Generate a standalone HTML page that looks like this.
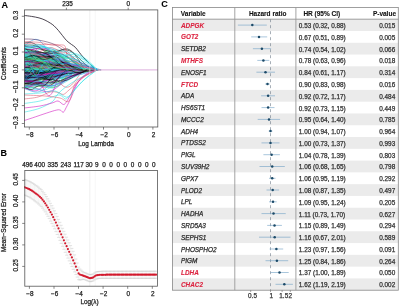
<!DOCTYPE html>
<html><head><meta charset="utf-8"><style>
html,body{margin:0;padding:0;background:#fff;overflow:hidden;width:400px;height:306px}
svg{display:block;will-change:transform}
</style></head><body>
<svg xmlns="http://www.w3.org/2000/svg" width="400" height="306" viewBox="0 0 400 306" font-family='"Liberation Sans", sans-serif'><rect width="400" height="306" fill="#fff"/><svg x="24.4" y="9.9" width="133.4" height="117.1" viewBox="24.4 9.9 133.4 117.1" overflow="hidden"><g fill="none" stroke-width="0.6" stroke-opacity="0.9"><path d="M23.7,71.3 26.2,71.6 28.6,71.7 31.1,71.5 33.5,71.2 36.0,70.7 38.4,70.1 40.9,69.5 43.3,69.0 45.8,68.7 48.2,68.6 50.7,68.8 53.1,69.2 55.6,69.8 58.0,70.5 60.5,71.3 63.0,71.9 65.4,72.3 67.9,72.4 70.3,72.3 72.8,72.0 75.2,71.5 77.7,70.9 80.1,70.4 82.6,69.9" stroke="#DF536B"/><path d="M23.7,51.7 25.9,51.0 28.1,50.9 30.3,51.8 32.5,53.6 34.7,55.8 36.9,57.6 39.1,58.2 41.3,57.4 43.5,55.2 45.7,52.2 47.9,49.4 50.1,47.7 52.3,47.9 54.5,49.9 56.7,53.4 58.9,57.6 61.1,61.6 63.2,64.6 65.4,66.2 67.6,66.8 69.8,66.8 72.0,67.1 74.2,68.0 76.4,69.9" stroke="#28E2E5"/><path d="M23.7,71.6 25.8,71.9 27.9,72.3 30.0,72.6 32.1,72.8 34.2,72.8 36.3,72.6 38.3,72.1 40.4,71.5 42.5,70.8 44.6,70.2 46.7,69.6 48.8,69.3 50.9,69.2 53.0,69.3 55.0,69.7 57.1,70.2 59.2,70.8 61.3,71.2 63.4,71.5 65.5,71.5 67.6,71.4 69.7,71.0 71.7,70.4 73.8,69.9" stroke="#2297E6"/><path d="M23.7,78.3 24.7,77.9 25.6,77.5 26.6,77.1 27.5,76.9 28.5,76.9 29.4,77.2 30.4,77.8 31.3,78.6 32.3,79.5 33.2,80.4 34.2,81.0 35.1,81.4 36.1,81.3 37.0,80.9 38.0,80.1 38.9,78.9 39.9,77.5 40.8,76.1 41.8,74.6 42.7,73.3 43.7,72.1 44.6,71.2 45.6,70.5 46.5,69.9" stroke="#28E2E5"/><path d="M23.7,65.4 24.2,65.6 24.7,65.9 25.2,66.2 25.7,66.6 26.2,66.9 26.7,67.3 27.1,67.6 27.6,67.8 28.1,67.9 28.6,67.9 29.1,67.9 29.6,67.8 30.1,67.8 30.6,67.8 31.0,67.8 31.5,68.0 32.0,68.2 32.5,68.5 33.0,68.8 33.5,69.1 34.0,69.4 34.5,69.6 34.9,69.8 35.4,69.9" stroke="#CD0BBC"/><path d="M23.7,68.1 23.8,68.1 23.9,68.2 23.9,68.3 24.0,68.6 24.1,68.9 24.1,69.2 24.2,69.3 24.3,69.3 24.3,69.2 24.4,68.9 24.4,68.5 24.5,68.1 24.6,67.9 24.6,67.8 24.7,67.9 24.8,68.2 24.8,68.6 24.9,69.0 25.0,69.4 25.0,69.6 25.1,69.8 25.2,69.8 25.2,69.9 25.3,69.9" stroke="#61D04F"/><path d="M23.7,63.6 26.2,63.7 28.7,64.0 31.2,64.3 33.7,64.4 36.2,64.3 38.7,63.9 41.2,63.3 43.8,62.6 46.3,62.0 48.8,61.7 51.3,61.7 53.8,62.1 56.3,62.9 58.8,63.8 61.3,64.7 63.8,65.4 66.3,66.0 68.8,66.3 71.3,66.6 73.8,66.9 76.3,67.3 78.8,68.0 81.3,68.9 83.8,69.9" stroke="#000000"/><path d="M23.7,76.3 24.0,75.8 24.2,75.2 24.4,74.7 24.6,74.6 24.8,74.9 25.0,75.5 25.2,76.3 25.5,76.8 25.7,76.8 25.9,76.1 26.1,74.9 26.3,73.4 26.5,71.9 26.8,70.8 27.0,70.3 27.2,70.4 27.4,70.9 27.6,71.6 27.8,72.0 28.1,72.1 28.3,71.8 28.5,71.1 28.7,70.4 28.9,69.9" stroke="#28E2E5"/><path d="M23.7,64.9 25.3,64.7 26.9,64.6 28.5,64.4 30.0,64.3 31.6,64.3 33.2,64.3 34.8,64.4 36.4,64.6 37.9,64.8 39.5,64.9 41.1,65.0 42.7,65.1 44.2,65.1 45.8,65.1 47.4,65.2 49.0,65.4 50.6,65.6 52.1,66.1 53.7,66.6 55.3,67.3 56.9,67.9 58.4,68.6 60.0,69.3 61.6,69.9" stroke="#61D04F"/><path d="M23.7,70.0 24.9,70.0 26.0,70.0 27.2,70.0 28.3,70.0 29.5,70.1 30.6,70.1 31.8,70.1 32.9,70.1 34.1,70.1 35.2,70.1 36.4,70.1 37.5,70.0 38.7,70.0 39.8,69.9 41.0,69.9 42.1,69.8 43.2,69.8 44.4,69.8 45.5,69.9 46.7,69.9 47.8,69.9 49.0,69.9 50.1,69.9 51.3,69.9" stroke="#000000"/><path d="M23.7,73.1 24.8,73.0 25.9,73.0 27.0,73.0 28.0,73.0 29.1,73.0 30.2,72.9 31.3,72.9 32.3,72.8 33.4,72.7 34.5,72.6 35.6,72.5 36.6,72.4 37.7,72.3 38.8,72.2 39.9,72.1 40.9,71.9 42.0,71.7 43.1,71.5 44.1,71.2 45.2,70.9 46.3,70.7 47.4,70.4 48.4,70.2 49.5,69.9" stroke="#28E2E5"/><path d="M23.7,78.0 25.3,78.3 27.0,78.5 28.6,78.5 30.2,78.2 31.8,77.6 33.4,76.8 35.0,75.9 36.6,75.2 38.2,74.9 39.8,74.9 41.4,75.2 43.1,75.8 44.7,76.4 46.3,76.8 47.9,76.9 49.5,76.6 51.1,75.8 52.7,74.7 54.3,73.5 55.9,72.4 57.5,71.5 59.2,70.8 60.8,70.3 62.4,69.9" stroke="#000000"/><path d="M23.7,63.2 26.3,63.4 28.9,63.6 31.5,63.8 34.1,63.9 36.7,63.6 39.2,63.2 41.8,62.8 44.4,62.6 47.0,62.8 49.6,63.4 52.1,64.4 54.7,65.5 57.3,66.4 59.9,67.1 62.5,67.2 65.1,67.0 67.6,66.6 70.2,66.3 72.8,66.2 75.4,66.6 78.0,67.3 80.6,68.2 83.1,69.1 85.7,69.9" stroke="#000000"/><path d="M23.7,73.0 25.7,72.8 27.7,72.6 29.7,72.5 31.7,72.6 33.7,72.9 35.7,73.3 37.7,73.8 39.7,74.2 41.7,74.4 43.6,74.4 45.6,74.0 47.6,73.4 49.6,72.7 51.6,72.0 53.6,71.4 55.6,71.1 57.6,70.9 59.6,71.0 61.6,71.1 63.5,71.1 65.5,71.0 67.5,70.7 69.5,70.3 71.5,69.9" stroke="#CD0BBC"/><path d="M23.7,74.5 25.5,74.5 27.2,74.4 28.9,74.3 30.7,74.3 32.4,74.2 34.2,74.1 35.9,74.0 37.6,73.9 39.4,73.8 41.1,73.6 42.8,73.5 44.6,73.3 46.3,73.2 48.1,73.0 49.8,72.7 51.5,72.5 53.3,72.2 55.0,71.9 56.7,71.6 58.5,71.2 60.2,70.9 62.0,70.6 63.7,70.2 65.4,69.9" stroke="#2297E6"/><path d="M23.7,66.6 25.5,66.9 27.2,67.1 28.9,67.1 30.6,67.0 32.4,66.7 34.1,66.3 35.8,65.8 37.5,65.2 39.3,64.8 41.0,64.5 42.7,64.3 44.4,64.4 46.2,64.7 47.9,65.3 49.6,66.0 51.3,66.8 53.1,67.6 54.8,68.3 56.5,69.0 58.2,69.4 60.0,69.7 61.7,69.9 63.4,69.9 65.1,69.9" stroke="#000000"/><path d="M23.7,55.8 26.3,55.8 28.9,56.0 31.5,56.2 34.1,56.4 36.7,56.8 39.3,57.2 41.9,57.6 44.5,58.1 47.1,58.6 49.7,59.1 52.3,59.6 54.9,60.0 57.5,60.4 60.1,60.8 62.7,61.2 65.3,61.7 67.9,62.3 70.5,63.0 73.1,63.9 75.7,64.9 78.3,66.0 80.9,67.3 83.5,68.6 86.1,69.9" stroke="#61D04F"/><path d="M23.7,60.7 25.6,60.8 27.5,61.0 29.4,61.1 31.2,61.2 33.1,61.3 35.0,61.4 36.9,61.5 38.7,61.7 40.6,62.0 42.5,62.4 44.4,62.9 46.2,63.5 48.1,64.0 50.0,64.6 51.9,65.1 53.7,65.6 55.6,66.0 57.5,66.4 59.4,66.8 61.3,67.3 63.1,67.8 65.0,68.5 66.9,69.2 68.8,69.9" stroke="#000000"/><path d="M23.7,69.8 25.3,69.9 26.9,70.1 28.5,70.2 30.1,70.3 31.7,70.2 33.3,70.0 34.9,69.8 36.5,69.5 38.1,69.2 39.7,68.9 41.3,68.8 42.9,68.8 44.5,69.0 46.1,69.2 47.7,69.6 49.3,69.9 50.9,70.2 52.5,70.4 54.1,70.4 55.7,70.4 57.3,70.3 58.9,70.1 60.5,70.0 62.1,69.9" stroke="#DF536B"/><path d="M23.7,65.3 24.8,65.4 26.0,65.6 27.1,65.8 28.2,66.0 29.3,66.1 30.4,66.1 31.5,66.0 32.6,65.8 33.7,65.6 34.8,65.5 36.0,65.5 37.1,65.8 38.2,66.2 39.3,66.8 40.4,67.3 41.5,67.9 42.6,68.3 43.7,68.6 44.8,68.8 45.9,68.9 47.1,69.0 48.2,69.2 49.3,69.5 50.4,69.9" stroke="#28E2E5"/><path d="M23.7,79.3 26.4,79.1 29.1,79.7 31.7,80.9 34.4,82.5 37.1,84.3 39.7,86.0 42.4,87.1 45.1,87.5 47.7,87.0 50.4,85.5 53.1,83.2 55.8,80.3 58.4,77.2 61.1,74.2 63.8,71.7 66.4,69.9 69.1,69.0 71.8,68.8 74.4,69.1 77.1,69.8 79.8,70.5 82.4,70.9 85.1,70.7 87.8,69.9" stroke="#DF536B"/><path d="M23.7,70.5 25.9,70.5 28.1,70.5 30.2,70.4 32.4,70.4 34.6,70.3 36.7,70.3 38.9,70.3 41.1,70.4 43.2,70.5 45.4,70.6 47.6,70.7 49.7,70.8 51.9,70.8 54.1,70.8 56.2,70.8 58.4,70.7 60.6,70.5 62.7,70.4 64.9,70.3 67.1,70.1 69.2,70.0 71.4,69.9 73.6,69.9 75.7,69.9" stroke="#2297E6"/><path d="M23.7,68.3 26.2,68.7 28.7,69.0 31.1,69.1 33.6,68.8 36.0,68.3 38.5,67.5 40.9,66.6 43.4,65.9 45.8,65.6 48.3,65.8 50.8,66.5 53.2,67.5 55.7,68.7 58.1,69.8 60.6,70.6 63.0,71.0 65.5,71.0 68.0,70.6 70.4,70.0 72.9,69.5 75.3,69.1 77.8,69.1 80.2,69.4 82.7,69.9" stroke="#000000"/><path d="M23.7,66.3 25.0,66.2 26.4,66.3 27.7,66.5 29.0,66.7 30.3,67.0 31.6,67.3 32.9,67.4 34.2,67.5 35.5,67.4 36.9,67.2 38.2,67.1 39.5,67.1 40.8,67.3 42.1,67.6 43.4,68.1 44.7,68.5 46.0,69.0 47.3,69.2 48.7,69.4 50.0,69.5 51.3,69.5 52.6,69.5 53.9,69.6 55.2,69.9" stroke="#61D04F"/><path d="M23.7,67.0 25.8,67.1 27.9,67.2 29.9,67.3 32.0,67.4 34.1,67.5 36.1,67.5 38.2,67.4 40.3,67.3 42.3,67.2 44.4,67.1 46.5,67.0 48.5,67.1 50.6,67.1 52.6,67.3 54.7,67.5 56.8,67.7 58.8,68.0 60.9,68.3 63.0,68.6 65.0,68.9 67.1,69.2 69.2,69.5 71.2,69.7 73.3,69.9" stroke="#2297E6"/><path d="M23.7,72.1 25.9,72.0 28.0,72.0 30.1,72.1 32.2,72.2 34.3,72.3 36.4,72.4 38.6,72.3 40.7,72.2 42.8,72.0 44.9,71.7 47.0,71.4 49.1,71.2 51.3,71.1 53.4,71.1 55.5,71.2 57.6,71.3 59.7,71.3 61.8,71.3 64.0,71.1 66.1,70.9 68.2,70.6 70.3,70.3 72.4,70.1 74.6,69.9" stroke="#2297E6"/><path d="M23.7,70.3 25.7,69.9 27.7,69.5 29.7,69.1 31.8,68.9 33.8,69.0 35.8,69.4 37.8,70.0 39.8,70.8 41.8,71.7 43.8,72.5 45.8,73.1 47.8,73.3 49.8,73.2 51.8,72.7 53.8,71.9 55.8,71.0 57.8,70.1 59.8,69.4 61.8,68.9 63.8,68.7 65.8,68.9 67.8,69.2 69.8,69.5 71.8,69.9" stroke="#61D04F"/><path d="M23.7,86.1 25.6,85.8 27.4,85.4 29.2,84.6 31.0,83.6 32.8,82.5 34.6,81.3 36.4,80.2 38.2,79.5 40.1,79.0 41.9,79.0 43.7,79.2 45.5,79.5 47.3,79.7 49.1,79.7 50.9,79.3 52.8,78.7 54.6,77.7 56.4,76.6 58.2,75.4 60.0,74.3 61.8,73.1 63.6,72.1 65.5,71.0 67.3,69.9" stroke="#000000"/><path d="M23.7,68.3 25.4,68.4 27.0,68.4 28.6,68.3 30.2,68.2 31.8,67.9 33.4,67.7 35.0,67.4 36.6,67.2 38.3,67.1 39.9,67.1 41.5,67.3 43.1,67.6 44.7,68.0 46.3,68.5 47.9,68.9 49.5,69.3 51.2,69.7 52.8,69.9 54.4,70.1 56.0,70.1 57.6,70.1 59.2,70.0 60.8,69.9 62.4,69.9" stroke="#28E2E5"/><path d="M23.7,67.4 23.9,67.6 24.1,67.8 24.3,68.0 24.5,68.1 24.7,68.2 24.9,68.1 25.1,68.0 25.3,67.9 25.5,67.7 25.7,67.5 25.9,67.4 26.1,67.4 26.3,67.5 26.5,67.7 26.7,68.0 26.9,68.4 27.1,68.7 27.2,69.1 27.4,69.4 27.6,69.6 27.8,69.8 28.0,69.9 28.2,69.9 28.4,69.9" stroke="#000000"/><path d="M23.7,53.9 24.2,54.2 24.7,54.4 25.1,54.6 25.6,54.5 26.1,54.3 26.6,53.7 27.0,52.9 27.5,52.0 28.0,51.2 28.4,50.6 28.9,50.5 29.4,51.1 29.9,52.2 30.3,53.9 30.8,56.0 31.3,58.3 31.7,60.5 32.2,62.5 32.7,64.3 33.1,65.7 33.6,66.9 34.1,68.0 34.6,68.9 35.0,69.9" stroke="#28E2E5"/><path d="M23.7,78.9 24.7,78.8 25.7,78.4 26.7,77.9 27.6,77.1 28.6,76.4 29.6,75.6 30.6,74.9 31.6,74.4 32.5,74.2 33.5,74.1 34.5,74.4 35.5,74.9 36.4,75.5 37.4,76.2 38.4,76.8 39.4,77.2 40.4,77.3 41.3,77.0 42.3,76.4 43.3,75.5 44.3,74.2 45.2,72.8 46.2,71.3 47.2,69.9" stroke="#000000"/><path d="M23.7,77.9 25.2,78.3 26.7,78.2 28.2,77.4 29.7,76.0 31.2,74.2 32.7,72.6 34.2,71.3 35.7,70.9 37.2,71.4 38.7,72.7 40.2,74.4 41.7,76.1 43.2,77.4 44.7,77.9 46.2,77.5 47.7,76.3 49.2,74.7 50.7,72.9 52.2,71.4 53.7,70.5 55.2,70.1 56.7,70.1 58.2,70.1 59.7,69.9" stroke="#2297E6"/><path d="M23.7,74.1 24.9,74.2 26.1,74.2 27.3,74.2 28.4,74.1 29.6,74.0 30.8,73.8 32.0,73.7 33.1,73.5 34.3,73.4 35.5,73.4 36.7,73.4 37.8,73.4 39.0,73.4 40.2,73.3 41.4,73.2 42.5,73.0 43.7,72.6 44.9,72.3 46.1,71.9 47.2,71.4 48.4,71.0 49.6,70.6 50.8,70.3 51.9,69.9" stroke="#2297E6"/><path d="M23.7,70.1 26.0,70.1 28.3,70.1 30.6,70.2 32.9,70.2 35.2,70.3 37.5,70.3 39.8,70.3 42.0,70.3 44.3,70.3 46.6,70.2 48.9,70.1 51.2,70.0 53.5,69.9 55.8,69.8 58.1,69.7 60.4,69.7 62.6,69.7 64.9,69.7 67.2,69.8 69.5,69.8 71.8,69.9 74.1,69.9 76.4,69.9 78.7,69.9" stroke="#000000"/><path d="M23.7,74.4 25.1,74.4 26.5,74.3 27.9,74.2 29.3,74.1 30.6,74.0 32.0,73.8 33.4,73.7 34.8,73.5 36.2,73.4 37.6,73.3 38.9,73.2 40.3,73.1 41.7,73.0 43.1,72.9 44.5,72.7 45.9,72.5 47.2,72.3 48.6,72.1 50.0,71.8 51.4,71.4 52.8,71.1 54.1,70.7 55.5,70.3 56.9,69.9" stroke="#CD0BBC"/><path d="M23.7,58.0 24.1,57.9 24.5,57.5 24.8,57.2 25.2,57.1 25.5,57.3 25.9,57.9 26.2,58.9 26.6,60.2 27.0,61.8 27.3,63.3 27.7,64.5 28.0,65.4 28.4,65.9 28.8,65.9 29.1,65.7 29.5,65.3 29.8,65.0 30.2,64.9 30.5,65.2 30.9,65.8 31.3,66.8 31.6,67.9 32.0,69.0 32.3,69.9" stroke="#2297E6"/><path d="M23.7,69.6 24.2,69.7 24.6,69.9 25.1,70.1 25.5,70.0 25.9,69.8 26.4,69.4 26.8,68.9 27.3,68.6 27.7,68.5 28.2,68.7 28.6,69.1 29.0,69.7 29.5,70.3 29.9,70.7 30.4,70.8 30.8,70.6 31.3,70.2 31.7,69.8 32.1,69.5 32.6,69.3 33.0,69.4 33.5,69.6 33.9,69.8 34.3,69.9" stroke="#28E2E5"/><path d="M23.7,60.1 24.6,59.7 25.5,59.5 26.4,59.4 27.3,59.5 28.2,59.6 29.1,59.6 30.0,59.2 30.8,58.6 31.7,57.8 32.6,57.1 33.5,56.6 34.4,56.7 35.3,57.3 36.2,58.5 37.1,60.1 37.9,61.9 38.8,63.5 39.7,64.9 40.6,65.9 41.5,66.6 42.4,67.1 43.3,67.8 44.2,68.7 45.1,69.9" stroke="#000000"/><path d="M23.7,65.4 24.3,65.2 24.9,65.1 25.5,65.0 26.1,65.1 26.7,65.3 27.3,65.7 27.8,66.1 28.4,66.7 29.0,67.2 29.6,67.6 30.2,67.9 30.8,68.0 31.4,67.9 31.9,67.7 32.5,67.5 33.1,67.3 33.7,67.2 34.3,67.2 34.9,67.4 35.5,67.8 36.0,68.3 36.6,68.9 37.2,69.4 37.8,69.9" stroke="#CD0BBC"/><path d="M23.7,70.5 26.9,70.3 30.0,70.2 33.1,70.0 36.2,70.0 39.4,70.1 42.5,70.3 45.6,70.7 48.7,71.1 51.9,71.4 55.0,71.5 58.1,71.5 61.2,71.2 64.4,70.8 67.5,70.3 70.6,69.8 73.7,69.5 76.8,69.4 80.0,69.4 83.1,69.5 86.2,69.7 89.3,69.9 92.5,70.0 95.6,70.0 98.7,69.9" stroke="#000000"/><path d="M23.7,80.4 25.9,80.4 28.1,80.4 30.3,80.3 32.5,80.1 34.7,79.7 36.8,79.0 39.0,78.1 41.2,77.0 43.4,76.0 45.6,75.0 47.8,74.3 50.0,73.8 52.1,73.6 54.3,73.6 56.5,73.7 58.7,73.8 60.9,73.8 63.1,73.5 65.2,73.1 67.4,72.5 69.6,71.9 71.8,71.2 74.0,70.6 76.2,69.9" stroke="#28E2E5"/><path d="M23.7,66.4 25.3,66.6 26.8,66.7 28.4,66.7 30.0,66.5 31.5,66.2 33.1,65.8 34.6,65.6 36.2,65.7 37.7,66.0 39.3,66.5 40.8,67.1 42.4,67.7 43.9,68.2 45.5,68.3 47.0,68.3 48.6,68.1 50.2,67.8 51.7,67.6 53.3,67.7 54.8,68.0 56.4,68.4 57.9,69.0 59.5,69.5 61.0,69.9" stroke="#DF536B"/><path d="M23.7,66.4 26.0,66.6 28.2,66.6 30.5,66.5 32.7,66.3 34.9,65.9 37.2,65.6 39.4,65.4 41.7,65.4 43.9,65.6 46.1,66.0 48.4,66.6 50.6,67.3 52.9,68.0 55.1,68.6 57.3,68.9 59.6,69.0 61.8,68.9 64.1,68.8 66.3,68.6 68.5,68.5 70.8,68.6 73.0,68.9 75.3,69.4 77.5,69.9" stroke="#28E2E5"/><path d="M23.7,63.7 26.1,63.6 28.4,63.6 30.7,63.7 33.1,64.0 35.4,64.4 37.8,65.0 40.1,65.7 42.4,66.5 44.8,67.3 47.1,68.1 49.4,68.7 51.8,69.1 54.1,69.2 56.4,69.2 58.8,68.9 61.1,68.6 63.5,68.3 65.8,68.1 68.1,68.0 70.5,68.1 72.8,68.3 75.1,68.7 77.5,69.3 79.8,69.9" stroke="#2297E6"/><path d="M23.7,58.5 25.8,58.6 27.9,58.7 30.0,58.8 32.1,59.0 34.2,59.3 36.3,59.6 38.4,59.9 40.5,60.3 42.6,60.8 44.7,61.4 46.7,61.9 48.8,62.5 50.9,63.1 53.0,63.7 55.1,64.2 57.2,64.7 59.3,65.2 61.4,65.7 63.5,66.3 65.6,66.9 67.7,67.6 69.7,68.3 71.8,69.1 73.9,69.9" stroke="#28E2E5"/><path d="M23.7,62.9 25.7,63.1 27.7,63.3 29.7,63.4 31.7,63.4 33.7,63.2 35.7,63.0 37.7,62.8 39.7,62.5 41.7,62.3 43.7,62.1 45.7,62.1 47.7,62.3 49.7,62.6 51.7,63.0 53.7,63.6 55.7,64.3 57.7,65.0 59.7,65.8 61.7,66.5 63.7,67.3 65.7,67.9 67.7,68.6 69.7,69.2 71.7,69.9" stroke="#CD0BBC"/><path d="M23.7,63.5 24.0,64.1 24.3,64.3 24.7,64.1 25.0,63.5 25.3,62.8 25.6,62.4 25.9,62.6 26.2,63.6 26.5,65.2 26.8,67.2 27.1,69.1 27.4,70.4 27.7,70.9 28.0,70.6 28.3,69.6 28.6,68.4 28.9,67.3 29.2,66.8 29.5,67.0 29.8,67.6 30.1,68.5 30.4,69.3 30.7,69.8 31.0,69.9" stroke="#61D04F"/><path d="M23.7,52.9 26.2,53.0 28.6,53.2 31.0,53.5 33.4,53.9 35.8,54.1 38.2,54.3 40.6,54.2 43.0,54.0 45.5,53.6 47.9,53.3 50.3,53.3 52.7,53.5 55.1,54.3 57.5,55.4 59.9,56.9 62.3,58.5 64.7,60.3 67.2,61.9 69.6,63.4 72.0,64.7 74.4,65.9 76.8,67.2 79.2,68.5 81.6,69.9" stroke="#2297E6"/><path d="M23.7,60.6 26.1,60.7 28.4,60.8 30.7,60.8 33.1,60.9 35.4,60.9 37.7,60.8 40.1,60.8 42.4,60.7 44.7,60.6 47.1,60.6 49.4,60.7 51.7,60.8 54.0,61.1 56.4,61.5 58.7,62.0 61.0,62.7 63.4,63.4 65.7,64.3 68.0,65.1 70.4,66.1 72.7,67.0 75.0,68.0 77.4,69.0 79.7,69.9" stroke="#CD0BBC"/><path d="M23.7,64.6 25.5,64.6 27.3,64.7 29.1,64.7 30.9,64.8 32.7,64.9 34.5,65.1 36.3,65.3 38.1,65.7 40.0,66.1 41.8,66.6 43.6,67.1 45.4,67.5 47.2,67.9 49.0,68.2 50.8,68.4 52.6,68.5 54.4,68.6 56.2,68.7 58.0,68.8 59.8,68.9 61.6,69.1 63.4,69.3 65.2,69.6 67.0,69.9" stroke="#28E2E5"/><path d="M23.7,61.0 23.8,61.2 23.8,61.4 23.9,61.6 23.9,62.0 23.9,62.4 24.0,63.0 24.0,63.8 24.0,64.8 24.1,65.8 24.1,66.9 24.2,67.9 24.2,68.7 24.2,69.3 24.3,69.7 24.3,69.9 24.4,69.9 24.4,69.8 24.4,69.6 24.5,69.5 24.5,69.3 24.5,69.3 24.6,69.4 24.6,69.6 24.7,69.9" stroke="#000000"/><path d="M23.7,85.8 26.2,85.8 28.7,85.8 31.1,85.7 33.6,85.5 36.1,85.1 38.5,84.6 41.0,84.1 43.5,83.5 45.9,83.0 48.4,82.6 50.8,82.1 53.3,81.7 55.8,81.3 58.2,80.8 60.7,80.2 63.2,79.4 65.6,78.6 68.1,77.7 70.6,76.7 73.0,75.6 75.5,74.3 78.0,73.0 80.4,71.5 82.9,69.9" stroke="#CD0BBC"/><path d="M23.7,64.2 24.3,64.2 24.9,63.8 25.5,63.1 26.0,62.7 26.6,62.9 27.2,63.9 27.8,65.6 28.3,67.4 28.9,68.9 29.5,69.3 30.1,68.7 30.6,67.1 31.2,65.2 31.8,63.6 32.3,62.8 32.9,63.2 33.5,64.6 34.1,66.6 34.6,68.5 35.2,69.8 35.8,70.4 36.4,70.4 36.9,70.0 37.5,69.9" stroke="#28E2E5"/><path d="M23.7,71.5 25.9,72.1 28.2,72.8 30.4,73.2 32.6,73.3 34.8,73.0 37.0,72.2 39.2,71.0 41.4,69.6 43.6,68.2 45.8,67.1 48.0,66.4 50.2,66.3 52.5,66.7 54.7,67.7 56.9,68.9 59.1,70.3 61.3,71.5 63.5,72.5 65.7,72.9 67.9,72.8 70.1,72.3 72.3,71.6 74.5,70.7 76.8,69.9" stroke="#28E2E5"/><path d="M23.7,64.7 24.4,64.7 25.1,65.0 25.8,65.6 26.5,66.4 27.2,67.0 27.9,67.3 28.5,67.1 29.2,66.5 29.9,65.5 30.6,64.5 31.3,63.9 32.0,63.8 32.6,64.3 33.3,65.3 34.0,66.7 34.7,68.0 35.4,69.1 36.1,69.8 36.8,70.0 37.4,69.8 38.1,69.5 38.8,69.3 39.5,69.5 40.2,69.9" stroke="#2297E6"/><path d="M23.7,57.4 25.6,57.5 27.5,57.6 29.4,57.4 31.2,57.3 33.1,57.3 35.0,57.6 36.8,58.2 38.7,59.3 40.6,60.7 42.5,62.4 44.3,64.0 46.2,65.5 48.1,66.6 50.0,67.2 51.8,67.4 53.7,67.2 55.6,66.8 57.4,66.4 59.3,66.2 61.2,66.4 63.1,67.0 64.9,67.8 66.8,68.8 68.7,69.9" stroke="#000000"/><path d="M23.7,62.3 24.2,62.6 24.6,62.9 25.0,63.3 25.4,63.7 25.8,64.2 26.3,64.6 26.7,65.0 27.1,65.3 27.5,65.6 28.0,65.9 28.4,66.2 28.8,66.5 29.2,66.8 29.6,67.1 30.1,67.4 30.5,67.7 30.9,68.0 31.3,68.3 31.8,68.6 32.2,68.9 32.6,69.2 33.0,69.4 33.4,69.7 33.9,69.9" stroke="#2297E6"/><path d="M23.7,64.1 25.1,64.3 26.5,64.5 27.9,64.7 29.3,64.8 30.7,64.9 32.0,65.0 33.4,65.0 34.8,65.0 36.2,65.0 37.6,65.0 39.0,65.0 40.3,65.0 41.7,65.1 43.1,65.2 44.5,65.4 45.9,65.6 47.3,65.9 48.7,66.4 50.0,66.9 51.4,67.4 52.8,68.1 54.2,68.7 55.6,69.3 57.0,69.9" stroke="#2297E6"/><path d="M23.7,78.1 24.1,78.0 24.4,77.9 24.7,77.8 25.1,77.6 25.4,77.3 25.8,76.7 26.1,76.0 26.4,75.1 26.8,74.3 27.1,73.7 27.4,73.2 27.8,73.0 28.1,73.1 28.5,73.3 28.8,73.5 29.1,73.6 29.5,73.5 29.8,73.2 30.1,72.7 30.5,72.1 30.8,71.4 31.1,70.7 31.5,70.2 31.8,69.9" stroke="#2297E6"/><path d="M23.7,58.5 26.1,58.7 28.4,58.9 30.8,59.0 33.1,59.1 35.5,59.2 37.8,59.1 40.2,59.1 42.5,59.0 44.9,59.0 47.2,59.0 49.5,59.1 51.9,59.4 54.2,59.8 56.6,60.3 58.9,61.0 61.3,61.8 63.6,62.6 66.0,63.6 68.3,64.6 70.7,65.6 73.0,66.7 75.4,67.8 77.7,68.8 80.1,69.9" stroke="#28E2E5"/><path d="M23.7,56.8 24.8,57.0 25.8,57.5 26.8,58.3 27.8,59.2 28.8,60.0 29.8,60.6 30.8,60.8 31.8,60.7 32.9,60.5 33.9,60.2 34.9,60.1 35.9,60.3 36.9,61.0 37.9,62.1 38.9,63.5 39.9,65.1 41.0,66.5 42.0,67.6 43.0,68.4 44.0,68.9 45.0,69.1 46.0,69.2 47.0,69.4 48.1,69.9" stroke="#DF536B"/><path d="M23.7,60.8 24.3,61.2 24.8,61.6 25.3,61.8 25.8,61.8 26.3,61.7 26.9,61.5 27.4,61.3 27.9,61.1 28.4,61.2 28.9,61.4 29.5,61.8 30.0,62.5 30.5,63.2 31.0,64.1 31.5,64.9 32.1,65.6 32.6,66.2 33.1,66.7 33.6,67.1 34.1,67.5 34.7,68.0 35.2,68.5 35.7,69.2 36.2,69.9" stroke="#28E2E5"/><path d="M23.7,69.2 25.6,69.2 27.5,69.2 29.4,69.1 31.3,69.0 33.1,68.9 35.0,68.9 36.9,69.0 38.8,69.2 40.7,69.5 42.5,69.7 44.4,69.9 46.3,70.0 48.2,70.0 50.1,69.9 52.0,69.7 53.8,69.5 55.7,69.3 57.6,69.3 59.5,69.3 61.4,69.4 63.2,69.6 65.1,69.7 67.0,69.9 68.9,69.9" stroke="#DF536B"/><path d="M23.7,52.1 26.7,51.9 29.6,52.3 32.6,53.1 35.5,53.9 38.5,54.6 41.4,54.6 44.4,54.0 47.3,52.8 50.2,51.3 53.2,50.0 56.1,49.5 59.1,50.1 62.0,51.7 65.0,54.2 67.9,57.1 70.9,59.9 73.8,62.2 76.8,63.8 79.7,64.6 82.6,65.1 85.6,65.6 88.5,66.5 91.5,68.0 94.4,69.9" stroke="#28E2E5"/><path d="M23.7,60.2 24.3,60.6 24.9,61.1 25.5,61.6 26.1,61.7 26.7,61.5 27.3,60.9 27.9,60.1 28.5,59.3 29.1,58.7 29.7,58.5 30.3,59.0 30.9,60.1 31.5,61.7 32.1,63.5 32.7,65.2 33.3,66.6 33.9,67.6 34.5,68.2 35.1,68.4 35.7,68.4 36.2,68.4 36.8,68.7 37.4,69.2 38.0,69.9" stroke="#28E2E5"/><path d="M23.7,63.3 25.8,63.3 27.9,63.3 29.9,63.4 32.0,63.5 34.1,63.8 36.1,64.2 38.2,64.6 40.2,65.1 42.3,65.6 44.4,66.0 46.4,66.4 48.5,66.7 50.6,66.9 52.6,67.0 54.7,67.0 56.8,67.0 58.8,67.0 60.9,67.0 63.0,67.1 65.0,67.3 67.1,67.7 69.1,68.2 71.2,69.0 73.3,69.9" stroke="#61D04F"/><path d="M23.7,70.5 25.9,70.5 28.0,70.5 30.1,70.5 32.2,70.5 34.4,70.5 36.5,70.6 38.6,70.6 40.7,70.6 42.9,70.6 45.0,70.6 47.1,70.5 49.3,70.5 51.4,70.4 53.5,70.3 55.6,70.3 57.8,70.3 59.9,70.2 62.0,70.2 64.1,70.2 66.3,70.2 68.4,70.1 70.5,70.1 72.6,70.0 74.8,69.9" stroke="#28E2E5"/><path d="M23.7,78.7 24.6,78.7 25.4,78.8 26.2,78.8 27.0,78.6 27.8,78.3 28.6,77.9 29.5,77.5 30.3,77.1 31.1,76.8 31.9,76.8 32.7,76.9 33.5,77.1 34.4,77.2 35.2,77.3 36.0,77.1 36.8,76.6 37.6,75.8 38.4,74.9 39.3,73.9 40.1,72.9 40.9,72.0 41.7,71.2 42.5,70.6 43.3,69.9" stroke="#2297E6"/><path d="M23.7,67.8 24.9,67.8 26.2,67.9 27.4,68.1 28.6,68.3 29.8,68.4 31.0,68.6 32.2,68.7 33.4,68.8 34.6,68.7 35.9,68.6 37.1,68.4 38.3,68.2 39.5,68.0 40.7,67.8 41.9,67.7 43.1,67.7 44.3,67.8 45.5,68.0 46.8,68.3 48.0,68.7 49.2,69.0 50.4,69.4 51.6,69.7 52.8,69.9" stroke="#000000"/><path d="M23.7,58.6 25.4,58.4 27.1,58.4 28.8,58.5 30.5,58.7 32.1,59.1 33.8,59.5 35.5,59.7 37.2,59.8 38.9,59.7 40.6,59.3 42.2,58.8 43.9,58.2 45.6,57.7 47.3,57.5 49.0,57.7 50.6,58.4 52.3,59.4 54.0,60.8 55.7,62.4 57.4,64.1 59.0,65.8 60.7,67.4 62.4,68.7 64.1,69.9" stroke="#28E2E5"/><path d="M23.7,66.7 24.0,66.8 24.2,66.9 24.4,67.0 24.7,67.1 24.9,67.1 25.1,67.2 25.4,67.3 25.6,67.4 25.8,67.7 26.1,68.0 26.3,68.3 26.5,68.6 26.8,68.9 27.0,69.1 27.3,69.2 27.5,69.3 27.7,69.3 28.0,69.3 28.2,69.3 28.4,69.4 28.7,69.5 28.9,69.7 29.1,69.8 29.4,69.9" stroke="#2297E6"/><path d="M23.7,64.5 25.4,65.0 27.0,65.5 28.6,65.9 30.2,66.1 31.9,66.0 33.5,65.5 35.1,64.9 36.7,64.0 38.3,63.2 40.0,62.5 41.6,62.0 43.2,61.8 44.8,62.0 46.5,62.6 48.1,63.6 49.7,64.7 51.3,65.9 53.0,67.1 54.6,68.1 56.2,68.9 57.8,69.4 59.4,69.7 61.1,69.8 62.7,69.9" stroke="#000000"/><path d="M23.7,69.8 25.7,69.9 27.6,70.1 29.5,70.4 31.5,70.7 33.4,70.9 35.3,71.0 37.3,70.9 39.2,70.5 41.1,70.1 43.0,69.5 45.0,68.9 46.9,68.5 48.8,68.1 50.8,68.0 52.7,68.1 54.6,68.3 56.6,68.8 58.5,69.2 60.4,69.7 62.4,70.0 64.3,70.2 66.2,70.2 68.2,70.1 70.1,69.9" stroke="#28E2E5"/><path d="M23.7,59.6 26.0,60.1 28.2,60.5 30.4,60.7 32.7,60.3 34.9,59.5 37.1,58.2 39.4,56.9 41.6,55.8 43.8,55.2 46.1,55.4 48.3,56.3 50.5,57.6 52.8,59.2 55.0,60.6 57.2,61.7 59.5,62.3 61.7,62.5 63.9,62.7 66.2,62.9 68.4,63.6 70.6,64.8 72.9,66.4 75.1,68.2 77.3,69.9" stroke="#000000"/><path d="M23.7,52.2 25.2,52.4 26.7,52.6 28.3,52.8 29.8,53.1 31.3,53.5 32.8,54.0 34.3,54.6 35.8,55.3 37.3,56.2 38.8,57.2 40.3,58.2 41.8,59.2 43.3,60.2 44.8,61.1 46.3,61.8 47.8,62.4 49.3,63.0 50.8,63.6 52.3,64.3 53.8,65.1 55.3,66.0 56.9,67.2 58.4,68.5 59.9,69.9" stroke="#28E2E5"/><path d="M23.7,78.3 24.5,78.4 25.3,78.2 26.0,77.6 26.8,76.8 27.5,76.0 28.3,75.2 29.0,74.7 29.8,74.5 30.6,74.8 31.3,75.4 32.1,76.2 32.8,77.2 33.6,78.1 34.3,78.8 35.1,79.2 35.8,79.1 36.6,78.5 37.4,77.4 38.1,76.1 38.9,74.5 39.6,73.0 40.4,71.7 41.1,70.6 41.9,69.9" stroke="#000000"/><path d="M23.7,57.3 24.3,57.9 24.9,58.3 25.5,58.3 26.1,58.1 26.7,58.0 27.3,58.3 27.9,59.2 28.5,60.7 29.1,62.6 29.7,64.7 30.3,66.5 30.9,67.7 31.5,68.2 32.1,67.9 32.7,67.0 33.3,66.0 33.9,65.2 34.5,64.8 35.1,65.1 35.7,65.9 36.3,67.1 36.9,68.3 37.5,69.3 38.1,69.9" stroke="#000000"/><path d="M23.7,87.3 26.0,87.0 28.3,86.6 30.5,86.1 32.8,85.5 35.1,84.8 37.3,84.1 39.6,83.2 41.9,82.2 44.2,81.3 46.4,80.4 48.7,79.6 51.0,79.0 53.2,78.5 55.5,78.2 57.8,78.0 60.0,77.7 62.3,77.3 64.6,76.7 66.8,76.0 69.1,75.0 71.4,73.9 73.6,72.7 75.9,71.3 78.2,69.9" stroke="#CD0BBC"/><path d="M23.7,60.3 26.4,60.4 29.0,60.6 31.7,60.7 34.3,60.9 37.0,61.1 39.6,61.4 42.3,61.7 44.9,62.1 47.5,62.5 50.2,62.9 52.8,63.3 55.5,63.7 58.1,64.0 60.8,64.4 63.4,64.7 66.1,65.1 68.7,65.5 71.3,65.9 74.0,66.4 76.6,67.0 79.3,67.7 81.9,68.4 84.6,69.1 87.2,69.9" stroke="#61D04F"/><path d="M23.7,52.6 25.9,52.7 28.0,53.2 30.1,53.8 32.3,54.5 34.4,54.9 36.5,55.2 38.7,55.1 40.8,54.8 42.9,54.5 45.1,54.3 47.2,54.4 49.3,55.1 51.5,56.3 53.6,57.9 55.7,59.8 57.9,61.7 60.0,63.4 62.1,64.8 64.3,65.8 66.4,66.5 68.5,67.0 70.7,67.7 72.8,68.6 74.9,69.9" stroke="#000000"/><path d="M23.7,59.9 24.1,60.5 24.5,61.0 24.9,61.4 25.2,61.7 25.6,61.7 26.0,61.7 26.4,61.5 26.8,61.4 27.1,61.2 27.5,61.2 27.9,61.4 28.3,61.7 28.6,62.3 29.0,63.0 29.4,63.9 29.8,64.9 30.1,65.9 30.5,66.9 30.9,67.7 31.3,68.5 31.6,69.0 32.0,69.5 32.4,69.7 32.8,69.9" stroke="#2297E6"/><path d="M23.7,61.7 26.3,61.1 28.9,60.6 31.5,60.3 34.1,60.3 36.7,60.6 39.3,61.2 41.9,62.1 44.5,63.2 47.1,64.3 49.7,65.4 52.3,66.2 54.9,66.8 57.5,67.0 60.1,67.0 62.7,66.6 65.3,66.2 67.9,65.7 70.5,65.3 73.1,65.2 75.6,65.4 78.2,66.1 80.8,67.1 83.4,68.4 86.0,69.9" stroke="#28E2E5"/><path d="M23.7,64.3 25.7,63.6 27.6,63.2 29.6,63.4 31.6,64.4 33.5,65.9 35.5,67.7 37.4,69.2 39.4,70.1 41.3,70.0 43.3,68.8 45.2,66.8 47.2,64.5 49.1,62.3 51.1,60.8 53.1,60.3 55.0,60.9 57.0,62.5 58.9,64.6 60.9,66.9 62.8,68.8 64.8,70.0 66.7,70.4 68.7,70.3 70.6,69.9" stroke="#CD0BBC"/><path d="M23.7,55.4 25.6,55.4 27.4,55.5 29.2,55.7 31.0,55.9 32.9,56.2 34.7,56.4 36.5,56.5 38.3,56.6 40.2,56.6 42.0,56.5 43.8,56.5 45.6,56.6 47.5,56.8 49.3,57.2 51.1,57.8 52.9,58.7 54.8,59.7 56.6,61.0 58.4,62.3 60.2,63.8 62.1,65.3 63.9,66.8 65.7,68.4 67.5,69.9" stroke="#28E2E5"/><path d="M23.7,62.4 24.4,62.5 25.1,62.7 25.7,62.9 26.4,63.0 27.1,63.3 27.7,63.5 28.4,63.7 29.1,63.9 29.7,64.2 30.4,64.5 31.1,64.8 31.7,65.1 32.4,65.4 33.1,65.8 33.7,66.1 34.4,66.5 35.1,66.9 35.7,67.3 36.4,67.7 37.1,68.1 37.7,68.5 38.4,69.0 39.1,69.4 39.7,69.9" stroke="#28E2E5"/><path d="M23.7,53.1 24.2,53.1 24.6,53.2 25.1,53.4 25.5,53.8 26.0,54.6 26.4,55.7 26.8,57.1 27.3,58.8 27.7,60.5 28.2,62.2 28.6,63.7 29.1,64.8 29.5,65.5 30.0,65.8 30.4,65.7 30.8,65.5 31.3,65.2 31.7,65.1 32.2,65.2 32.6,65.7 33.1,66.5 33.5,67.5 33.9,68.7 34.4,69.9" stroke="#61D04F"/><path d="M23.7,67.0 26.2,67.0 28.7,67.0 31.2,67.0 33.7,66.9 36.2,66.9 38.8,66.8 41.3,66.9 43.8,66.9 46.3,67.1 48.8,67.3 51.3,67.6 53.8,67.8 56.3,68.1 58.8,68.3 61.3,68.4 63.8,68.5 66.3,68.6 68.8,68.6 71.3,68.7 73.8,68.8 76.3,69.0 78.8,69.3 81.3,69.6 83.8,69.9" stroke="#2297E6"/><path d="M23.7,82.0 24.9,81.8 26.0,81.6 27.1,81.5 28.2,81.3 29.3,81.2 30.4,81.2 31.5,81.2 32.6,81.2 33.8,81.2 34.9,81.3 36.0,81.2 37.1,81.1 38.2,80.9 39.3,80.5 40.4,80.0 41.5,79.3 42.7,78.4 43.8,77.4 44.9,76.2 46.0,75.0 47.1,73.7 48.2,72.4 49.3,71.1 50.4,69.9" stroke="#28E2E5"/><path d="M23.7,54.6 25.1,54.6 26.5,54.6 27.9,54.6 29.2,54.5 30.6,54.4 32.0,54.2 33.3,54.0 34.7,53.7 36.1,53.5 37.5,53.4 38.8,53.5 40.2,53.9 41.6,54.5 42.9,55.3 44.3,56.3 45.7,57.5 47.1,58.8 48.4,60.1 49.8,61.5 51.2,63.0 52.6,64.6 53.9,66.3 55.3,68.1 56.7,69.9" stroke="#28E2E5"/><path d="M23.7,60.0 26.3,60.0 28.9,60.1 31.4,60.3 34.0,60.8 36.6,61.5 39.1,62.3 41.7,63.1 44.3,63.7 46.8,64.1 49.4,64.3 52.0,64.1 54.5,63.8 57.1,63.3 59.7,62.9 62.2,62.6 64.8,62.7 67.4,63.0 69.9,63.6 72.5,64.5 75.1,65.6 77.6,66.8 80.2,67.9 82.8,68.9 85.3,69.9" stroke="#DF536B"/><path d="M23.7,87.6 26.0,87.7 28.3,88.1 30.6,88.7 32.9,89.2 35.2,89.5 37.5,89.3 39.8,88.5 42.1,87.2 44.4,85.5 46.7,83.5 49.0,81.6 51.3,80.0 53.6,78.8 55.9,78.2 58.2,78.1 60.5,78.4 62.8,78.7 65.1,78.9 67.4,78.6 69.7,77.8 72.0,76.4 74.3,74.5 76.6,72.3 78.9,69.9" stroke="#28E2E5"/><path d="M23.7,58.4 24.4,58.5 25.0,58.0 25.7,57.2 26.3,56.6 27.0,56.6 27.6,57.5 28.3,59.3 28.9,61.6 29.6,64.0 30.2,65.8 30.9,66.6 31.5,66.3 32.2,65.0 32.8,63.3 33.5,61.8 34.1,61.0 34.8,61.3 35.4,62.6 36.1,64.5 36.7,66.5 37.4,68.2 38.0,69.2 38.7,69.7 39.4,69.9" stroke="#28E2E5"/><path d="M23.7,71.6 25.4,71.6 27.1,71.4 28.7,71.3 30.4,71.2 32.0,71.3 33.7,71.5 35.3,71.8 37.0,72.1 38.6,72.3 40.3,72.2 42.0,72.1 43.6,71.8 45.3,71.5 46.9,71.2 48.6,71.2 50.2,71.2 51.9,71.4 53.5,71.5 55.2,71.5 56.9,71.3 58.5,71.0 60.2,70.6 61.8,70.2 63.5,69.9" stroke="#000000"/><path d="M23.7,80.6 25.7,80.7 27.7,81.0 29.6,81.3 31.6,81.3 33.5,81.0 35.5,80.1 37.4,78.8 39.4,77.4 41.3,76.3 43.3,75.6 45.3,75.6 47.2,76.1 49.2,76.9 51.1,77.5 53.1,77.8 55.0,77.5 57.0,76.7 59.0,75.5 60.9,74.2 62.9,73.1 64.8,72.2 66.8,71.5 68.7,70.8 70.7,69.9" stroke="#DF536B"/><path d="M23.7,73.1 24.2,72.9 24.7,72.7 25.2,72.5 25.6,72.4 26.1,72.4 26.6,72.4 27.0,72.5 27.5,72.6 28.0,72.6 28.5,72.7 28.9,72.6 29.4,72.5 29.9,72.4 30.4,72.2 30.8,72.0 31.3,71.7 31.8,71.4 32.2,71.1 32.7,70.8 33.2,70.5 33.7,70.2 34.1,70.1 34.6,70.0 35.1,69.9" stroke="#CD0BBC"/><path d="M23.7,72.9 25.4,72.9 27.0,72.8 28.6,72.6 30.3,72.4 31.9,72.3 33.5,72.4 35.2,72.6 36.8,72.8 38.4,73.1 40.0,73.2 41.7,73.1 43.3,72.8 44.9,72.3 46.6,71.7 48.2,71.2 49.8,70.8 51.5,70.6 53.1,70.5 54.7,70.6 56.4,70.7 58.0,70.7 59.6,70.5 61.2,70.3 62.9,69.9" stroke="#CD0BBC"/><path d="M23.7,72.4 25.2,72.3 26.6,72.1 28.0,72.0 29.4,71.9 30.8,72.0 32.3,72.2 33.7,72.5 35.1,72.8 36.5,73.0 37.9,73.0 39.4,72.9 40.8,72.5 42.2,72.0 43.6,71.5 45.0,71.0 46.5,70.7 47.9,70.6 49.3,70.6 50.7,70.7 52.1,70.8 53.6,70.7 55.0,70.6 56.4,70.3 57.8,69.9" stroke="#2297E6"/><path d="M23.7,81.0 26.0,80.9 28.2,80.9 30.4,81.0 32.7,81.2 34.9,81.4 37.1,81.7 39.4,81.8 41.6,81.8 43.8,81.6 46.1,81.2 48.3,80.8 50.5,80.2 52.8,79.7 55.0,79.2 57.2,78.7 59.5,78.2 61.7,77.7 63.9,77.0 66.2,76.2 68.4,75.2 70.6,73.9 72.8,72.6 75.1,71.2 77.3,69.9" stroke="#28E2E5"/><path d="M23.7,72.9 25.5,72.9 27.3,73.1 29.2,73.4 31.0,73.7 32.8,74.0 34.6,74.1 36.4,74.1 38.2,74.0 40.0,73.7 41.8,73.2 43.6,72.7 45.4,72.2 47.2,71.8 49.0,71.4 50.8,71.1 52.6,71.0 54.4,70.9 56.2,71.0 58.0,71.0 59.8,71.0 61.6,70.9 63.4,70.7 65.2,70.4 67.1,69.9" stroke="#28E2E5"/><path d="M23.7,80.3 26.1,79.9 28.5,79.6 30.9,79.7 33.3,80.0 35.7,80.5 38.0,81.1 40.4,81.7 42.8,82.0 45.2,82.1 47.6,81.7 50.0,80.9 52.3,79.7 54.7,78.3 57.1,76.7 59.5,75.2 61.9,73.8 64.3,72.7 66.6,71.9 69.0,71.5 71.4,71.2 73.8,71.0 76.2,70.8 78.5,70.5 80.9,69.9" stroke="#61D04F"/><path d="M23.7,61.2 24.3,61.8 24.8,62.3 25.3,62.8 25.8,63.0 26.3,62.9 26.9,62.6 27.4,62.1 27.9,61.4 28.4,60.8 28.9,60.3 29.5,60.1 30.0,60.2 30.5,60.7 31.0,61.5 31.5,62.6 32.1,63.8 32.6,65.1 33.1,66.4 33.6,67.4 34.2,68.2 34.7,68.8 35.2,69.2 35.7,69.6 36.2,69.9" stroke="#DF536B"/><path d="M23.7,74.9 24.8,74.9 25.8,75.1 26.8,75.3 27.8,75.4 28.8,75.5 29.8,75.5 30.8,75.3 31.9,75.0 32.9,74.7 33.9,74.2 34.9,73.8 35.9,73.4 36.9,73.1 38.0,72.9 39.0,72.8 40.0,72.8 41.0,72.8 42.0,72.7 43.0,72.6 44.0,72.4 45.1,71.9 46.1,71.4 47.1,70.7 48.1,69.9" stroke="#000000"/><path d="M23.7,51.3 25.3,51.3 26.9,51.5 28.4,51.8 30.0,52.2 31.6,52.5 33.1,52.8 34.7,52.9 36.3,52.8 37.8,52.6 39.4,52.5 41.0,52.6 42.5,53.0 44.1,53.8 45.7,54.9 47.2,56.4 48.8,57.9 50.4,59.4 51.9,60.9 53.5,62.3 55.1,63.6 56.6,64.9 58.2,66.4 59.8,68.1 61.3,69.9" stroke="#2297E6"/><path d="M23.7,80.0 24.7,79.8 25.6,79.5 26.5,79.2 27.4,78.9 28.4,78.6 29.3,78.3 30.2,78.0 31.1,77.7 32.0,77.4 33.0,77.1 33.9,76.7 34.8,76.3 35.7,75.8 36.7,75.3 37.6,74.8 38.5,74.3 39.4,73.7 40.4,73.2 41.3,72.7 42.2,72.2 43.1,71.7 44.1,71.1 45.0,70.5 45.9,69.9" stroke="#DF536B"/><path d="M23.7,74.5 25.8,74.3 27.9,74.4 30.0,74.6 32.1,75.0 34.1,75.3 36.2,75.5 38.3,75.3 40.4,74.6 42.5,73.6 44.5,72.5 46.6,71.4 48.7,70.7 50.8,70.5 52.8,70.7 54.9,71.3 57.0,72.0 59.1,72.6 61.2,72.9 63.2,72.8 65.3,72.3 67.4,71.6 69.5,70.9 71.6,70.3 73.6,69.9" stroke="#28E2E5"/><path d="M23.7,72.7 24.8,72.7 25.8,72.6 26.9,72.2 27.9,71.8 29.0,71.4 30.0,71.3 31.1,71.6 32.1,72.2 33.2,73.0 34.2,73.7 35.3,74.1 36.3,74.1 37.4,73.6 38.5,72.8 39.5,71.8 40.6,70.8 41.6,70.1 42.7,69.8 43.7,69.8 44.8,70.0 45.8,70.3 46.9,70.4 47.9,70.3 49.0,69.9" stroke="#DF536B"/><path d="M23.7,70.4 25.1,70.3 26.5,70.1 27.9,69.9 29.3,69.7 30.6,69.6 32.0,69.7 33.4,70.0 34.8,70.5 36.2,71.0 37.6,71.4 38.9,71.6 40.3,71.6 41.7,71.3 43.1,70.8 44.5,70.2 45.8,69.7 47.2,69.3 48.6,69.1 50.0,69.2 51.4,69.4 52.8,69.6 54.1,69.9 55.5,70.0 56.9,69.9" stroke="#CD0BBC"/><path d="M23.7,75.2 24.5,75.0 25.3,74.5 26.1,73.9 26.9,73.4 27.7,73.2 28.5,73.4 29.3,74.1 30.1,75.0 30.9,75.9 31.7,76.5 32.5,76.5 33.3,75.8 34.1,74.7 34.9,73.2 35.7,71.8 36.5,70.7 37.3,70.0 38.1,69.9 38.9,70.2 39.7,70.6 40.5,70.9 41.4,70.9 42.2,70.5 43.0,69.9" stroke="#000000"/><path d="M23.7,68.6 24.0,68.7 24.3,68.9 24.6,69.5 24.9,70.1 25.2,70.7 25.4,71.3 25.7,71.5 26.0,71.5 26.3,71.0 26.6,70.3 26.9,69.4 27.2,68.5 27.4,67.6 27.7,67.0 28.0,66.8 28.3,66.9 28.6,67.3 28.9,67.9 29.2,68.6 29.4,69.3 29.7,69.8 30.0,70.1 30.3,70.1 30.6,69.9" stroke="#2297E6"/><path d="M23.7,64.9 25.8,64.9 27.9,65.0 30.0,65.2 32.1,65.4 34.2,65.7 36.3,65.9 38.3,66.2 40.4,66.3 42.5,66.4 44.6,66.4 46.7,66.4 48.8,66.4 50.9,66.5 52.9,66.7 55.0,67.0 57.1,67.3 59.2,67.6 61.3,67.9 63.4,68.2 65.5,68.4 67.6,68.8 69.6,69.1 71.7,69.5 73.8,69.9" stroke="#2297E6"/><path d="M23.7,58.5 26.0,58.7 28.3,58.7 30.6,58.8 32.9,58.8 35.3,58.8 37.6,58.9 39.9,59.2 42.2,59.5 44.5,59.9 46.8,60.3 49.1,60.6 51.4,60.9 53.7,61.1 56.0,61.3 58.3,61.6 60.6,62.0 62.9,62.6 65.2,63.4 67.5,64.4 69.8,65.6 72.1,66.8 74.4,67.9 76.7,69.0 79.0,69.9" stroke="#000000"/><path d="M23.7,63.0 24.8,62.6 25.8,62.6 26.8,63.0 27.9,63.7 28.9,64.6 29.9,65.5 31.0,66.2 32.0,66.5 33.0,66.2 34.0,65.6 35.1,64.5 36.1,63.4 37.1,62.3 38.2,61.6 39.2,61.5 40.2,61.9 41.3,62.8 42.3,64.2 43.3,65.7 44.4,67.1 45.4,68.3 46.4,69.1 47.4,69.6 48.5,69.9" stroke="#CD0BBC"/><path d="M23.7,66.6 24.7,66.5 25.6,66.3 26.5,65.9 27.4,65.6 28.3,65.4 29.3,65.4 30.2,65.6 31.1,66.2 32.0,66.9 32.9,67.8 33.9,68.5 34.8,69.1 35.7,69.4 36.6,69.4 37.6,69.2 38.5,68.7 39.4,68.3 40.3,67.9 41.2,67.7 42.2,67.8 43.1,68.2 44.0,68.7 44.9,69.3 45.8,69.9" stroke="#2297E6"/><path d="M23.7,59.0 25.3,59.5 26.9,59.9 28.5,60.3 30.1,60.5 31.7,60.4 33.3,60.0 34.9,59.4 36.5,58.6 38.1,57.6 39.7,56.5 41.3,55.4 42.9,54.7 44.5,54.2 46.1,54.3 47.7,54.8 49.3,55.9 50.8,57.5 52.4,59.3 54.0,61.3 55.6,63.4 57.2,65.4 58.8,67.1 60.4,68.6 62.0,69.9" stroke="#CD0BBC"/><path d="M23.7,72.9 23.8,72.6 23.9,72.3 24.0,72.3 24.1,72.5 24.2,72.8 24.3,73.0 24.4,72.9 24.5,72.4 24.6,71.6 24.7,70.7 24.8,69.7 24.9,69.1 25.0,68.9 25.1,69.1 25.2,69.7 25.3,70.4 25.4,70.9 25.5,71.2 25.6,71.1 25.7,70.8 25.8,70.4 25.9,70.1 26.0,69.9 26.1,69.9" stroke="#28E2E5"/><path d="M23.7,59.6 23.9,60.1 24.0,60.8 24.1,61.7 24.3,62.6 24.4,63.5 24.5,64.3 24.6,64.8 24.8,65.2 24.9,65.3 25.0,65.2 25.2,65.1 25.3,64.9 25.4,64.8 25.6,64.8 25.7,65.1 25.8,65.5 25.9,66.2 26.1,67.0 26.2,67.8 26.3,68.5 26.5,69.1 26.6,69.5 26.7,69.8 26.8,69.9" stroke="#61D04F"/><path d="M23.7,87.2 26.5,86.8 29.3,86.3 32.0,85.8 34.8,85.4 37.5,85.4 40.3,85.6 43.1,86.1 45.8,86.6 48.6,87.1 51.3,87.3 54.1,87.0 56.8,86.4 59.6,85.3 62.4,83.8 65.1,82.2 67.9,80.5 70.6,79.0 73.4,77.5 76.2,76.3 78.9,75.2 81.7,74.1 84.4,72.9 87.2,71.5 90.0,69.9" stroke="#28E2E5"/><path d="M23.7,66.6 26.4,66.7 29.0,66.7 31.7,66.7 34.3,66.7 37.0,66.7 39.6,66.7 42.3,66.6 44.9,66.6 47.6,66.6 50.2,66.6 52.9,66.7 55.5,66.8 58.2,66.9 60.8,67.1 63.5,67.3 66.1,67.6 68.8,67.8 71.4,68.1 74.0,68.4 76.7,68.8 79.3,69.1 82.0,69.3 84.6,69.6 87.3,69.9" stroke="#61D04F"/><path d="M23.7,58.9 26.1,59.4 28.5,59.8 30.9,59.9 33.3,59.5 35.6,58.6 38.0,57.5 40.4,56.4 42.8,55.6 45.2,55.3 47.6,55.8 49.9,57.0 52.3,58.8 54.7,60.8 57.1,62.7 59.5,64.2 61.9,65.2 64.2,65.7 66.6,65.7 69.0,65.6 71.4,65.6 73.8,65.9 76.1,66.8 78.5,68.2 80.9,69.9" stroke="#000000"/><path d="M23.7,62.3 25.9,62.4 28.1,62.4 30.2,62.4 32.4,62.4 34.5,62.3 36.7,62.1 38.8,61.9 41.0,61.6 43.2,61.3 45.3,61.0 47.5,60.8 49.6,60.8 51.8,61.0 53.9,61.4 56.1,61.9 58.3,62.6 60.4,63.4 62.6,64.3 64.7,65.2 66.9,66.1 69.0,67.0 71.2,67.9 73.4,68.9 75.5,69.9" stroke="#000000"/><path d="M23.7,62.2 25.9,62.0 28.0,61.8 30.2,61.7 32.3,61.7 34.5,61.9 36.6,62.3 38.8,62.9 41.0,63.7 43.1,64.6 45.3,65.5 47.4,66.4 49.6,67.0 51.7,67.4 53.9,67.5 56.0,67.4 58.2,67.1 60.3,66.7 62.5,66.4 64.6,66.3 66.8,66.5 68.9,67.0 71.1,67.7 73.2,68.7 75.4,69.9" stroke="#CD0BBC"/><path d="M23.7,64.9 25.2,64.9 26.6,64.8 28.1,64.7 29.5,64.7 30.9,64.8 32.4,65.1 33.8,65.4 35.3,65.9 36.7,66.5 38.2,67.1 39.6,67.7 41.0,68.1 42.5,68.4 43.9,68.6 45.4,68.6 46.8,68.6 48.3,68.5 49.7,68.4 51.1,68.4 52.6,68.4 54.0,68.6 55.5,68.9 56.9,69.3 58.3,69.9" stroke="#28E2E5"/><path d="M23.7,71.1 26.0,71.1 28.2,71.0 30.4,70.9 32.7,70.7 34.9,70.7 37.1,70.8 39.3,71.0 41.6,71.2 43.8,71.4 46.0,71.5 48.3,71.4 50.5,71.2 52.7,70.9 54.9,70.5 57.2,70.3 59.4,70.1 61.6,70.2 63.9,70.3 66.1,70.5 68.3,70.6 70.6,70.5 72.8,70.4 75.0,70.2 77.2,69.9" stroke="#000000"/><path d="M23.7,67.5 25.2,67.5 26.7,67.4 28.1,67.3 29.6,67.4 31.0,67.5 32.5,67.7 33.9,67.9 35.4,68.1 36.9,68.2 38.3,68.2 39.8,68.0 41.2,67.9 42.7,67.7 44.2,67.6 45.6,67.7 47.1,67.9 48.5,68.2 50.0,68.5 51.5,68.9 52.9,69.2 54.4,69.4 55.8,69.6 57.3,69.7 58.7,69.9" stroke="#000000"/><path d="M23.7,59.8 24.6,60.1 25.5,60.5 26.4,60.9 27.3,61.3 28.2,61.7 29.1,62.1 30.0,62.3 30.9,62.4 31.8,62.4 32.7,62.4 33.6,62.3 34.5,62.3 35.4,62.4 36.2,62.6 37.1,63.0 38.0,63.6 38.9,64.3 39.8,65.1 40.7,66.0 41.6,66.9 42.5,67.8 43.4,68.6 44.3,69.3 45.2,69.9" stroke="#CD0BBC"/><path d="M23.7,65.6 24.3,65.7 24.9,65.8 25.5,65.8 26.0,65.9 26.6,65.9 27.2,65.9 27.8,66.0 28.3,66.1 28.9,66.3 29.5,66.6 30.1,67.0 30.7,67.4 31.2,67.8 31.8,68.2 32.4,68.5 33.0,68.7 33.5,68.9 34.1,69.0 34.7,69.1 35.3,69.1 35.8,69.3 36.4,69.4 37.0,69.6 37.6,69.9" stroke="#2297E6"/><path d="M23.7,64.1 25.1,64.2 26.4,64.4 27.7,64.7 29.0,64.9 30.3,64.9 31.7,64.8 33.0,64.6 34.3,64.2 35.6,63.8 37.0,63.5 38.3,63.5 39.6,63.7 40.9,64.2 42.2,64.9 43.6,65.6 44.9,66.3 46.2,66.9 47.5,67.4 48.9,67.7 50.2,68.1 51.5,68.4 52.8,68.8 54.1,69.3 55.5,69.9" stroke="#2297E6"/><path d="M23.7,65.0 23.8,65.5 23.9,66.0 23.9,66.4 24.0,66.8 24.1,67.0 24.1,67.0 24.2,66.8 24.3,66.5 24.3,66.1 24.4,65.9 24.5,65.7 24.5,65.8 24.6,66.1 24.7,66.7 24.7,67.4 24.8,68.2 24.9,69.0 25.0,69.7 25.0,70.1 25.1,70.4 25.2,70.4 25.2,70.3 25.3,70.1 25.4,69.9" stroke="#CD0BBC"/><path d="M23.7,59.5 25.5,59.6 27.2,59.6 29.0,59.7 30.7,59.7 32.4,59.8 34.2,59.8 35.9,59.8 37.7,59.9 39.4,60.0 41.1,60.1 42.9,60.3 44.6,60.6 46.4,61.0 48.1,61.5 49.9,62.1 51.6,62.7 53.3,63.5 55.1,64.3 56.8,65.2 58.6,66.1 60.3,67.0 62.0,68.0 63.8,68.9 65.5,69.9" stroke="#28E2E5"/><path d="M23.7,47.8 26.4,47.6 29.2,47.3 31.9,47.0 34.6,46.7 37.3,46.7 40.0,47.0 42.7,47.6 45.4,48.5 48.1,49.7 50.8,51.0 53.5,52.3 56.2,53.5 58.9,54.6 61.7,55.6 64.4,56.3 67.1,57.0 69.8,57.7 72.5,58.5 75.2,59.6 77.9,61.0 80.6,62.8 83.3,65.0 86.0,67.4 88.7,69.9" stroke="#28E2E5"/><path d="M23.7,75.7 25.9,76.1 28.1,76.9 30.3,77.8 32.5,78.5 34.7,78.5 36.9,77.6 39.1,76.0 41.3,74.0 43.5,72.1 45.7,70.8 47.9,70.5 50.1,71.2 52.3,72.7 54.5,74.7 56.7,76.5 58.9,77.8 61.1,78.1 63.3,77.4 65.5,75.8 67.7,73.9 69.9,72.1 72.1,70.7 74.3,70.0 76.5,69.9" stroke="#61D04F"/><path d="M23.7,63.5 25.1,63.8 26.5,64.1 27.9,64.4 29.3,64.4 30.6,64.2 32.0,63.9 33.4,63.4 34.8,63.1 36.2,63.1 37.5,63.5 38.9,64.3 40.3,65.4 41.7,66.6 43.1,67.6 44.4,68.3 45.8,68.7 47.2,68.7 48.6,68.5 50.0,68.3 51.3,68.2 52.7,68.4 54.1,68.8 55.5,69.3 56.9,69.9" stroke="#CD0BBC"/><path d="M23.7,57.7 24.7,58.0 25.7,58.2 26.7,58.3 27.7,58.2 28.6,58.1 29.6,58.1 30.6,58.2 31.6,58.6 32.6,59.3 33.6,60.2 34.5,61.2 35.5,62.2 36.5,63.1 37.5,63.7 38.5,64.1 39.5,64.4 40.4,64.6 41.4,64.8 42.4,65.3 43.4,65.9 44.4,66.8 45.4,67.8 46.3,68.9 47.3,69.9" stroke="#DF536B"/><path d="M23.7,67.2 25.3,67.0 26.9,66.6 28.5,66.1 30.1,65.5 31.6,65.0 33.2,64.7 34.8,64.7 36.4,65.1 37.9,65.9 39.5,66.9 41.1,68.1 42.7,69.3 44.3,70.3 45.8,71.1 47.4,71.6 49.0,71.6 50.6,71.4 52.2,70.9 53.7,70.3 55.3,69.8 56.9,69.4 58.5,69.2 60.1,69.4 61.6,69.9" stroke="#61D04F"/><path d="M23.7,62.1 25.5,62.1 27.2,62.2 28.9,62.4 30.6,62.7 32.3,62.9 34.0,63.2 35.7,63.4 37.5,63.5 39.2,63.6 40.9,63.6 42.6,63.6 44.3,63.5 46.0,63.4 47.7,63.4 49.5,63.4 51.2,63.6 52.9,63.9 54.6,64.4 56.3,65.1 58.0,65.9 59.8,66.9 61.5,67.9 63.2,68.9 64.9,69.9" stroke="#CD0BBC"/><path d="M23.7,52.9 26.1,52.6 28.4,52.3 30.7,52.0 33.0,51.9 35.3,52.0 37.7,52.5 40.0,53.4 42.3,54.7 44.6,56.3 46.9,58.2 49.3,60.3 51.6,62.3 53.9,64.0 56.2,65.4 58.5,66.4 60.8,67.0 63.2,67.2 65.5,67.2 67.8,67.2 70.1,67.2 72.4,67.5 74.8,68.0 77.1,68.8 79.4,69.9" stroke="#000000"/><path d="M23.7,61.1 23.9,61.3 24.2,61.4 24.4,61.4 24.6,61.5 24.8,61.8 25.0,62.2 25.2,62.9 25.4,63.8 25.6,64.8 25.8,66.0 26.0,67.1 26.2,68.2 26.4,69.0 26.6,69.5 26.8,69.8 27.0,69.8 27.3,69.6 27.5,69.3 27.7,69.0 27.9,68.8 28.1,68.8 28.3,69.0 28.5,69.4 28.7,69.9" stroke="#DF536B"/><path d="M23.7,56.1 25.9,56.3 28.1,56.9 30.3,57.6 32.5,58.2 34.7,58.5 36.9,58.3 39.0,57.7 41.2,56.8 43.4,55.8 45.6,55.0 47.8,54.7 50.0,55.0 52.2,56.1 54.3,57.8 56.5,59.9 58.7,62.2 60.9,64.3 63.1,65.9 65.3,67.1 67.5,67.8 69.7,68.1 71.8,68.4 74.0,68.9 76.2,69.9" stroke="#28E2E5"/><path d="M23.7,72.2 25.1,72.1 26.5,72.1 27.9,72.0 29.2,71.9 30.6,71.9 32.0,71.9 33.4,72.0 34.7,72.1 36.1,72.3 37.5,72.4 38.9,72.5 40.2,72.6 41.6,72.5 43.0,72.4 44.4,72.2 45.7,71.9 47.1,71.6 48.5,71.3 49.9,70.9 51.2,70.7 52.6,70.4 54.0,70.2 55.4,70.1 56.7,69.9" stroke="#CD0BBC"/><path d="M23.7,51.2 24.7,51.2 25.7,51.3 26.6,51.5 27.6,51.8 28.6,52.1 29.6,52.4 30.5,52.6 31.5,52.7 32.5,52.8 33.4,52.9 34.4,53.0 35.4,53.3 36.3,53.8 37.3,54.6 38.3,55.6 39.2,57.0 40.2,58.5 41.2,60.2 42.2,62.0 43.1,63.7 44.1,65.4 45.1,67.0 46.0,68.5 47.0,69.9" stroke="#28E2E5"/><path d="M23.7,66.8 25.7,67.0 27.7,67.0 29.7,66.7 31.8,66.2 33.8,65.6 35.8,65.2 37.8,65.0 39.8,65.3 41.8,66.1 43.8,67.1 45.8,68.3 47.8,69.2 49.8,69.8 51.8,69.9 53.8,69.6 55.8,68.9 57.8,68.2 59.8,67.6 61.8,67.3 63.8,67.5 65.8,68.0 67.8,68.7 69.8,69.4 71.8,69.9" stroke="#2297E6"/><path d="M23.7,66.2 25.8,66.2 27.9,66.2 30.0,66.2 32.1,66.2 34.2,66.1 36.3,66.1 38.4,66.1 40.5,66.2 42.6,66.2 44.7,66.3 46.8,66.4 48.9,66.6 51.0,66.7 53.1,66.9 55.2,67.1 57.2,67.4 59.3,67.6 61.4,67.9 63.5,68.2 65.6,68.5 67.7,68.9 69.8,69.2 71.9,69.5 74.0,69.9" stroke="#28E2E5"/><path d="M23.7,77.5 24.6,77.4 25.5,77.3 26.5,77.1 27.4,76.9 28.3,76.7 29.2,76.6 30.1,76.5 31.0,76.5 31.9,76.6 32.8,76.6 33.7,76.5 34.6,76.4 35.5,76.1 36.4,75.7 37.3,75.2 38.2,74.6 39.1,74.0 40.0,73.4 40.9,72.8 41.8,72.2 42.7,71.6 43.6,71.1 44.5,70.5 45.5,69.9" stroke="#2297E6"/><path d="M23.7,64.3 25.0,64.4 26.2,64.5 27.4,64.4 28.7,64.2 29.9,63.9 31.1,63.5 32.4,63.0 33.6,62.7 34.8,62.5 36.0,62.6 37.3,63.0 38.5,63.5 39.7,64.3 41.0,65.2 42.2,66.1 43.4,67.0 44.7,67.7 45.9,68.3 47.1,68.7 48.4,69.0 49.6,69.2 50.8,69.4 52.1,69.6 53.3,69.9" stroke="#61D04F"/><path d="M23.7,62.1 26.0,62.2 28.3,62.2 30.6,62.1 32.8,62.0 35.1,61.8 37.4,61.7 39.6,61.6 41.9,61.5 44.2,61.4 46.4,61.5 48.7,61.7 51.0,61.9 53.3,62.3 55.5,62.7 57.8,63.3 60.1,63.8 62.3,64.5 64.6,65.1 66.9,65.8 69.2,66.5 71.4,67.3 73.7,68.1 76.0,69.0 78.2,69.9" stroke="#000000"/><path d="M23.7,75.4 26.2,75.4 28.6,75.0 31.1,74.5 33.5,74.0 36.0,73.8 38.4,74.1 40.9,74.9 43.3,75.9 45.8,76.9 48.2,77.5 50.7,77.6 53.1,76.9 55.6,75.8 58.0,74.3 60.5,72.9 62.9,71.9 65.4,71.4 67.8,71.4 70.3,71.6 72.7,71.9 75.2,71.9 77.6,71.5 80.1,70.8 82.5,69.9" stroke="#61D04F"/><path d="M23.7,74.2 25.7,74.5 27.6,74.7 29.5,74.7 31.4,74.5 33.3,73.9 35.3,73.3 37.2,72.6 39.1,72.1 41.0,71.8 42.9,71.9 44.9,72.4 46.8,73.1 48.7,73.9 50.6,74.6 52.5,75.0 54.5,75.0 56.4,74.7 58.3,73.9 60.2,73.0 62.1,72.0 64.1,71.1 66.0,70.5 67.9,70.1 69.8,69.9" stroke="#000000"/><path d="M23.7,58.6 25.0,58.5 26.4,58.4 27.7,58.4 29.0,58.7 30.3,59.2 31.6,59.8 32.9,60.4 34.2,60.9 35.5,61.1 36.9,61.0 38.2,60.7 39.5,60.3 40.8,60.0 42.1,60.1 43.4,60.5 44.7,61.2 46.0,62.4 47.4,63.7 48.7,65.0 50.0,66.2 51.3,67.3 52.6,68.2 53.9,69.0 55.2,69.9" stroke="#28E2E5"/><path d="M23.7,70.9 24.1,70.6 24.4,70.5 24.8,70.7 25.1,71.4 25.4,72.2 25.8,72.9 26.1,73.3 26.5,73.1 26.8,72.4 27.1,71.2 27.5,69.8 27.8,68.5 28.2,67.7 28.5,67.5 28.8,67.9 29.2,68.8 29.5,69.9 29.9,70.8 30.2,71.5 30.6,71.6 30.9,71.3 31.2,70.8 31.6,70.2 31.9,69.9" stroke="#000000"/><path d="M23.7,56.0 25.9,56.0 28.1,55.9 30.4,55.8 32.6,55.8 34.8,55.8 37.0,56.0 39.2,56.3 41.4,56.7 43.6,57.1 45.8,57.5 48.0,57.7 50.2,57.9 52.4,58.0 54.6,58.1 56.8,58.5 59.0,59.0 61.2,59.9 63.4,60.9 65.6,62.2 67.8,63.6 70.0,65.0 72.3,66.6 74.5,68.2 76.7,69.9" stroke="#2297E6"/><path d="M23.7,46.3 26.0,46.5 28.2,46.8 30.4,47.2 32.6,47.6 34.8,48.1 37.0,48.6 39.2,49.0 41.4,49.5 43.7,49.9 45.9,50.3 48.1,50.7 50.3,51.2 52.5,51.8 54.7,52.5 56.9,53.5 59.2,54.7 61.4,56.1 63.6,57.8 65.8,59.6 68.0,61.6 70.2,63.7 72.4,65.8 74.7,67.9 76.9,69.9" stroke="#000000"/><path d="M23.7,73.2 24.0,73.5 24.4,74.0 24.7,74.3 25.0,74.2 25.3,73.7 25.6,72.8 25.9,71.5 26.2,70.1 26.5,68.8 26.8,67.8 27.1,67.3 27.5,67.5 27.8,68.1 28.1,69.1 28.4,70.3 28.7,71.5 29.0,72.3 29.3,72.7 29.6,72.6 29.9,72.1 30.2,71.4 30.6,70.7 30.9,70.1 31.2,69.9" stroke="#CD0BBC"/><path d="M23.7,63.1 26.0,62.9 28.2,62.6 30.4,62.4 32.6,62.3 34.8,62.4 37.1,62.7 39.3,63.2 41.5,63.8 43.7,64.6 45.9,65.4 48.1,66.2 50.4,66.8 52.6,67.2 54.8,67.4 57.0,67.5 59.2,67.4 61.5,67.3 63.7,67.2 65.9,67.2 68.1,67.3 70.3,67.7 72.6,68.3 74.8,69.1 77.0,69.9" stroke="#2297E6"/><path d="M23.7,51.0 24.1,51.9 24.4,53.0 24.7,54.1 25.0,55.1 25.3,55.6 25.7,55.7 26.0,55.3 26.3,54.5 26.6,53.4 26.9,52.4 27.3,51.6 27.6,51.4 27.9,51.8 28.2,52.8 28.5,54.5 28.9,56.8 29.2,59.3 29.5,61.8 29.8,64.2 30.1,66.3 30.5,67.9 30.8,68.9 31.1,69.6 31.4,69.9" stroke="#28E2E5"/><path d="M23.7,64.5 26.1,64.9 28.4,65.2 30.7,65.0 33.0,64.4 35.4,63.4 37.7,62.4 40.0,61.8 42.3,61.8 44.7,62.5 47.0,63.7 49.3,65.3 51.7,66.6 54.0,67.5 56.3,67.7 58.6,67.3 61.0,66.6 63.3,65.9 65.6,65.5 67.9,65.7 70.3,66.4 72.6,67.4 74.9,68.6 77.2,69.4 79.6,69.9" stroke="#DF536B"/><path d="M23.7,57.1 25.7,57.3 27.7,57.6 29.6,58.0 31.6,58.3 33.6,58.5 35.5,58.7 37.5,58.8 39.5,58.9 41.4,59.0 43.4,59.1 45.4,59.4 47.3,59.7 49.3,60.3 51.3,61.0 53.2,61.8 55.2,62.7 57.1,63.7 59.1,64.7 61.1,65.7 63.0,66.6 65.0,67.5 67.0,68.3 68.9,69.1 70.9,69.9" stroke="#28E2E5"/><path d="M23.7,52.0 24.6,52.2 25.6,52.4 26.5,52.8 27.4,53.3 28.3,53.8 29.2,54.2 30.1,54.6 31.0,54.9 31.9,55.1 32.8,55.2 33.8,55.2 34.7,55.4 35.6,55.7 36.5,56.2 37.4,57.0 38.3,58.1 39.2,59.4 40.1,60.9 41.0,62.4 42.0,64.0 42.9,65.6 43.8,67.1 44.7,68.5 45.6,69.9" stroke="#000000"/><path d="M23.7,74.3 24.1,74.4 24.5,74.5 24.9,74.4 25.2,73.9 25.6,73.1 26.0,72.2 26.3,71.5 26.7,71.1 27.1,71.2 27.4,71.8 27.8,72.8 28.2,73.7 28.6,74.4 28.9,74.6 29.3,74.2 29.7,73.3 30.0,72.2 30.4,71.1 30.8,70.3 31.2,69.9 31.5,69.8 31.9,69.9 32.3,70.0 32.6,69.9" stroke="#CD0BBC"/><path d="M23.7,61.8 25.7,61.2 27.7,60.9 29.6,60.9 31.6,61.3 33.5,62.2 35.5,63.5 37.5,65.0 39.4,66.5 41.4,67.8 43.3,68.7 45.3,69.2 47.2,69.1 49.2,68.5 51.2,67.5 53.1,66.4 55.1,65.2 57.0,64.3 59.0,63.8 61.0,63.7 62.9,64.2 64.9,65.2 66.8,66.6 68.8,68.3 70.8,69.9" stroke="#CD0BBC"/><path d="M23.7,49.3 25.3,49.3 26.9,49.2 28.5,49.2 30.1,49.3 31.7,49.5 33.3,49.8 34.9,50.3 36.4,50.8 38.0,51.4 39.6,51.9 41.2,52.3 42.8,52.7 44.4,53.1 46.0,53.5 47.6,54.1 49.2,55.0 50.7,56.2 52.3,57.7 53.9,59.5 55.5,61.5 57.1,63.5 58.7,65.6 60.3,67.8 61.9,69.9" stroke="#000000"/><path d="M23.7,78.0 24.0,78.1 24.3,78.3 24.6,78.2 24.9,77.9 25.2,77.4 25.5,76.7 25.8,75.6 26.1,74.5 26.4,73.3 26.7,72.1 27.0,71.0 27.3,70.2 27.6,69.7 27.9,69.5 28.2,69.6 28.5,69.9 28.8,70.3 29.1,70.8 29.4,71.1 29.7,71.4 30.0,71.3 30.3,71.1 30.6,70.6 30.9,69.9" stroke="#28E2E5"/><path d="M23.7,74.8 24.9,74.6 26.1,74.3 27.3,74.1 28.5,74.0 29.7,74.0 30.9,74.0 32.1,74.2 33.3,74.4 34.5,74.6 35.7,74.8 36.8,75.0 38.0,75.2 39.2,75.3 40.4,75.3 41.6,75.2 42.8,75.0 44.0,74.7 45.2,74.2 46.4,73.7 47.6,73.0 48.8,72.2 49.9,71.4 51.1,70.6 52.3,69.9" stroke="#CD0BBC"/><path d="M23.7,71.9 26.4,72.0 29.0,72.2 31.6,72.4 34.3,72.5 36.9,72.6 39.6,72.4 42.2,72.2 44.8,71.8 47.5,71.3 50.1,70.9 52.7,70.4 55.4,70.2 58.0,70.0 60.7,70.0 63.3,70.2 65.9,70.4 68.6,70.7 71.2,71.0 73.8,71.1 76.5,71.1 79.1,71.0 81.8,70.7 84.4,70.3 87.0,69.9" stroke="#61D04F"/><path d="M23.7,57.3 25.8,57.4 27.9,57.9 30.0,58.4 32.1,58.8 34.2,58.8 36.3,58.4 38.4,57.5 40.5,56.4 42.6,55.4 44.7,54.8 46.7,54.7 48.8,55.4 50.9,56.5 53.0,57.9 55.1,59.3 57.2,60.4 59.3,61.2 61.4,61.7 63.5,62.2 65.6,62.9 67.7,64.0 69.8,65.6 71.9,67.6 73.9,69.9" stroke="#28E2E5"/><path d="M23.7,65.2 25.4,65.1 27.1,64.6 28.8,64.0 30.5,63.5 32.2,63.3 33.8,63.6 35.5,64.4 37.2,65.5 38.9,66.6 40.6,67.6 42.3,68.1 43.9,68.1 45.6,67.5 47.3,66.6 49.0,65.5 50.7,64.6 52.4,64.1 54.0,64.1 55.7,64.8 57.4,65.8 59.1,67.1 60.8,68.3 62.5,69.3 64.1,69.9" stroke="#DF536B"/><path d="M23.7,45.7 25.7,44.6 27.6,43.3 29.5,41.9 31.5,40.7 33.4,39.8 35.3,39.3 37.2,39.5 39.2,40.3 41.1,41.9 43.0,44.0 44.9,46.6 46.9,49.5 48.8,52.6 50.7,55.6 52.7,58.3 54.6,60.6 56.5,62.5 58.4,63.9 60.4,65.0 62.3,65.8 64.2,66.6 66.2,67.4 68.1,68.5 70.0,69.9" stroke="#2297E6"/><path d="M23.7,54.4 25.3,54.7 26.8,55.1 28.3,55.5 29.8,56.1 31.3,56.6 32.8,57.2 34.3,57.8 35.9,58.3 37.4,58.7 38.9,59.1 40.4,59.3 41.9,59.6 43.4,59.8 44.9,60.2 46.4,60.6 48.0,61.2 49.5,61.9 51.0,62.8 52.5,63.8 54.0,64.8 55.5,66.0 57.0,67.2 58.6,68.5 60.1,69.9" stroke="#DF536B"/><path d="M23.7,65.4 26.1,65.1 28.5,64.9 30.8,64.9 33.2,65.1 35.6,65.5 38.0,66.2 40.3,67.0 42.7,67.7 45.1,68.5 47.4,69.0 49.8,69.4 52.2,69.5 54.6,69.3 56.9,69.0 59.3,68.5 61.7,68.0 64.0,67.5 66.4,67.2 68.8,67.1 71.2,67.2 73.5,67.7 75.9,68.3 78.3,69.1 80.6,69.9" stroke="#DF536B"/><path d="M23.7,64.4 23.8,64.8 23.8,65.2 23.8,65.4 23.8,65.5 23.8,65.5 23.8,65.3 23.9,65.1 23.9,64.8 23.9,64.6 23.9,64.4 23.9,64.3 23.9,64.4 24.0,64.6 24.0,65.0 24.0,65.5 24.0,66.1 24.0,66.8 24.1,67.4 24.1,68.0 24.1,68.6 24.1,69.0 24.1,69.4 24.1,69.7 24.2,69.9" stroke="#CD0BBC"/><path d="M23.7,65.0 24.4,64.5 25.0,64.3 25.6,64.6 26.2,65.4 26.9,66.5 27.5,67.8 28.1,69.2 28.8,70.2 29.4,70.9 30.0,70.9 30.6,70.3 31.3,69.3 31.9,67.9 32.5,66.4 33.2,65.1 33.8,64.1 34.4,63.7 35.0,63.9 35.7,64.6 36.3,65.7 36.9,67.0 37.6,68.3 38.2,69.3 38.8,69.9" stroke="#28E2E5"/><path d="M23.7,59.9 25.1,60.4 26.5,61.0 27.8,61.5 29.2,61.7 30.6,61.5 32.0,61.1 33.3,60.6 34.7,60.4 36.1,60.7 37.4,61.7 38.8,63.2 40.2,65.0 41.6,66.9 42.9,68.3 44.3,69.1 45.7,69.2 47.0,68.8 48.4,68.0 49.8,67.4 51.1,67.0 52.5,67.2 53.9,67.9 55.3,68.8 56.6,69.9" stroke="#61D04F"/><path d="M23.7,75.0 24.0,74.9 24.2,74.4 24.4,73.6 24.6,72.7 24.9,71.6 25.1,70.6 25.3,69.9 25.5,69.6 25.7,69.7 26.0,70.2 26.2,71.0 26.4,72.0 26.6,73.1 26.9,74.0 27.1,74.5 27.3,74.7 27.5,74.5 27.7,74.0 28.0,73.1 28.2,72.2 28.4,71.2 28.6,70.5 28.9,70.0 29.1,69.9" stroke="#CD0BBC"/><path d="M23.7,87.5 25.9,87.7 28.1,87.8 30.3,87.6 32.5,87.2 34.7,86.6 36.9,86.1 39.1,85.8 41.3,85.7 43.4,86.0 45.6,86.6 47.8,87.3 50.0,87.9 52.2,88.1 54.4,87.7 56.6,86.8 58.8,85.4 61.0,83.6 63.1,81.6 65.3,79.7 67.5,77.7 69.7,75.9 71.9,74.0 74.1,72.0 76.3,69.9" stroke="#28E2E5"/><path d="M23.7,65.4 23.8,66.5 23.8,67.1 23.9,66.6 23.9,65.0 24.0,62.9 24.1,61.1 24.1,60.4 24.2,61.3 24.2,63.9 24.3,67.5 24.3,71.2 24.4,74.1 24.4,75.2 24.5,74.4 24.5,72.0 24.6,68.9 24.6,66.1 24.7,64.4 24.7,64.1 24.8,65.2 24.8,67.1 24.9,68.8 25.0,69.9 25.0,69.9" stroke="#DF536B"/><path d="M23.7,62.3 25.5,62.6 27.2,63.2 29.0,63.8 30.7,64.3 32.4,64.3 34.2,63.8 35.9,63.0 37.7,62.1 39.4,61.4 41.2,61.2 42.9,61.7 44.6,62.9 46.4,64.5 48.1,66.2 49.9,67.8 51.6,68.8 53.3,69.2 55.1,69.1 56.8,68.7 58.6,68.3 60.3,68.2 62.1,68.4 63.8,69.0 65.5,69.9" stroke="#000000"/><path d="M23.7,66.9 24.5,67.0 25.3,66.7 26.1,66.2 26.9,65.6 27.7,65.3 28.5,65.5 29.3,66.4 30.0,67.6 30.8,68.9 31.6,69.9 32.4,70.1 33.2,69.6 34.0,68.5 34.8,67.2 35.5,66.1 36.3,65.6 37.1,65.8 37.9,66.7 38.7,67.9 39.5,69.0 40.3,69.8 41.1,70.1 41.8,70.1 42.6,69.9" stroke="#2297E6"/><path d="M23.7,65.7 25.8,65.1 27.9,64.8 30.0,65.1 32.1,66.1 34.2,67.5 36.3,69.1 38.4,70.4 40.5,71.2 42.5,71.2 44.6,70.3 46.7,68.6 48.8,66.4 50.9,64.1 53.0,62.2 55.1,61.1 57.2,60.8 59.3,61.5 61.4,62.9 63.4,64.7 65.5,66.6 67.6,68.3 69.7,69.4 71.8,69.9 73.9,69.9" stroke="#DF536B"/><path d="M23.7,71.0 24.7,71.3 25.8,71.7 26.8,72.0 27.8,72.2 28.8,72.2 29.8,71.8 30.8,71.2 31.8,70.4 32.8,69.6 33.8,68.8 34.8,68.3 35.8,68.1 36.8,68.2 37.9,68.7 38.9,69.3 39.9,70.1 40.9,70.8 41.9,71.3 42.9,71.6 43.9,71.5 44.9,71.2 45.9,70.8 46.9,70.3 47.9,69.9" stroke="#CD0BBC"/><path d="M23.7,57.3 26.3,57.4 29.0,57.1 31.6,56.7 34.2,56.0 36.8,55.3 39.4,54.8 42.0,54.6 44.6,54.8 47.2,55.5 49.8,56.5 52.4,57.8 55.1,59.3 57.7,60.7 60.3,62.0 62.9,63.0 65.5,63.7 68.1,64.2 70.7,64.5 73.3,64.8 75.9,65.2 78.5,65.9 81.2,66.9 83.8,68.2 86.4,69.9" stroke="#2297E6"/><path d="M23.7,70.7 24.5,70.6 25.3,70.4 26.1,70.2 26.9,69.9 27.7,69.8 28.4,69.7 29.2,69.8 30.0,70.0 30.8,70.3 31.6,70.6 32.4,71.0 33.2,71.3 33.9,71.6 34.7,71.7 35.5,71.8 36.3,71.6 37.1,71.4 37.9,71.1 38.6,70.7 39.4,70.4 40.2,70.1 41.0,70.0 41.8,69.9 42.6,69.9" stroke="#CD0BBC"/><path d="M23.7,62.7 24.2,62.7 24.7,62.5 25.1,62.1 25.6,61.9 26.1,62.0 26.5,62.7 27.0,63.9 27.5,65.2 27.9,66.4 28.4,67.1 28.9,67.2 29.3,66.7 29.8,65.7 30.3,64.7 30.7,64.0 31.2,63.9 31.7,64.4 32.1,65.5 32.6,66.8 33.1,68.1 33.5,69.1 34.0,69.7 34.5,69.9 34.9,69.9" stroke="#61D04F"/><path d="M23.7,84.6 26.2,84.8 28.7,84.8 31.1,84.7 33.6,84.5 36.1,84.3 38.5,84.3 41.0,84.5 43.4,85.1 45.9,85.9 48.4,86.7 50.8,87.3 53.3,87.3 55.8,86.8 58.2,85.5 60.7,83.7 63.2,81.6 65.6,79.5 68.1,77.5 70.5,75.8 73.0,74.5 75.5,73.3 77.9,72.3 80.4,71.2 82.9,69.9" stroke="#61D04F"/><path d="M23.7,77.9 25.8,77.3 27.8,76.4 29.9,75.6 31.9,75.2 34.0,75.6 36.0,76.8 38.0,78.4 40.1,80.1 42.1,81.2 44.2,81.3 46.2,80.3 48.3,78.3 50.3,75.6 52.3,73.0 54.4,70.8 56.4,69.6 58.5,69.4 60.5,70.1 62.6,71.1 64.6,72.0 66.6,72.4 68.7,72.1 70.7,71.1 72.8,69.9" stroke="#28E2E5"/><path d="M23.7,62.9 25.4,62.4 27.1,61.1 28.8,59.5 30.5,58.7 32.2,59.1 33.9,61.3 35.6,64.7 37.3,68.7 39.0,72.0 40.7,73.7 42.4,73.2 44.1,70.5 45.8,66.5 47.5,62.2 49.2,58.8 50.9,57.3 52.6,57.8 54.3,60.2 56.0,63.5 57.7,66.9 59.4,69.3 61.1,70.4 62.8,70.4 64.5,69.9" stroke="#2297E6"/><path d="M23.7,65.2 25.3,65.3 26.9,65.3 28.5,65.3 30.1,65.2 31.7,65.1 33.2,65.0 34.8,65.0 36.4,65.0 38.0,65.2 39.6,65.6 41.2,66.1 42.8,66.7 44.3,67.5 45.9,68.2 47.5,68.9 49.1,69.5 50.7,69.9 52.3,70.1 53.9,70.1 55.4,70.1 57.0,69.9 58.6,69.8 60.2,69.8 61.8,69.9" stroke="#000000"/><path d="M23.7,57.3 25.8,57.4 27.8,57.7 29.8,58.1 31.8,58.5 33.9,58.8 35.9,58.9 37.9,58.8 39.9,58.4 41.9,57.9 44.0,57.4 46.0,56.9 48.0,56.5 50.0,56.5 52.1,56.7 54.1,57.2 56.1,57.9 58.1,58.9 60.1,60.2 62.2,61.6 64.2,63.1 66.2,64.8 68.2,66.5 70.3,68.2 72.3,69.9" stroke="#000000"/><path d="M23.7,52.7 25.5,53.2 27.2,53.9 28.9,54.8 30.7,55.7 32.4,56.6 34.1,57.5 35.8,58.2 37.6,58.8 39.3,59.5 41.0,60.1 42.8,60.9 44.5,61.8 46.2,62.7 47.9,63.6 49.7,64.5 51.4,65.2 53.1,65.7 54.9,66.1 56.6,66.4 58.3,66.7 60.1,67.1 61.8,67.8 63.5,68.7 65.2,69.9" stroke="#2297E6"/><path d="M23.7,69.1 26.8,69.1 29.9,69.1 33.0,69.1 36.0,69.2 39.1,69.3 42.2,69.5 45.2,69.6 48.3,69.7 51.4,69.7 54.5,69.7 57.5,69.7 60.6,69.6 63.7,69.4 66.8,69.3 69.8,69.2 72.9,69.1 76.0,69.1 79.0,69.2 82.1,69.3 85.2,69.4 88.3,69.6 91.3,69.7 94.4,69.8 97.5,69.9" stroke="#2297E6"/><path d="M23.7,60.4 24.4,60.7 25.0,61.2 25.6,61.5 26.2,61.7 26.8,61.7 27.4,61.3 28.0,60.8 28.7,60.1 29.3,59.6 29.9,59.2 30.5,59.2 31.1,59.6 31.7,60.4 32.3,61.5 32.9,62.9 33.6,64.3 34.2,65.5 34.8,66.5 35.4,67.3 36.0,67.8 36.6,68.3 37.2,68.7 37.9,69.2 38.5,69.9" stroke="#2297E6"/><path d="M23.7,85.6 26.3,85.7 28.8,86.0 31.4,86.5 33.9,87.4 36.4,88.4 39.0,89.5 41.5,90.6 44.0,91.3 46.6,91.7 49.1,91.5 51.7,90.7 54.2,89.4 56.7,87.6 59.3,85.6 61.8,83.5 64.3,81.4 66.9,79.5 69.4,77.7 72.0,76.2 74.5,74.9 77.0,73.7 79.6,72.5 82.1,71.2 84.6,69.9" stroke="#CD0BBC"/><path d="M23.7,59.8 25.5,59.9 27.2,60.1 29.0,60.5 30.7,60.9 32.4,61.2 34.2,61.5 35.9,61.7 37.7,61.7 39.4,61.5 41.2,61.2 42.9,60.9 44.6,60.6 46.4,60.5 48.1,60.6 49.9,61.0 51.6,61.7 53.4,62.7 55.1,63.9 56.8,65.2 58.6,66.4 60.3,67.5 62.1,68.5 63.8,69.2 65.6,69.9" stroke="#CD0BBC"/><path d="M23.7,72.2 26.3,72.1 28.8,72.1 31.3,72.1 33.9,72.2 36.4,72.3 38.9,72.5 41.4,72.6 44.0,72.7 46.5,72.8 49.0,72.7 51.6,72.6 54.1,72.5 56.6,72.2 59.2,71.9 61.7,71.6 64.2,71.3 66.7,71.0 69.3,70.8 71.8,70.6 74.3,70.4 76.9,70.2 79.4,70.1 81.9,70.0 84.5,69.9" stroke="#2297E6"/><path d="M23.7,69.6 24.3,69.6 24.9,69.7 25.5,69.7 26.1,69.7 26.6,69.7 27.2,69.6 27.8,69.6 28.4,69.5 28.9,69.5 29.5,69.5 30.1,69.4 30.7,69.4 31.3,69.5 31.8,69.5 32.4,69.6 33.0,69.7 33.6,69.7 34.1,69.8 34.7,69.8 35.3,69.9 35.9,69.9 36.5,69.9 37.0,69.9 37.6,69.9" stroke="#61D04F"/><path d="M23.7,57.7 26.2,58.5 28.7,59.2 31.1,59.2 33.6,58.5 36.0,57.5 38.5,56.6 41.0,56.4 43.4,57.2 45.9,59.1 48.3,61.7 50.8,64.6 53.3,67.0 55.7,68.3 58.2,68.4 60.7,67.2 63.1,65.2 65.6,63.2 68.0,61.8 70.5,61.5 73.0,62.3 75.4,64.1 77.9,66.3 80.3,68.4 82.8,69.9" stroke="#CD0BBC"/><path d="M23.7,77.0 25.9,76.5 28.0,76.5 30.1,77.0 32.3,77.9 34.4,78.7 36.5,79.2 38.7,78.9 40.8,77.7 42.9,75.9 45.1,74.0 47.2,72.4 49.3,71.6 51.5,71.8 53.6,72.8 55.7,74.2 57.9,75.4 60.0,76.0 62.1,75.8 64.3,74.8 66.4,73.3 68.5,71.9 70.7,70.8 72.8,70.1 74.9,69.9" stroke="#2297E6"/><path d="M23.7,67.3 25.6,67.4 27.4,67.8 29.2,68.1 31.1,68.3 32.9,68.3 34.7,68.1 36.6,67.6 38.4,67.0 40.2,66.5 42.1,66.2 43.9,66.3 45.7,66.7 47.6,67.4 49.4,68.3 51.2,69.1 53.1,69.7 54.9,70.1 56.7,70.1 58.6,69.9 60.4,69.6 62.2,69.4 64.1,69.3 65.9,69.5 67.7,69.9" stroke="#28E2E5"/><path d="M23.7,67.9 24.7,68.1 25.6,68.1 26.6,67.9 27.5,67.4 28.5,66.8 29.4,66.1 30.4,65.5 31.3,65.0 32.3,64.8 33.2,64.9 34.2,65.3 35.1,65.9 36.1,66.8 37.0,67.8 38.0,68.8 38.9,69.6 39.9,70.3 40.8,70.8 41.8,71.0 42.7,71.0 43.7,70.7 44.6,70.4 45.6,70.1 46.5,69.9" stroke="#CD0BBC"/><path d="M23.7,59.8 24.8,59.7 25.8,59.5 26.8,59.4 27.8,59.6 28.9,60.2 29.9,61.1 30.9,62.2 32.0,63.0 33.0,63.5 34.0,63.3 35.0,62.8 36.1,62.0 37.1,61.4 38.1,61.3 39.1,61.8 40.2,62.8 41.2,64.2 42.2,65.7 43.3,66.9 44.3,67.8 45.3,68.4 46.3,68.7 47.4,69.2 48.4,69.9" stroke="#000000"/><path d="M23.7,63.3 25.8,62.7 27.9,62.6 30.1,63.1 32.2,64.5 34.3,66.3 36.4,68.0 38.5,69.0 40.6,68.9 42.7,67.6 44.8,65.4 46.9,62.9 49.0,60.9 51.1,60.0 53.2,60.4 55.3,62.0 57.4,64.3 59.5,66.7 61.6,68.6 63.7,69.6 65.8,69.8 67.9,69.5 70.1,69.1 72.2,69.2 74.3,69.9" stroke="#61D04F"/><path d="M23.7,70.7 26.8,70.7 29.8,70.7 32.8,70.7 35.9,70.5 38.9,70.3 41.9,70.1 45.0,70.0 48.0,69.9 51.1,70.0 54.1,70.1 57.1,70.4 60.2,70.7 63.2,71.0 66.2,71.2 69.3,71.2 72.3,71.2 75.3,71.0 78.4,70.8 81.4,70.5 84.4,70.3 87.5,70.1 90.5,69.9 93.5,69.9 96.6,69.9" stroke="#28E2E5"/><path d="M23.7,74.6 24.8,74.5 25.8,74.5 26.9,74.6 28.0,74.6 29.0,74.5 30.1,74.4 31.1,74.1 32.2,73.8 33.2,73.5 34.3,73.2 35.3,73.0 36.4,72.8 37.4,72.7 38.5,72.7 39.6,72.6 40.6,72.4 41.7,72.2 42.7,71.9 43.8,71.6 44.8,71.2 45.9,70.9 46.9,70.5 48.0,70.2 49.1,69.9" stroke="#DF536B"/><path d="M23.7,59.2 26.9,59.2 30.2,59.5 33.4,59.9 36.6,60.5 39.8,60.9 43.0,61.2 46.2,61.3 49.4,61.1 52.6,60.9 55.8,60.7 59.1,60.9 62.3,61.3 65.5,62.1 68.7,63.1 71.9,64.1 75.1,64.9 78.3,65.5 81.5,65.9 84.7,66.2 88.0,66.5 91.2,67.1 94.4,67.9 97.6,68.8 100.8,69.9" stroke="#2297E6"/><path d="M23.7,69.7 25.1,69.5 26.4,69.0 27.7,68.7 29.0,68.6 30.4,69.0 31.7,69.8 33.0,70.9 34.3,71.9 35.6,72.4 37.0,72.4 38.3,71.7 39.6,70.5 40.9,69.1 42.3,68.0 43.6,67.3 44.9,67.3 46.2,67.9 47.6,68.8 48.9,69.8 50.2,70.5 51.5,70.7 52.8,70.6 54.2,70.3 55.5,69.9" stroke="#2297E6"/><path d="M23.7,61.0 24.7,61.1 25.7,61.1 26.7,61.2 27.7,61.2 28.7,61.3 29.7,61.4 30.7,61.5 31.7,61.6 32.7,61.7 33.7,61.9 34.7,62.1 35.6,62.4 36.6,62.6 37.6,62.8 38.6,63.1 39.6,63.5 40.6,64.0 41.6,64.5 42.6,65.2 43.6,66.0 44.6,66.9 45.6,67.9 46.6,68.9 47.6,69.9" stroke="#28E2E5"/><path d="M23.7,82.9 25.5,83.3 27.4,83.7 29.2,84.0 31.0,84.0 32.8,83.7 34.6,83.1 36.4,82.1 38.2,81.0 40.0,79.8 41.8,78.7 43.6,77.7 45.5,77.0 47.3,76.6 49.1,76.5 50.9,76.6 52.7,76.7 54.5,76.8 56.3,76.7 58.1,76.3 59.9,75.6 61.7,74.5 63.5,73.1 65.4,71.5 67.2,69.9" stroke="#61D04F"/><path d="M23.7,64.9 23.9,65.8 24.1,66.7 24.3,67.6 24.5,68.2 24.7,68.6 24.8,68.7 25.0,68.4 25.2,67.9 25.4,67.2 25.6,66.2 25.8,65.3 25.9,64.4 26.1,63.7 26.3,63.3 26.5,63.2 26.7,63.4 26.9,64.0 27.1,64.8 27.2,65.8 27.4,66.9 27.6,67.9 27.8,68.8 28.0,69.5 28.2,69.9" stroke="#2297E6"/><path d="M23.7,70.9 26.9,70.9 30.0,70.9 33.1,70.9 36.2,70.9 39.3,70.9 42.4,70.9 45.6,70.9 48.7,70.8 51.8,70.8 54.9,70.7 58.0,70.6 61.1,70.5 64.3,70.4 67.4,70.3 70.5,70.3 73.6,70.3 76.7,70.3 79.8,70.3 83.0,70.2 86.1,70.2 89.2,70.2 92.3,70.1 95.4,70.0 98.5,69.9" stroke="#61D04F"/><path d="M23.7,43.3 26.3,42.5 28.9,42.2 31.4,42.5 34.0,43.5 36.5,45.1 39.1,47.1 41.6,49.2 44.2,51.1 46.8,52.6 49.3,53.5 51.9,53.6 54.4,53.1 57.0,52.0 59.6,50.7 62.1,49.6 64.7,48.9 67.2,48.9 69.8,49.9 72.4,51.8 74.9,54.7 77.5,58.3 80.0,62.2 82.6,66.2 85.1,69.9" stroke="#000000"/><path d="M23.7,62.0 25.1,62.0 26.6,62.3 28.0,62.6 29.4,63.1 30.8,63.6 32.2,64.0 33.6,64.3 35.0,64.4 36.4,64.2 37.8,63.8 39.3,63.3 40.7,62.7 42.1,62.1 43.5,61.7 44.9,61.5 46.3,61.5 47.7,61.9 49.1,62.6 50.5,63.5 52.0,64.7 53.4,66.0 54.8,67.3 56.2,68.7 57.6,69.9" stroke="#61D04F"/><path d="M23.7,65.5 26.2,66.0 28.7,66.3 31.2,66.4 33.6,66.2 36.1,65.8 38.6,65.2 41.1,64.4 43.5,63.6 46.0,62.9 48.5,62.5 51.0,62.4 53.4,62.7 55.9,63.4 58.4,64.3 60.9,65.4 63.3,66.6 65.8,67.7 68.3,68.7 70.8,69.4 73.2,69.8 75.7,70.0 78.2,70.1 80.7,70.0 83.1,69.9" stroke="#DF536B"/><path d="M23.7,54.4 24.8,54.1 25.8,53.9 26.8,53.9 27.8,54.1 28.8,54.7 29.9,55.6 30.9,56.9 31.9,58.3 32.9,59.8 33.9,61.2 34.9,62.5 36.0,63.4 37.0,64.0 38.0,64.3 39.0,64.3 40.0,64.2 41.1,64.0 42.1,64.0 43.1,64.2 44.1,64.8 45.1,65.7 46.2,66.8 47.2,68.3 48.2,69.9" stroke="#CD0BBC"/><path d="M23.7,88.4 25.6,88.6 27.5,89.1 29.4,89.7 31.3,90.3 33.1,90.7 35.0,90.9 36.9,90.6 38.8,89.8 40.7,88.7 42.5,87.1 44.4,85.4 46.3,83.6 48.2,81.8 50.1,80.2 51.9,78.8 53.8,77.6 55.7,76.7 57.6,75.9 59.5,75.3 61.3,74.7 63.2,73.9 65.1,72.9 67.0,71.6 68.9,69.9" stroke="#CD0BBC"/><path d="M23.7,69.5 26.0,69.4 28.3,69.4 30.5,69.4 32.8,69.4 35.0,69.5 37.3,69.6 39.6,69.8 41.8,69.9 44.1,70.0 46.4,70.1 48.6,70.2 50.9,70.2 53.1,70.2 55.4,70.2 57.7,70.1 59.9,70.0 62.2,69.9 64.5,69.8 66.7,69.8 69.0,69.7 71.2,69.7 73.5,69.7 75.8,69.8 78.0,69.9" stroke="#61D04F"/><path d="M23.7,72.5 25.9,72.5 28.1,72.5 30.2,72.5 32.4,72.6 34.6,72.7 36.7,72.7 38.9,72.7 41.1,72.7 43.2,72.6 45.4,72.6 47.6,72.5 49.7,72.6 51.9,72.7 54.1,72.8 56.2,72.8 58.4,72.8 60.6,72.7 62.7,72.5 64.9,72.1 67.1,71.6 69.2,71.2 71.4,70.7 73.6,70.3 75.7,69.9" stroke="#000000"/><path d="M23.7,62.9 24.7,62.8 25.7,62.8 26.6,63.0 27.6,63.4 28.6,63.8 29.5,64.1 30.5,64.1 31.5,63.9 32.4,63.5 33.4,63.0 34.4,62.6 35.4,62.5 36.3,62.8 37.3,63.5 38.3,64.6 39.2,65.7 40.2,66.8 41.2,67.6 42.1,68.2 43.1,68.5 44.1,68.7 45.0,69.0 46.0,69.4 47.0,69.9" stroke="#28E2E5"/><path d="M23.7,82.0 23.8,81.4 23.9,80.7 24.0,79.9 24.0,79.1 24.1,78.2 24.2,77.3 24.2,76.5 24.3,75.8 24.4,75.3 24.5,74.9 24.5,74.7 24.6,74.5 24.7,74.5 24.7,74.6 24.8,74.6 24.9,74.5 25.0,74.4 25.0,74.1 25.1,73.7 25.2,73.1 25.2,72.4 25.3,71.6 25.4,70.7 25.5,69.9" stroke="#DF536B"/><path d="M23.7,80.3 23.7,79.6 23.7,78.8 23.7,78.1 23.7,77.4 23.7,76.8 23.7,76.4 23.7,76.1 23.7,75.8 23.7,75.7 23.8,75.5 23.8,75.2 23.8,74.9 23.8,74.5 23.8,74.0 23.8,73.4 23.8,72.8 23.8,72.3 23.8,71.7 23.8,71.3 23.8,70.9 23.8,70.5 23.8,70.3 23.8,70.1 23.8,69.9" stroke="#2297E6"/><path d="M23.7,82.2 24.1,81.9 24.4,81.7 24.7,81.6 25.1,81.4 25.4,81.1 25.7,80.8 26.1,80.4 26.4,79.8 26.7,79.1 27.1,78.4 27.4,77.5 27.7,76.7 28.1,76.0 28.4,75.3 28.7,74.7 29.1,74.2 29.4,73.8 29.7,73.3 30.1,72.9 30.4,72.4 30.7,71.9 31.1,71.3 31.4,70.6 31.7,69.9" stroke="#2297E6"/><path d="M23.7,61.3 26.1,61.3 28.4,61.2 30.8,61.0 33.2,60.7 35.5,60.4 37.9,60.2 40.2,60.2 42.6,60.6 44.9,61.1 47.3,61.8 49.6,62.5 52.0,63.0 54.3,63.4 56.7,63.7 59.1,63.9 61.4,64.1 63.8,64.5 66.1,65.1 68.5,65.9 70.8,66.8 73.2,67.7 75.5,68.6 77.9,69.3 80.2,69.9" stroke="#000000"/><path d="M23.7,66.1 25.1,66.4 26.4,66.9 27.7,67.5 29.0,67.9 30.3,67.9 31.6,67.5 32.9,66.7 34.2,65.7 35.6,64.9 36.9,64.4 38.2,64.6 39.5,65.5 40.8,66.8 42.1,68.5 43.4,70.0 44.7,71.1 46.1,71.6 47.4,71.5 48.7,70.9 50.0,70.2 51.3,69.6 52.6,69.3 53.9,69.4 55.2,69.9" stroke="#000000"/><path d="M23.7,59.8 26.3,59.8 28.9,59.8 31.5,59.6 34.1,59.5 36.7,59.3 39.2,59.1 41.8,59.1 44.4,59.3 47.0,59.6 49.6,60.0 52.2,60.5 54.7,61.1 57.3,61.5 59.9,62.0 62.5,62.4 65.1,62.8 67.7,63.3 70.2,64.0 72.8,64.8 75.4,65.8 78.0,66.8 80.6,67.8 83.2,68.9 85.7,69.9" stroke="#2297E6"/><path d="M23.7,64.2 24.6,63.8 25.5,63.4 26.4,63.2 27.3,63.4 28.2,64.1 29.1,65.2 29.9,66.4 30.8,67.6 31.7,68.5 32.6,69.0 33.5,68.9 34.4,68.2 35.3,67.2 36.1,66.0 37.0,64.9 37.9,64.2 38.8,64.0 39.7,64.4 40.6,65.3 41.5,66.5 42.3,67.7 43.2,68.8 44.1,69.5 45.0,69.9" stroke="#2297E6"/><path d="M23.7,51.0 25.2,51.2 26.6,51.1 28.1,50.9 29.5,50.6 30.9,50.5 32.4,50.6 33.8,51.1 35.2,52.1 36.7,53.5 38.1,55.1 39.6,56.9 41.0,58.5 42.4,59.8 43.9,60.8 45.3,61.2 46.7,61.4 48.2,61.5 49.6,61.7 51.1,62.2 52.5,63.1 53.9,64.4 55.4,66.1 56.8,68.0 58.3,69.9" stroke="#61D04F"/><path d="M23.7,79.8 25.7,79.8 27.7,79.7 29.6,79.6 31.6,79.6 33.6,79.5 35.5,79.4 37.5,79.2 39.4,79.0 41.4,78.7 43.4,78.2 45.3,77.7 47.3,77.2 49.3,76.5 51.2,75.8 53.2,75.1 55.2,74.4 57.1,73.8 59.1,73.2 61.1,72.7 63.0,72.2 65.0,71.7 66.9,71.2 68.9,70.6 70.9,69.9" stroke="#2297E6"/><path d="M23.7,77.8 26.5,78.0 29.3,78.1 32.1,77.9 34.8,77.4 37.6,76.6 40.4,75.8 43.2,75.1 45.9,74.6 48.7,74.5 51.5,74.9 54.2,75.5 57.0,76.4 59.8,77.2 62.6,77.7 65.3,77.8 68.1,77.4 70.9,76.6 73.7,75.4 76.4,74.0 79.2,72.7 82.0,71.6 84.8,70.7 87.5,70.2 90.3,69.9" stroke="#2297E6"/><path d="M23.7,68.7 26.2,68.7 28.6,68.8 31.1,69.1 33.5,69.4 36.0,69.7 38.4,69.9 40.9,69.9 43.3,69.7 45.8,69.4 48.2,68.8 50.6,68.3 53.1,67.8 55.5,67.4 58.0,67.2 60.4,67.3 62.9,67.6 65.3,68.1 67.8,68.6 70.2,69.2 72.7,69.6 75.1,69.9 77.6,70.0 80.0,70.0 82.4,69.9" stroke="#DF536B"/><path d="M23.7,66.3 24.9,66.3 26.1,66.3 27.3,66.3 28.5,66.3 29.7,66.3 30.9,66.3 32.1,66.3 33.3,66.2 34.4,66.2 35.6,66.1 36.8,66.1 38.0,66.0 39.2,66.0 40.4,66.1 41.6,66.1 42.8,66.3 44.0,66.6 45.2,66.9 46.3,67.3 47.5,67.7 48.7,68.3 49.9,68.8 51.1,69.3 52.3,69.9" stroke="#CD0BBC"/><path d="M23.7,66.2 26.2,66.2 28.6,66.2 31.0,66.3 33.4,66.3 35.8,66.3 38.2,66.4 40.7,66.5 43.1,66.6 45.5,66.7 47.9,66.8 50.3,66.9 52.8,67.1 55.2,67.3 57.6,67.6 60.0,67.8 62.4,68.1 64.9,68.4 67.3,68.6 69.7,68.8 72.1,69.0 74.5,69.1 76.9,69.3 79.4,69.6 81.8,69.9" stroke="#61D04F"/><path d="M23.7,61.7 26.5,61.6 29.3,61.7 32.0,62.1 34.8,62.6 37.6,63.1 40.3,63.3 43.1,63.1 45.9,62.5 48.6,61.8 51.4,61.0 54.2,60.6 56.9,60.6 59.7,61.1 62.5,62.0 65.2,63.1 68.0,64.1 70.8,64.9 73.5,65.5 76.3,65.9 79.1,66.3 81.8,66.9 84.6,67.7 87.4,68.7 90.1,69.9" stroke="#28E2E5"/><path d="M23.7,80.5 26.7,80.5 29.6,80.4 32.6,80.1 35.5,79.7 38.5,79.1 41.4,78.4 44.3,77.6 47.3,76.9 50.2,76.3 53.2,75.8 56.1,75.6 59.1,75.4 62.0,75.4 64.9,75.5 67.9,75.5 70.8,75.5 73.8,75.3 76.7,75.0 79.7,74.5 82.6,73.9 85.6,73.1 88.5,72.1 91.4,71.0 94.4,69.9" stroke="#2297E6"/><path d="M23.7,53.4 23.8,54.2 23.9,55.1 23.9,56.0 24.0,56.9 24.1,57.7 24.1,58.3 24.2,58.7 24.2,59.0 24.3,59.3 24.4,59.6 24.4,60.0 24.5,60.7 24.6,61.6 24.6,62.8 24.7,64.0 24.8,65.3 24.8,66.4 24.9,67.4 25.0,68.1 25.0,68.6 25.1,69.0 25.1,69.2 25.2,69.5 25.3,69.9" stroke="#DF536B"/><path d="M23.7,81.2 26.3,82.2 28.9,82.9 31.4,82.6 34.0,80.9 36.6,78.1 39.1,74.9 41.7,72.2 44.3,71.0 46.8,71.6 49.4,73.9 52.0,77.2 54.5,80.5 57.1,82.6 59.7,82.9 62.2,81.3 64.8,78.3 67.4,74.8 69.9,71.8 72.5,70.0 75.1,69.5 77.6,69.9 80.2,70.6 82.8,70.8 85.3,69.9" stroke="#61D04F"/><path d="M23.7,77.0 26.1,76.6 28.4,76.3 30.7,76.0 33.0,76.0 35.3,76.2 37.6,76.5 40.0,77.1 42.3,77.7 44.6,78.2 46.9,78.6 49.2,78.7 51.6,78.4 53.9,77.8 56.2,77.0 58.5,75.9 60.8,74.7 63.2,73.6 65.5,72.5 67.8,71.6 70.1,71.0 72.4,70.6 74.7,70.3 77.1,70.1 79.4,69.9" stroke="#28E2E5"/><path d="M23.7,60.3 25.9,60.3 28.2,60.1 30.4,59.7 32.6,59.4 34.8,59.3 37.0,59.8 39.2,60.7 41.4,62.1 43.6,63.6 45.8,65.2 48.0,66.5 50.2,67.3 52.4,67.7 54.7,67.7 56.9,67.5 59.1,67.2 61.3,67.1 63.5,67.3 65.7,67.6 67.9,68.2 70.1,68.7 72.3,69.2 74.5,69.6 76.7,69.9" stroke="#2297E6"/><path d="M23.7,66.9 24.2,67.0 24.7,67.1 25.1,67.1 25.6,67.2 26.1,67.3 26.6,67.4 27.0,67.4 27.5,67.5 28.0,67.5 28.4,67.6 28.9,67.7 29.4,67.8 29.8,67.9 30.3,68.0 30.8,68.2 31.3,68.4 31.7,68.6 32.2,68.8 32.7,69.0 33.1,69.2 33.6,69.4 34.1,69.6 34.5,69.7 35.0,69.9" stroke="#61D04F"/><path d="M23.7,69.0 25.8,68.8 27.9,68.5 30.0,68.1 32.1,67.9 34.2,68.0 36.3,68.3 38.4,68.8 40.5,69.5 42.6,70.2 44.7,70.6 46.8,70.8 48.9,70.6 51.0,70.0 53.1,69.3 55.2,68.6 57.3,68.1 59.4,67.8 61.5,67.9 63.6,68.2 65.7,68.8 67.8,69.3 69.9,69.7 72.0,69.9 74.1,69.9" stroke="#2297E6"/><path d="M23.7,70.5 25.8,70.3 27.8,70.2 29.9,70.2 31.9,70.4 33.9,70.8 36.0,71.2 38.0,71.6 40.0,71.9 42.1,72.0 44.1,71.8 46.2,71.4 48.2,70.8 50.2,70.2 52.3,69.6 54.3,69.2 56.3,69.0 58.4,69.0 60.4,69.2 62.5,69.5 64.5,69.8 66.5,70.1 68.6,70.2 70.6,70.1 72.7,69.9" stroke="#28E2E5"/><path d="M23.7,67.5 25.1,67.4 26.6,67.3 28.0,67.2 29.4,67.2 30.8,67.2 32.2,67.2 33.6,67.3 35.0,67.5 36.4,67.6 37.8,67.8 39.3,68.0 40.7,68.2 42.1,68.4 43.5,68.5 44.9,68.7 46.3,68.8 47.7,68.9 49.1,68.9 50.5,69.0 51.9,69.1 53.4,69.2 54.8,69.4 56.2,69.6 57.6,69.9" stroke="#CD0BBC"/><path d="M23.7,74.5 26.0,74.3 28.3,74.3 30.6,74.3 32.9,74.4 35.2,74.4 37.5,74.0 39.8,73.3 42.1,72.3 44.4,71.2 46.7,70.3 49.0,69.7 51.3,69.6 53.6,70.0 55.9,70.8 58.2,71.6 60.5,72.4 62.8,72.8 65.1,72.8 67.4,72.4 69.7,71.8 72.0,71.1 74.3,70.5 76.6,70.1 78.9,69.9" stroke="#2297E6"/><path d="M23.7,70.7 24.5,70.7 25.3,70.6 26.2,70.6 27.0,70.6 27.8,70.6 28.6,70.6 29.4,70.6 30.2,70.6 31.0,70.6 31.8,70.5 32.6,70.5 33.4,70.5 34.2,70.5 35.0,70.4 35.8,70.4 36.6,70.3 37.4,70.3 38.2,70.2 39.0,70.2 39.8,70.1 40.6,70.0 41.4,70.0 42.2,69.9 43.0,69.9" stroke="#28E2E5"/><path d="M23.7,65.0 25.3,65.6 26.9,66.1 28.6,66.1 30.2,65.4 31.8,64.3 33.4,62.9 35.0,61.7 36.6,61.2 38.2,61.4 39.8,62.6 41.4,64.5 43.0,66.6 44.6,68.5 46.2,69.8 47.8,70.1 49.4,69.7 51.0,68.7 52.6,67.5 54.2,66.6 55.8,66.2 57.4,66.6 59.0,67.6 60.6,68.8 62.2,69.9" stroke="#2297E6"/><path d="M23.7,47.8 25.4,47.9 27.0,47.9 28.6,47.7 30.2,47.4 31.8,46.9 33.4,46.4 35.0,45.8 36.7,45.3 38.3,45.1 39.9,45.1 41.5,45.6 43.1,46.5 44.7,47.8 46.3,49.5 48.0,51.4 49.6,53.4 51.2,55.5 52.8,57.6 54.4,59.8 56.0,61.8 57.6,63.9 59.3,65.9 60.9,67.9 62.5,69.9" stroke="#28E2E5"/><path d="M23.7,54.9 24.7,55.2 25.7,55.4 26.6,55.6 27.6,55.4 28.5,54.9 29.5,54.0 30.4,52.7 31.4,51.3 32.4,49.9 33.3,48.8 34.3,48.2 35.2,48.3 36.2,49.2 37.2,50.8 38.1,52.9 39.1,55.3 40.0,57.9 41.0,60.3 42.0,62.4 42.9,64.3 43.9,65.8 44.8,67.2 45.8,68.5 46.7,69.9" stroke="#CD0BBC"/><path d="M23.7,88.2 26.1,89.1 28.4,90.0 30.7,90.9 33.0,91.6 35.3,92.0 37.6,92.0 39.9,91.5 42.2,90.5 44.6,89.1 46.9,87.2 49.2,85.0 51.5,82.8 53.8,80.5 56.1,78.4 58.4,76.6 60.7,75.2 63.1,74.2 65.4,73.6 67.7,73.2 70.0,73.0 72.3,72.6 74.6,72.1 76.9,71.2 79.3,69.9" stroke="#2297E6"/><path d="M23.7,58.4 24.8,58.8 25.9,59.0 27.0,59.0 28.1,58.7 29.2,58.2 30.3,58.1 31.4,58.4 32.5,59.4 33.6,61.1 34.7,63.0 35.8,64.8 36.9,66.1 38.0,66.6 39.1,66.3 40.2,65.6 41.3,64.7 42.4,64.0 43.5,64.0 44.5,64.6 45.6,65.7 46.7,67.0 47.8,68.2 48.9,69.2 50.0,69.9" stroke="#2297E6"/><path d="M23.7,87.9 25.9,87.7 28.0,87.6 30.1,87.5 32.2,87.3 34.3,87.0 36.4,86.7 38.6,86.3 40.7,85.9 42.8,85.4 44.9,84.9 47.0,84.3 49.2,83.8 51.3,83.3 53.4,82.8 55.5,82.3 57.6,81.6 59.7,80.8 61.9,79.9 64.0,78.7 66.1,77.4 68.2,75.8 70.3,74.0 72.5,72.0 74.6,69.9" stroke="#61D04F"/><path d="M23.7,77.3 25.0,77.4 26.2,77.3 27.4,77.1 28.6,76.6 29.9,76.0 31.1,75.5 32.3,75.1 33.5,74.9 34.7,75.1 36.0,75.5 37.2,76.1 38.4,76.7 39.6,77.2 40.9,77.3 42.1,77.0 43.3,76.2 44.5,75.2 45.7,74.0 47.0,72.8 48.2,71.8 49.4,71.0 50.6,70.5 51.9,70.2 53.1,69.9" stroke="#28E2E5"/><path d="M23.7,64.6 25.2,64.8 26.6,65.1 28.1,65.5 29.5,65.8 30.9,65.7 32.4,65.3 33.8,64.6 35.2,63.8 36.7,63.1 38.1,62.7 39.6,62.9 41.0,63.6 42.4,64.8 43.9,66.1 45.3,67.4 46.7,68.5 48.2,69.2 49.6,69.4 51.1,69.3 52.5,69.1 53.9,68.9 55.4,68.9 56.8,69.3 58.3,69.9" stroke="#000000"/><path d="M23.7,63.9 25.0,63.9 26.3,63.7 27.5,63.2 28.8,62.6 30.0,61.9 31.3,61.2 32.6,60.7 33.8,60.6 35.1,60.9 36.4,61.5 37.6,62.5 38.9,63.7 40.1,64.9 41.4,66.0 42.7,66.9 43.9,67.5 45.2,67.8 46.4,68.0 47.7,68.0 49.0,68.1 50.2,68.3 51.5,68.6 52.8,69.2 54.0,69.9" stroke="#CD0BBC"/><path d="M23.7,61.7 24.6,61.6 25.5,61.5 26.4,61.3 27.3,61.1 28.2,60.7 29.1,60.4 29.9,60.1 30.8,60.0 31.7,59.9 32.6,60.1 33.5,60.5 34.4,61.0 35.2,61.7 36.1,62.5 37.0,63.4 37.9,64.2 38.8,65.0 39.7,65.8 40.6,66.5 41.4,67.2 42.3,67.9 43.2,68.6 44.1,69.3 45.0,69.9" stroke="#2297E6"/><path d="M23.7,71.5 23.9,71.6 24.1,71.7 24.2,71.7 24.4,71.5 24.5,71.2 24.7,70.9 24.9,70.4 25.0,70.1 25.2,69.8 25.3,69.7 25.5,69.7 25.7,70.0 25.8,70.3 26.0,70.7 26.1,71.0 26.3,71.2 26.5,71.3 26.6,71.2 26.8,71.0 26.9,70.7 27.1,70.4 27.3,70.1 27.4,69.9 27.6,69.9" stroke="#28E2E5"/><path d="M23.7,72.8 25.4,72.6 27.1,72.3 28.8,72.1 30.4,71.8 32.1,71.7 33.8,71.6 35.4,71.7 37.1,71.9 38.8,72.2 40.5,72.6 42.1,73.0 43.8,73.3 45.5,73.6 47.1,73.7 48.8,73.7 50.5,73.5 52.2,73.2 53.8,72.8 55.5,72.3 57.2,71.7 58.8,71.1 60.5,70.6 62.2,70.2 63.9,69.9" stroke="#28E2E5"/><path d="M23.7,68.4 25.4,68.4 27.0,68.3 28.7,68.3 30.4,68.2 32.0,68.1 33.7,68.0 35.3,68.0 37.0,68.0 38.6,68.0 40.3,68.1 41.9,68.2 43.6,68.4 45.3,68.6 46.9,68.7 48.6,68.9 50.2,69.0 51.9,69.2 53.5,69.3 55.2,69.4 56.8,69.4 58.5,69.5 60.1,69.6 61.8,69.8 63.5,69.9" stroke="#CD0BBC"/><path d="M23.7,76.1 25.2,76.2 26.7,75.8 28.3,75.2 29.8,74.4 31.3,73.7 32.8,73.4 34.3,73.6 35.8,74.3 37.3,75.4 38.8,76.6 40.3,77.7 41.8,78.4 43.3,78.4 44.8,77.8 46.3,76.6 47.8,75.0 49.3,73.4 50.8,72.0 52.3,71.0 53.8,70.4 55.3,70.2 56.8,70.2 58.3,70.2 59.8,69.9" stroke="#2297E6"/><path d="M23.7,52.4 25.4,52.3 27.1,52.0 28.8,51.7 30.5,51.4 32.1,51.2 33.8,51.2 35.5,51.5 37.2,52.1 38.9,53.0 40.5,54.1 42.2,55.3 43.9,56.5 45.6,57.6 47.2,58.6 48.9,59.4 50.6,60.1 52.3,60.7 54.0,61.3 55.6,62.1 57.3,63.0 59.0,64.3 60.7,65.9 62.4,67.8 64.0,69.9" stroke="#2297E6"/><path d="M23.7,70.1 26.6,70.2 29.5,70.1 32.3,70.0 35.2,69.8 38.1,69.6 40.9,69.5 43.8,69.4 46.7,69.4 49.6,69.5 52.4,69.7 55.3,70.0 58.2,70.3 61.0,70.5 63.9,70.7 66.8,70.8 69.6,70.8 72.5,70.7 75.4,70.6 78.2,70.3 81.1,70.1 84.0,70.0 86.8,69.9 89.7,69.8 92.6,69.9" stroke="#61D04F"/><path d="M23.7,77.8 24.0,77.5 24.3,77.2 24.5,76.9 24.8,76.6 25.1,76.3 25.3,75.9 25.6,75.5 25.8,75.1 26.1,74.6 26.4,74.0 26.6,73.5 26.9,73.0 27.2,72.5 27.4,72.1 27.7,71.8 27.9,71.6 28.2,71.4 28.5,71.2 28.7,71.1 29.0,70.9 29.3,70.8 29.5,70.6 29.8,70.3 30.0,69.9" stroke="#CD0BBC"/><path d="M23.7,67.5 25.1,67.5 26.4,67.6 27.7,67.7 29.1,67.7 30.4,67.7 31.7,67.8 33.0,67.8 34.4,67.8 35.7,67.8 37.0,67.8 38.4,67.8 39.7,67.9 41.0,68.0 42.3,68.1 43.7,68.3 45.0,68.4 46.3,68.6 47.6,68.7 49.0,68.9 50.3,69.0 51.6,69.2 53.0,69.4 54.3,69.6 55.6,69.9" stroke="#DF536B"/><path d="M23.7,65.4 25.6,65.7 27.4,65.8 29.2,65.7 31.0,65.2 32.8,64.5 34.7,63.7 36.5,63.0 38.3,62.5 40.1,62.3 41.9,62.5 43.7,63.2 45.6,64.1 47.4,65.2 49.2,66.3 51.0,67.2 52.8,67.9 54.7,68.3 56.5,68.4 58.3,68.3 60.1,68.3 61.9,68.3 63.8,68.6 65.6,69.1 67.4,69.9" stroke="#2297E6"/><path d="M23.7,67.2 24.7,67.1 25.6,66.7 26.5,65.9 27.4,65.1 28.3,64.6 29.2,64.6 30.1,65.3 31.0,66.6 31.9,68.2 32.9,69.9 33.8,71.2 34.7,71.8 35.6,71.6 36.5,70.8 37.4,69.5 38.3,68.1 39.2,66.9 40.2,66.3 41.1,66.3 42.0,67.0 42.9,67.9 43.8,68.9 44.7,69.6 45.6,69.9" stroke="#000000"/><path d="M23.7,70.8 24.3,70.6 24.9,70.7 25.6,70.9 26.2,71.3 26.8,71.8 27.4,72.4 28.0,72.9 28.6,73.4 29.2,73.7 29.8,73.9 30.4,73.8 31.0,73.5 31.6,73.0 32.2,72.4 32.8,71.7 33.4,71.0 34.0,70.3 34.6,69.7 35.2,69.3 35.8,69.1 36.4,69.0 37.1,69.2 37.7,69.5 38.3,69.9" stroke="#DF536B"/><path d="M23.7,77.3 25.2,77.0 26.8,76.8 28.3,76.7 29.8,76.6 31.3,76.6 32.8,76.7 34.3,76.9 35.8,77.2 37.3,77.6 38.9,78.0 40.4,78.3 41.9,78.5 43.4,78.7 44.9,78.7 46.4,78.4 47.9,78.0 49.4,77.4 50.9,76.5 52.5,75.5 54.0,74.4 55.5,73.2 57.0,72.0 58.5,70.9 60.0,69.9" stroke="#61D04F"/><path d="M23.7,74.0 24.0,73.6 24.3,73.1 24.6,72.6 24.9,72.3 25.2,72.2 25.5,72.2 25.8,72.4 26.1,72.8 26.4,73.3 26.7,73.8 27.0,74.2 27.3,74.6 27.6,74.7 27.9,74.7 28.2,74.4 28.5,73.9 28.8,73.3 29.1,72.5 29.4,71.8 29.7,71.1 30.0,70.5 30.3,70.1 30.6,69.9 30.9,69.9" stroke="#61D04F"/><path d="M23.7,54.0 25.9,53.7 28.1,53.5 30.3,53.4 32.5,53.6 34.7,53.9 36.9,54.3 39.1,54.7 41.3,55.0 43.5,55.2 45.7,55.3 47.9,55.3 50.1,55.3 52.3,55.4 54.5,55.8 56.7,56.5 58.9,57.6 61.1,59.0 63.3,60.7 65.4,62.5 67.6,64.3 69.8,65.9 72.0,67.4 74.2,68.7 76.4,69.9" stroke="#2297E6"/><path d="M23.7,63.7 25.7,63.7 27.6,63.8 29.6,63.8 31.5,63.9 33.5,63.9 35.4,64.0 37.4,64.0 39.3,64.1 41.2,64.2 43.2,64.3 45.1,64.4 47.1,64.6 49.0,64.8 51.0,65.1 52.9,65.5 54.9,65.9 56.8,66.4 58.7,66.9 60.7,67.4 62.6,67.9 64.6,68.4 66.5,68.9 68.5,69.4 70.4,69.9" stroke="#DF536B"/><path d="M23.7,70.1 26.1,70.4 28.4,70.7 30.7,70.8 33.0,70.8 35.3,70.6 37.7,70.1 40.0,69.5 42.3,68.9 44.6,68.3 46.9,67.9 49.3,67.8 51.6,67.9 53.9,68.3 56.2,68.9 58.5,69.6 60.9,70.2 63.2,70.8 65.5,71.1 67.8,71.2 70.1,71.1 72.4,70.9 74.8,70.5 77.1,70.1 79.4,69.9" stroke="#2297E6"/><path d="M23.7,75.5 25.4,75.6 27.0,75.6 28.6,75.6 30.2,75.5 31.8,75.3 33.5,75.1 35.1,74.8 36.7,74.5 38.3,74.1 39.9,73.7 41.6,73.4 43.2,73.1 44.8,72.9 46.4,72.8 48.0,72.7 49.7,72.6 51.3,72.5 52.9,72.4 54.5,72.1 56.1,71.8 57.8,71.4 59.4,71.0 61.0,70.4 62.6,69.9" stroke="#2297E6"/><path d="M23.7,82.0 25.4,81.9 27.0,81.8 28.7,81.6 30.3,81.3 32.0,81.2 33.6,81.1 35.2,81.1 36.9,81.2 38.5,81.4 40.2,81.5 41.8,81.5 43.5,81.3 45.1,80.9 46.7,80.3 48.4,79.4 50.0,78.5 51.7,77.4 53.3,76.4 55.0,75.3 56.6,74.3 58.3,73.3 59.9,72.2 61.5,71.1 63.2,69.9" stroke="#CD0BBC"/><path d="M23.7,74.6 25.8,74.7 27.8,74.8 29.8,74.8 31.9,74.7 33.9,74.6 35.9,74.3 37.9,73.9 40.0,73.5 42.0,73.1 44.0,72.8 46.0,72.5 48.1,72.4 50.1,72.5 52.1,72.6 54.2,72.8 56.2,73.0 58.2,73.0 60.2,73.0 62.3,72.8 64.3,72.4 66.3,71.9 68.4,71.2 70.4,70.6 72.4,69.9" stroke="#2297E6"/><path d="M23.7,69.6 25.1,69.6 26.4,69.6 27.8,69.6 29.1,69.6 30.4,69.6 31.8,69.6 33.1,69.6 34.5,69.6 35.8,69.6 37.2,69.7 38.5,69.7 39.8,69.7 41.2,69.7 42.5,69.7 43.9,69.8 45.2,69.8 46.6,69.8 47.9,69.8 49.2,69.8 50.6,69.8 51.9,69.9 53.3,69.9 54.6,69.9 56.0,69.9" stroke="#000000"/><path d="M23.7,58.8 23.9,58.3 24.0,57.9 24.2,58.1 24.3,59.4 24.5,61.7 24.6,64.4 24.8,66.6 24.9,67.5 25.1,66.6 25.2,64.2 25.4,61.0 25.5,58.2 25.7,56.7 25.8,57.1 26.0,59.4 26.1,62.9 26.3,66.5 26.5,69.4 26.6,70.9 26.8,71.1 26.9,70.3 27.1,69.5 27.2,69.3 27.4,69.9" stroke="#28E2E5"/><path d="M23.7,66.2 25.8,66.3 27.8,66.4 29.9,66.2 32.0,66.0 34.0,65.6 36.1,65.2 38.1,64.8 40.2,64.4 42.2,64.2 44.3,64.1 46.3,64.2 48.4,64.5 50.4,65.0 52.5,65.7 54.5,66.4 56.6,67.1 58.6,67.8 60.7,68.4 62.7,68.9 64.8,69.2 66.9,69.5 68.9,69.6 71.0,69.8 73.0,69.9" stroke="#2297E6"/><path d="M23.7,74.4 24.9,74.8 26.0,75.1 27.2,75.3 28.3,75.3 29.4,75.2 30.6,74.9 31.7,74.4 32.8,73.8 34.0,73.0 35.1,72.2 36.3,71.5 37.4,70.7 38.5,70.1 39.7,69.7 40.8,69.4 41.9,69.3 43.1,69.4 44.2,69.6 45.4,69.8 46.5,70.0 47.6,70.2 48.8,70.2 49.9,70.1 51.1,69.9" stroke="#2297E6"/><path d="M23.7,65.4 23.9,65.6 24.1,65.8 24.3,66.1 24.6,66.5 24.8,66.7 25.0,66.8 25.2,66.6 25.4,66.3 25.6,65.9 25.8,65.5 26.0,65.5 26.2,65.6 26.4,66.1 26.6,66.7 26.8,67.4 27.0,68.0 27.2,68.4 27.4,68.7 27.6,68.8 27.8,68.9 28.0,69.0 28.2,69.2 28.4,69.5 28.6,69.9" stroke="#DF536B"/><path d="M23.7,65.9 23.9,65.9 24.1,65.8 24.3,65.8 24.5,65.9 24.7,66.2 24.9,66.7 25.1,67.3 25.3,67.9 25.5,68.3 25.7,68.5 25.9,68.4 26.0,68.1 26.2,67.6 26.4,67.1 26.6,66.8 26.8,66.7 27.0,67.0 27.2,67.5 27.4,68.1 27.6,68.8 27.8,69.3 28.0,69.7 28.2,69.9 28.4,69.9" stroke="#000000"/><path d="M23.7,61.0 25.6,61.0 27.5,61.5 29.4,62.3 31.3,62.9 33.2,63.0 35.1,62.1 37.1,60.6 39.0,58.7 40.9,57.1 42.8,56.4 44.7,56.9 46.6,58.6 48.5,61.1 50.4,63.6 52.3,65.6 54.2,66.6 56.1,66.6 58.0,66.0 59.9,65.2 61.8,64.9 63.7,65.4 65.6,66.6 67.5,68.2 69.4,69.9" stroke="#DF536B"/><path d="M23.7,59.2 23.9,59.4 24.2,59.6 24.4,59.6 24.6,59.5 24.8,59.5 25.0,59.5 25.2,59.7 25.4,60.1 25.6,60.8 25.8,61.6 26.0,62.7 26.2,63.8 26.4,65.0 26.6,66.2 26.8,67.3 27.1,68.2 27.3,68.8 27.5,69.2 27.7,69.5 27.9,69.6 28.1,69.6 28.3,69.6 28.5,69.7 28.7,69.9" stroke="#DF536B"/><path d="M23.7,66.2 24.6,66.4 25.5,66.8 26.3,67.1 27.2,67.3 28.1,67.3 28.9,67.0 29.8,66.5 30.7,65.8 31.6,65.1 32.4,64.5 33.3,64.2 34.2,64.1 35.0,64.5 35.9,65.1 36.8,65.9 37.6,66.9 38.5,67.7 39.4,68.5 40.2,69.0 41.1,69.3 42.0,69.4 42.8,69.5 43.7,69.7 44.6,69.9" stroke="#DF536B"/><path d="M23.7,45.5 26.6,45.2 29.4,45.0 32.3,45.2 35.1,45.9 38.0,46.9 40.8,48.2 43.7,49.6 46.5,50.7 49.4,51.5 52.2,51.7 55.1,51.5 58.0,50.9 60.8,50.2 63.7,49.8 66.5,49.9 69.4,50.7 72.2,52.2 75.1,54.4 77.9,57.0 80.8,59.8 83.6,62.7 86.5,65.3 89.3,67.7 92.2,69.9" stroke="#000000"/><path d="M23.7,80.8 25.3,80.6 26.8,80.7 28.3,81.1 29.8,81.6 31.3,82.3 32.8,83.0 34.3,83.6 35.8,83.9 37.3,83.9 38.9,83.5 40.4,82.7 41.9,81.6 43.4,80.0 44.9,78.3 46.4,76.5 47.9,74.7 49.4,73.1 51.0,71.8 52.5,70.9 54.0,70.3 55.5,70.0 57.0,69.9 58.5,69.9 60.0,69.9" stroke="#000000"/><path d="M23.7,67.4 26.1,67.1 28.4,66.9 30.7,66.9 33.1,67.1 35.4,67.6 37.7,68.3 40.0,69.0 42.4,69.5 44.7,69.7 47.0,69.5 49.3,68.9 51.7,68.1 54.0,67.2 56.3,66.3 58.7,65.8 61.0,65.7 63.3,66.0 65.6,66.6 68.0,67.5 70.3,68.4 72.6,69.2 75.0,69.7 77.3,69.9 79.6,69.9" stroke="#28E2E5"/><path d="M23.7,81.2 25.0,81.4 26.4,81.9 27.7,82.6 29.0,83.3 30.3,83.8 31.6,84.1 32.9,83.9 34.2,83.2 35.5,82.0 36.8,80.5 38.1,78.7 39.5,76.8 40.8,75.0 42.1,73.4 43.4,72.1 44.7,71.3 46.0,70.9 47.3,70.8 48.6,70.9 49.9,71.1 51.2,71.2 52.6,71.2 53.9,70.7 55.2,69.9" stroke="#CD0BBC"/><path d="M23.7,61.8 26.4,62.0 29.0,62.0 31.6,61.9 34.2,61.7 36.9,61.5 39.5,61.4 42.1,61.7 44.7,62.2 47.3,63.0 50.0,63.8 52.6,64.4 55.2,64.8 57.8,64.9 60.5,64.8 63.1,64.6 65.7,64.5 68.3,64.7 70.9,65.2 73.6,66.0 76.2,66.9 78.8,67.8 81.4,68.7 84.1,69.3 86.7,69.9" stroke="#28E2E5"/><path d="M23.7,66.4 25.3,66.3 26.9,66.3 28.4,66.5 30.0,66.8 31.6,67.2 33.1,67.7 34.7,68.0 36.3,68.3 37.8,68.4 39.4,68.3 41.0,68.1 42.5,67.8 44.1,67.5 45.7,67.3 47.2,67.3 48.8,67.4 50.4,67.7 51.9,68.1 53.5,68.5 55.1,68.9 56.6,69.3 58.2,69.6 59.8,69.7 61.3,69.9" stroke="#61D04F"/><path d="M23.7,54.5 24.8,54.9 25.8,55.1 26.9,55.1 28.0,55.0 29.0,54.7 30.1,54.5 31.1,54.3 32.2,54.2 33.2,54.3 34.3,54.8 35.3,55.5 36.4,56.5 37.5,57.7 38.5,59.1 39.6,60.6 40.6,62.0 41.7,63.3 42.7,64.5 43.8,65.5 44.8,66.4 45.9,67.2 47.0,68.0 48.0,68.9 49.1,69.9" stroke="#28E2E5"/><path d="M23.7,76.4 24.0,76.2 24.3,76.0 24.5,75.8 24.8,75.5 25.1,75.2 25.3,74.9 25.6,74.5 25.9,74.1 26.2,73.7 26.4,73.2 26.7,72.9 27.0,72.5 27.2,72.2 27.5,72.0 27.8,71.8 28.0,71.6 28.3,71.4 28.6,71.2 28.8,71.0 29.1,70.8 29.4,70.6 29.6,70.3 29.9,70.1 30.2,69.9" stroke="#CD0BBC"/><path d="M23.7,80.0 24.2,80.3 24.6,80.6 25.1,80.8 25.5,80.4 26.0,79.3 26.4,77.6 26.9,75.6 27.4,73.6 27.8,72.2 28.3,71.6 28.7,72.0 29.2,73.2 29.6,74.8 30.1,76.3 30.5,77.4 31.0,77.7 31.4,77.0 31.9,75.7 32.3,73.9 32.8,72.2 33.2,70.8 33.7,70.1 34.1,69.8 34.6,69.9" stroke="#2297E6"/><path d="M23.7,79.2 25.1,79.2 26.4,79.1 27.8,79.1 29.2,79.0 30.5,78.9 31.9,78.7 33.2,78.4 34.6,77.9 35.9,77.4 37.3,76.9 38.6,76.4 40.0,75.9 41.4,75.5 42.7,75.2 44.1,74.9 45.4,74.6 46.8,74.4 48.1,74.0 49.5,73.6 50.8,73.0 52.2,72.3 53.5,71.6 54.9,70.7 56.3,69.9" stroke="#CD0BBC"/><path d="M23.7,73.0 25.3,72.9 26.8,72.8 28.3,72.7 29.9,72.6 31.4,72.5 32.9,72.3 34.4,72.1 36.0,71.9 37.5,71.7 39.0,71.5 40.6,71.3 42.1,71.2 43.6,71.1 45.2,71.0 46.7,71.0 48.2,71.0 49.7,71.0 51.3,70.9 52.8,70.8 54.3,70.7 55.9,70.5 57.4,70.3 58.9,70.1 60.5,69.9" stroke="#000000"/><path d="M23.7,81.8 23.8,81.4 23.9,81.0 24.0,80.5 24.1,80.0 24.1,79.4 24.2,78.8 24.3,78.2 24.4,77.6 24.5,77.0 24.5,76.5 24.6,76.1 24.7,75.6 24.8,75.3 24.8,75.0 24.9,74.6 25.0,74.3 25.1,73.9 25.2,73.4 25.2,72.9 25.3,72.4 25.4,71.8 25.5,71.2 25.6,70.5 25.6,69.9" stroke="#DF536B"/><path d="M23.7,73.3 24.5,73.6 25.2,74.0 26.0,74.5 26.7,74.9 27.4,75.0 28.2,74.8 28.9,74.2 29.6,73.3 30.4,72.2 31.1,70.9 31.9,69.8 32.6,68.8 33.3,68.2 34.1,68.0 34.8,68.2 35.5,68.7 36.3,69.3 37.0,70.1 37.8,70.7 38.5,71.1 39.2,71.2 40.0,71.0 40.7,70.6 41.4,69.9" stroke="#28E2E5"/><path d="M23.7,81.7 26.3,81.4 28.8,81.4 31.3,81.7 33.8,82.1 36.3,82.5 38.8,82.7 41.4,82.5 43.9,81.9 46.4,80.8 48.9,79.5 51.4,78.1 54.0,77.0 56.5,76.2 59.0,75.8 61.5,75.8 64.0,76.0 66.5,76.2 69.1,76.2 71.6,75.8 74.1,75.0 76.6,73.8 79.1,72.4 81.6,71.1 84.2,69.9" stroke="#CD0BBC"/><path d="M23.7,75.2 25.4,75.4 27.1,75.6 28.8,75.7 30.5,75.8 32.2,75.7 33.9,75.5 35.6,75.1 37.3,74.6 39.0,74.1 40.7,73.6 42.4,73.3 44.1,73.2 45.8,73.3 47.5,73.5 49.2,73.8 50.9,74.1 52.6,74.2 54.3,74.1 56.0,73.7 57.7,73.1 59.4,72.3 61.1,71.4 62.8,70.6 64.5,69.9" stroke="#000000"/><path d="M23.7,61.5 25.6,61.1 27.4,61.0 29.2,61.3 31.0,62.2 32.8,63.4 34.7,64.5 36.5,65.3 38.3,65.4 40.1,64.9 41.9,63.7 43.8,62.2 45.6,60.9 47.4,60.2 49.2,60.3 51.0,61.3 52.9,62.9 54.7,64.8 56.5,66.6 58.3,68.0 60.2,68.9 62.0,69.3 63.8,69.4 65.6,69.5 67.4,69.9" stroke="#61D04F"/><path d="M23.7,80.2 25.5,80.3 27.3,80.0 29.0,79.5 30.8,78.8 32.6,77.9 34.3,76.9 36.1,75.9 37.9,75.1 39.7,74.5 41.4,74.2 43.2,74.2 45.0,74.5 46.7,75.0 48.5,75.4 50.3,75.8 52.0,76.0 53.8,75.9 55.6,75.5 57.3,74.7 59.1,73.8 60.9,72.7 62.6,71.6 64.4,70.7 66.2,69.9" stroke="#28E2E5"/><path d="M23.7,74.5 25.7,74.4 27.6,74.2 29.6,73.9 31.5,73.7 33.4,73.6 35.4,73.7 37.3,74.0 39.2,74.4 41.2,74.8 43.1,75.1 45.1,75.3 47.0,75.3 48.9,75.0 50.9,74.5 52.8,73.8 54.8,73.1 56.7,72.5 58.6,72.0 60.6,71.6 62.5,71.3 64.5,71.0 66.4,70.7 68.3,70.4 70.3,69.9" stroke="#61D04F"/><path d="M23.7,43.6 26.3,43.6 28.8,43.6 31.4,43.7 33.9,43.9 36.4,44.1 39.0,44.4 41.5,44.6 44.1,44.6 46.6,44.6 49.1,44.4 51.7,44.3 54.2,44.3 56.8,44.6 59.3,45.4 61.8,46.7 64.4,48.6 66.9,50.9 69.5,53.5 72.0,56.3 74.5,59.1 77.1,61.9 79.6,64.7 82.2,67.3 84.7,69.9" stroke="#DF536B"/><path d="M23.7,67.7 24.1,67.6 24.4,67.5 24.7,67.4 25.0,67.4 25.4,67.7 25.7,68.1 26.0,68.7 26.3,69.3 26.7,69.7 27.0,70.0 27.3,70.0 27.6,69.7 27.9,69.2 28.3,68.7 28.6,68.3 28.9,68.1 29.2,68.1 29.6,68.4 29.9,68.8 30.2,69.2 30.5,69.6 30.9,69.9 31.2,69.9 31.5,69.9" stroke="#28E2E5"/><path d="M23.7,62.1 24.5,62.2 25.2,61.6 26.0,60.6 26.7,59.7 27.5,59.6 28.2,60.4 29.0,62.2 29.7,64.5 30.5,66.6 31.2,67.7 32.0,67.6 32.7,66.2 33.5,64.1 34.3,62.1 35.0,60.8 35.8,60.9 36.5,62.2 37.3,64.4 38.0,66.8 38.8,68.7 39.5,69.8 40.3,70.1 41.0,70.0 41.8,69.9" stroke="#61D04F"/><path d="M23.7,61.7 26.1,61.7 28.4,61.6 30.7,61.6 33.0,61.6 35.3,61.6 37.7,61.8 40.0,62.1 42.3,62.4 44.6,62.8 46.9,63.0 49.3,63.2 51.6,63.2 53.9,63.2 56.2,63.2 58.5,63.3 60.9,63.5 63.2,64.0 65.5,64.6 67.8,65.4 70.1,66.3 72.5,67.3 74.8,68.2 77.1,69.1 79.4,69.9" stroke="#CD0BBC"/><path d="M23.7,64.4 26.2,64.5 28.7,64.5 31.2,64.6 33.8,64.6 36.3,64.7 38.8,64.8 41.3,64.8 43.8,64.9 46.3,64.9 48.8,65.0 51.3,65.0 53.8,65.1 56.3,65.2 58.8,65.4 61.3,65.7 63.8,66.0 66.3,66.5 68.8,66.9 71.3,67.4 73.8,67.9 76.3,68.4 78.8,69.0 81.3,69.4 83.8,69.9" stroke="#61D04F"/><path d="M23.7,63.0 25.6,63.0 27.4,63.1 29.3,63.2 31.1,63.4 32.9,63.5 34.8,63.5 36.6,63.3 38.5,62.9 40.3,62.4 42.1,61.9 44.0,61.3 45.8,60.9 47.7,60.8 49.5,61.1 51.4,61.6 53.2,62.5 55.0,63.6 56.9,64.8 58.7,66.0 60.6,67.1 62.4,68.0 64.2,68.8 66.1,69.4 67.9,69.9" stroke="#61D04F"/><path d="M23.7,61.5 26.2,61.7 28.7,61.9 31.1,62.1 33.6,62.2 36.0,62.3 38.5,62.3 41.0,62.2 43.4,62.0 45.9,61.8 48.3,61.7 50.8,61.7 53.3,61.8 55.7,62.0 58.2,62.4 60.6,63.0 63.1,63.7 65.6,64.5 68.0,65.4 70.5,66.2 72.9,67.1 75.4,67.9 77.9,68.6 80.3,69.3 82.8,69.9" stroke="#61D04F"/><path d="M23.7,58.7 24.4,59.0 25.0,59.4 25.7,59.8 26.3,60.2 27.0,60.6 27.6,61.0 28.3,61.4 28.9,61.8 29.5,62.2 30.2,62.5 30.8,62.9 31.5,63.2 32.1,63.5 32.8,63.9 33.4,64.3 34.1,64.8 34.7,65.4 35.3,66.0 36.0,66.7 36.6,67.3 37.3,68.0 37.9,68.6 38.6,69.3 39.2,69.9" stroke="#61D04F"/><path d="M23.7,56.8 25.6,56.4 27.5,56.2 29.3,56.4 31.2,56.8 33.1,57.4 34.9,58.3 36.8,59.3 38.7,60.4 40.5,61.3 42.4,62.2 44.2,62.8 46.1,63.2 48.0,63.3 49.8,63.2 51.7,63.1 53.6,62.8 55.4,62.7 57.3,62.8 59.2,63.2 61.0,63.9 62.9,64.9 64.7,66.3 66.6,68.0 68.5,69.9" stroke="#28E2E5"/><path d="M23.7,68.8 24.9,68.8 26.1,68.7 27.2,68.4 28.4,68.0 29.5,67.6 30.7,67.1 31.9,66.8 33.0,66.5 34.2,66.4 35.4,66.5 36.5,66.7 37.7,67.2 38.8,67.7 40.0,68.3 41.2,69.0 42.3,69.6 43.5,70.1 44.7,70.5 45.8,70.8 47.0,70.8 48.1,70.7 49.3,70.5 50.5,70.2 51.6,69.9" stroke="#28E2E5"/><path d="M23.7,61.5 25.9,61.7 28.1,62.0 30.3,62.4 32.5,62.7 34.7,63.0 36.9,63.2 39.1,63.4 41.2,63.5 43.4,63.4 45.6,63.4 47.8,63.3 50.0,63.3 52.2,63.3 54.4,63.4 56.6,63.7 58.7,64.1 60.9,64.6 63.1,65.1 65.3,65.8 67.5,66.5 69.7,67.2 71.9,68.0 74.1,68.9 76.2,69.9" stroke="#61D04F"/><path d="M23.7,72.4 25.7,72.8 27.6,73.1 29.6,73.3 31.5,73.4 33.5,73.4 35.4,73.2 37.4,72.8 39.3,72.4 41.3,71.8 43.2,71.2 45.2,70.6 47.1,70.1 49.1,69.6 51.0,69.3 53.0,69.1 54.9,69.1 56.9,69.2 58.8,69.3 60.8,69.5 62.7,69.8 64.7,70.0 66.6,70.1 68.6,70.0 70.5,69.9" stroke="#61D04F"/><path d="M23.7,63.9 24.1,63.8 24.5,63.6 24.9,63.3 25.3,63.2 25.7,63.4 26.0,63.9 26.4,64.7 26.8,65.8 27.2,66.9 27.6,67.9 27.9,68.5 28.3,68.7 28.7,68.5 29.1,67.9 29.5,67.2 29.9,66.5 30.2,66.1 30.6,66.1 31.0,66.4 31.4,67.1 31.8,68.0 32.2,68.8 32.5,69.5 32.9,69.9" stroke="#CD0BBC"/><path d="M23.7,68.3 25.9,68.0 28.0,67.8 30.1,67.6 32.2,67.6 34.4,67.8 36.5,68.2 38.6,68.7 40.7,69.4 42.9,70.0 45.0,70.6 47.1,71.1 49.2,71.3 51.4,71.4 53.5,71.2 55.6,70.9 57.7,70.5 59.9,70.0 62.0,69.5 64.1,69.2 66.2,69.0 68.4,69.0 70.5,69.2 72.6,69.5 74.8,69.9" stroke="#61D04F"/><path d="M23.7,68.7 24.5,68.8 25.2,69.0 26.0,69.2 26.7,69.3 27.4,69.4 28.2,69.5 28.9,69.5 29.6,69.4 30.4,69.3 31.1,69.1 31.9,68.9 32.6,68.7 33.3,68.6 34.1,68.5 34.8,68.5 35.5,68.5 36.3,68.6 37.0,68.8 37.8,69.0 38.5,69.3 39.2,69.5 40.0,69.7 40.7,69.8 41.4,69.9" stroke="#28E2E5"/><path d="M23.7,64.7 26.4,64.7 29.0,64.6 31.7,64.5 34.3,64.3 37.0,64.2 39.6,64.2 42.3,64.2 44.9,64.4 47.6,64.8 50.2,65.3 52.9,65.8 55.5,66.4 58.2,66.9 60.8,67.4 63.5,67.7 66.1,68.0 68.8,68.1 71.4,68.2 74.1,68.2 76.7,68.3 79.4,68.5 82.0,68.9 84.7,69.3 87.3,69.9" stroke="#DF536B"/><path d="M23.7,53.0 26.3,52.5 29.0,52.1 31.6,52.1 34.2,52.5 36.8,53.2 39.4,54.2 42.0,55.0 44.6,55.6 47.2,55.7 49.8,55.2 52.5,54.4 55.1,53.3 57.7,52.4 60.3,51.8 62.9,51.9 65.5,52.8 68.1,54.5 70.7,56.7 73.3,59.2 76.0,61.8 78.6,64.2 81.2,66.4 83.8,68.2 86.4,69.9" stroke="#DF536B"/><path d="M23.7,71.6 25.0,71.7 26.3,71.7 27.6,71.7 28.9,71.6 30.2,71.5 31.5,71.3 32.8,71.1 34.1,70.9 35.3,70.7 36.6,70.5 37.9,70.4 39.2,70.3 40.5,70.2 41.8,70.2 43.1,70.3 44.4,70.4 45.7,70.5 46.9,70.5 48.2,70.6 49.5,70.6 50.8,70.5 52.1,70.4 53.4,70.1 54.7,69.9" stroke="#61D04F"/><path d="M23.7,82.9 26.4,83.0 29.0,83.0 31.7,82.7 34.3,82.3 37.0,81.9 39.6,81.6 42.3,81.5 44.9,81.6 47.6,82.1 50.2,82.6 52.8,83.1 55.5,83.4 58.1,83.3 60.8,82.8 63.4,81.8 66.1,80.6 68.7,79.1 71.4,77.7 74.0,76.4 76.7,75.2 79.3,74.0 81.9,72.8 84.6,71.5 87.2,69.9" stroke="#2297E6"/><path d="M23.7,65.0 23.9,65.4 24.2,66.6 24.4,68.2 24.6,69.6 24.8,70.1 25.0,69.4 25.2,67.4 25.4,64.6 25.6,61.5 25.9,59.1 26.1,58.0 26.3,58.6 26.5,60.8 26.7,64.2 26.9,67.8 27.1,71.1 27.3,73.2 27.6,73.9 27.8,73.4 28.0,72.0 28.2,70.5 28.4,69.4 28.6,69.2 28.8,69.9" stroke="#000000"/><path d="M23.7,52.5 25.7,52.4 27.7,52.0 29.6,51.6 31.6,51.5 33.5,51.9 35.5,52.9 37.4,54.4 39.4,56.1 41.3,57.7 43.3,58.9 45.3,59.5 47.2,59.4 49.2,58.8 51.1,58.1 53.1,57.6 55.0,57.6 57.0,58.4 58.9,59.9 60.9,61.8 62.9,64.0 64.8,66.1 66.8,67.8 68.7,69.0 70.7,69.9" stroke="#2297E6"/><path d="M23.7,73.5 25.5,73.5 27.3,73.6 29.1,73.7 30.9,73.7 32.6,73.7 34.4,73.6 36.2,73.4 38.0,73.1 39.8,72.7 41.5,72.3 43.3,71.9 45.1,71.5 46.9,71.3 48.7,71.3 50.5,71.3 52.2,71.4 54.0,71.4 55.8,71.5 57.6,71.4 59.4,71.2 61.1,70.9 62.9,70.6 64.7,70.2 66.5,69.9" stroke="#000000"/><path d="M23.7,57.7 26.2,57.6 28.6,57.5 31.1,57.2 33.6,57.0 36.0,56.7 38.5,56.5 40.9,56.4 43.4,56.4 45.8,56.6 48.3,57.0 50.7,57.6 53.2,58.3 55.7,59.3 58.1,60.3 60.6,61.4 63.0,62.5 65.5,63.7 67.9,64.7 70.4,65.8 72.8,66.7 75.3,67.6 77.8,68.4 80.2,69.1 82.7,69.9" stroke="#000000"/><path d="M23.7,67.1 25.7,67.1 27.7,67.0 29.7,67.0 31.7,66.9 33.7,66.9 35.7,66.8 37.6,66.8 39.6,66.9 41.6,67.0 43.6,67.1 45.6,67.2 47.6,67.4 49.6,67.5 51.5,67.6 53.5,67.7 55.5,67.8 57.5,67.9 59.5,68.1 61.5,68.3 63.5,68.5 65.4,68.8 67.4,69.2 69.4,69.5 71.4,69.9" stroke="#000000"/><path d="M23.7,61.9 25.6,61.9 27.5,61.9 29.5,62.0 31.4,62.0 33.3,62.0 35.2,62.0 37.1,62.0 39.0,61.9 40.9,61.9 42.8,61.8 44.7,61.8 46.6,61.8 48.5,62.0 50.4,62.2 52.3,62.6 54.2,63.2 56.1,63.8 58.0,64.6 59.9,65.4 61.8,66.3 63.7,67.2 65.6,68.1 67.6,69.0 69.5,69.9" stroke="#28E2E5"/><path d="M23.7,52.5 26.3,52.7 28.9,53.1 31.4,53.3 34.0,53.3 36.6,52.8 39.1,51.9 41.7,50.7 44.3,49.5 46.8,48.4 49.4,47.8 52.0,47.8 54.5,48.5 57.1,49.8 59.7,51.5 62.2,53.4 64.8,55.4 67.4,57.1 69.9,58.7 72.5,60.1 75.1,61.6 77.6,63.3 80.2,65.2 82.8,67.4 85.3,69.9" stroke="#DF536B"/><path d="M23.7,63.0 25.6,63.0 27.4,63.2 29.3,63.5 31.1,63.9 32.9,64.4 34.8,64.9 36.6,65.2 38.5,65.3 40.3,65.1 42.1,64.7 44.0,64.2 45.8,63.6 47.7,63.1 49.5,62.8 51.3,62.8 53.2,63.1 55.0,63.8 56.9,64.7 58.7,65.8 60.5,66.9 62.4,67.9 64.2,68.8 66.1,69.4 67.9,69.9" stroke="#CD0BBC"/><path d="M23.7,54.3 25.2,54.4 26.6,54.7 28.0,55.0 29.4,55.4 30.9,55.9 32.3,56.3 33.7,56.8 35.1,57.2 36.6,57.5 38.0,57.7 39.4,57.8 40.8,57.9 42.3,58.0 43.7,58.2 45.1,58.6 46.5,59.1 47.9,59.8 49.4,60.7 50.8,61.8 52.2,63.1 53.6,64.6 55.1,66.3 56.5,68.0 57.9,69.9" stroke="#DF536B"/><path d="M23.7,70.7 23.8,70.8 24.0,70.9 24.1,70.8 24.2,70.7 24.3,70.3 24.4,69.9 24.5,69.5 24.6,69.2 24.7,69.2 24.9,69.3 25.0,69.7 25.1,70.2 25.2,70.7 25.3,71.1 25.4,71.2 25.5,71.2 25.6,70.9 25.8,70.6 25.9,70.2 26.0,69.9 26.1,69.7 26.2,69.7 26.3,69.8 26.4,69.9" stroke="#61D04F"/><path d="M23.7,52.5 26.2,52.6 28.7,52.5 31.3,52.5 33.8,52.4 36.3,52.4 38.8,52.4 41.3,52.5 43.8,52.6 46.3,52.7 48.8,52.8 51.3,52.8 53.8,52.9 56.3,53.1 58.8,53.5 61.3,54.2 63.8,55.1 66.3,56.5 68.8,58.1 71.3,60.0 73.8,62.1 76.3,64.2 78.8,66.2 81.3,68.1 83.8,69.9" stroke="#000000"/><path d="M23.7,76.8 26.6,76.9 29.6,77.0 32.5,77.0 35.4,76.8 38.3,76.3 41.2,75.6 44.1,74.9 47.0,74.2 49.9,73.7 52.9,73.4 55.8,73.3 58.7,73.3 61.6,73.5 64.5,73.6 67.4,73.6 70.3,73.5 73.2,73.1 76.2,72.6 79.1,72.0 82.0,71.4 84.9,70.9 87.8,70.5 90.7,70.2 93.6,69.9" stroke="#CD0BBC"/><path d="M23.7,61.5 26.3,62.0 28.9,62.2 31.6,62.0 34.2,61.5 36.8,60.7 39.4,59.8 42.0,59.2 44.6,59.1 47.2,59.5 49.8,60.6 52.4,61.9 55.0,63.3 57.6,64.5 60.2,65.3 62.8,65.6 65.4,65.5 68.0,65.2 70.6,64.9 73.3,65.0 75.9,65.5 78.5,66.4 81.1,67.6 83.7,68.8 86.3,69.9" stroke="#28E2E5"/><path d="M23.7,44.4 26.3,44.9 28.8,45.1 31.4,45.1 33.9,44.9 36.4,44.7 39.0,44.8 41.5,45.4 44.0,46.6 46.6,48.3 49.1,50.3 51.6,52.3 54.2,54.1 56.7,55.3 59.3,56.1 61.8,56.4 64.3,56.6 66.9,56.8 69.4,57.5 71.9,58.8 74.5,60.6 77.0,62.8 79.6,65.3 82.1,67.7 84.6,69.9" stroke="#28E2E5"/><path d="M23.7,67.1 23.9,67.4 24.1,67.7 24.3,68.0 24.5,68.3 24.8,68.5 25.0,68.6 25.2,68.6 25.4,68.5 25.6,68.3 25.8,68.1 26.0,67.9 26.2,67.7 26.4,67.6 26.6,67.5 26.8,67.6 27.0,67.7 27.2,68.0 27.4,68.3 27.6,68.7 27.8,69.0 28.0,69.4 28.2,69.6 28.4,69.8 28.6,69.9" stroke="#000000"/><path d="M23.7,59.9 25.2,60.0 26.6,60.4 28.0,60.9 29.4,61.5 30.8,62.2 32.2,62.8 33.6,63.3 35.0,63.6 36.5,63.7 37.9,63.5 39.3,63.1 40.7,62.7 42.1,62.2 43.5,61.8 44.9,61.7 46.4,61.8 47.8,62.2 49.2,63.0 50.6,64.0 52.0,65.1 53.4,66.4 54.8,67.7 56.3,68.9 57.7,69.9" stroke="#DF536B"/><path d="M23.7,75.7 23.8,74.9 23.9,74.2 24.0,73.5 24.1,73.0 24.2,72.6 24.2,72.5 24.3,72.5 24.4,72.8 24.5,73.2 24.6,73.7 24.6,74.2 24.7,74.6 24.8,75.0 24.9,75.2 25.0,75.2 25.1,75.0 25.1,74.6 25.2,74.1 25.3,73.4 25.4,72.6 25.5,71.8 25.6,71.0 25.6,70.4 25.7,69.9" stroke="#2297E6"/><path d="M23.7,61.7 25.7,61.8 27.7,62.0 29.6,62.4 31.6,62.7 33.6,62.9 35.5,63.0 37.5,62.9 39.4,62.7 41.4,62.6 43.4,62.7 45.3,63.2 47.3,63.9 49.3,64.8 51.2,65.8 53.2,66.7 55.2,67.3 57.1,67.6 59.1,67.7 61.0,67.7 63.0,67.8 65.0,68.1 66.9,68.5 68.9,69.2 70.9,69.9" stroke="#000000"/><path d="M23.7,49.1 25.7,49.6 27.7,50.3 29.7,51.0 31.6,51.7 33.6,52.4 35.6,52.8 37.5,53.1 39.5,53.0 41.5,52.8 43.5,52.3 45.4,51.7 47.4,51.0 49.4,50.5 51.4,50.1 53.3,50.2 55.3,50.7 57.3,51.8 59.2,53.5 61.2,55.7 63.2,58.3 65.2,61.1 67.1,64.1 69.1,67.1 71.1,69.9" stroke="#61D04F"/><path d="M23.7,59.0 26.0,59.3 28.2,59.6 30.5,59.8 32.7,59.8 34.9,59.7 37.2,59.6 39.4,59.3 41.7,59.1 43.9,58.9 46.2,58.9 48.4,59.0 50.6,59.3 52.9,59.8 55.1,60.5 57.4,61.4 59.6,62.5 61.8,63.6 64.1,64.7 66.3,65.8 68.6,66.8 70.8,67.8 73.0,68.5 75.3,69.3 77.5,69.9" stroke="#61D04F"/><path d="M23.7,71.5 23.8,71.4 23.9,71.5 24.0,71.5 24.1,71.6 24.2,71.6 24.3,71.4 24.4,71.2 24.4,70.9 24.5,70.5 24.6,70.1 24.7,69.8 24.8,69.7 24.9,69.7 25.0,69.9 25.1,70.1 25.1,70.4 25.2,70.6 25.3,70.7 25.4,70.7 25.5,70.5 25.6,70.3 25.7,70.1 25.8,70.0 25.8,69.9" stroke="#28E2E5"/><path d="M23.7,68.6 25.8,68.4 27.9,68.4 30.0,68.4 32.1,68.7 34.2,69.0 36.3,69.5 38.4,69.9 40.5,70.3 42.5,70.5 44.6,70.5 46.7,70.2 48.8,69.8 50.9,69.3 53.0,68.8 55.1,68.3 57.2,67.9 59.3,67.8 61.3,67.9 63.4,68.2 65.5,68.6 67.6,69.0 69.7,69.4 71.8,69.7 73.9,69.9" stroke="#000000"/><path d="M23.7,64.8 23.9,64.8 24.1,64.6 24.3,64.6 24.4,64.7 24.6,65.0 24.8,65.6 24.9,66.5 25.1,67.4 25.3,68.3 25.5,69.0 25.6,69.4 25.8,69.4 26.0,69.1 26.1,68.6 26.3,68.0 26.5,67.5 26.7,67.1 26.8,67.1 27.0,67.3 27.2,67.8 27.4,68.4 27.5,69.1 27.7,69.6 27.9,69.9" stroke="#2297E6"/><path d="M23.7,71.2 26.8,71.4 29.9,71.9 33.0,72.4 36.0,72.8 39.1,72.9 42.2,72.8 45.2,72.3 48.3,71.4 51.4,70.4 54.5,69.4 57.5,68.5 60.6,68.0 63.7,67.9 66.7,68.1 69.8,68.8 72.9,69.6 76.0,70.5 79.0,71.2 82.1,71.6 85.2,71.7 88.3,71.4 91.3,71.0 94.4,70.4 97.5,69.9" stroke="#61D04F"/><path d="M23.7,59.0 25.1,59.1 26.4,59.1 27.7,59.0 29.1,58.8 30.4,58.6 31.8,58.5 33.1,58.6 34.4,59.0 35.8,59.6 37.1,60.3 38.4,61.0 39.8,61.7 41.1,62.2 42.5,62.5 43.8,62.7 45.1,62.8 46.5,62.9 47.8,63.3 49.1,63.8 50.5,64.7 51.8,65.9 53.1,67.2 54.5,68.6 55.8,69.9" stroke="#61D04F"/><path d="M23.7,76.3 26.4,76.2 29.0,76.1 31.6,76.0 34.2,75.8 36.9,75.7 39.5,75.5 42.1,75.4 44.7,75.3 47.4,75.2 50.0,75.1 52.6,75.0 55.3,74.9 57.9,74.7 60.5,74.5 63.1,74.2 65.8,73.9 68.4,73.6 71.0,73.2 73.6,72.8 76.3,72.3 78.9,71.8 81.5,71.2 84.1,70.5 86.8,69.9" stroke="#000000"/><path d="M23.7,69.0 25.8,69.1 27.9,69.1 30.0,69.1 32.1,68.9 34.2,68.6 36.3,68.4 38.4,68.2 40.5,68.0 42.6,68.0 44.7,68.1 46.8,68.4 48.9,68.7 51.0,69.1 53.1,69.5 55.2,69.9 57.3,70.1 59.4,70.3 61.5,70.3 63.6,70.2 65.7,70.1 67.8,69.9 69.9,69.8 72.0,69.8 74.1,69.9" stroke="#2297E6"/><path d="M23.7,74.3 26.1,73.8 28.5,73.6 30.8,73.7 33.2,74.4 35.5,75.5 37.9,76.5 40.3,77.3 42.6,77.5 45.0,76.9 47.3,75.7 49.7,74.0 52.1,72.3 54.4,71.0 56.8,70.3 59.2,70.4 61.5,71.0 63.9,72.0 66.2,72.8 68.6,73.3 71.0,73.2 73.3,72.6 75.7,71.6 78.0,70.6 80.4,69.9" stroke="#000000"/><path d="M23.7,67.6 26.2,67.9 28.7,67.9 31.2,67.7 33.7,67.3 36.2,66.7 38.7,66.2 41.2,65.8 43.7,65.9 46.2,66.4 48.7,67.2 51.2,68.2 53.7,69.3 56.2,70.1 58.7,70.5 61.1,70.5 63.6,70.2 66.1,69.6 68.6,68.9 71.1,68.5 73.6,68.3 76.1,68.4 78.6,68.9 81.1,69.4 83.6,69.9" stroke="#CD0BBC"/><path d="M23.7,69.1 24.7,69.3 25.7,69.1 26.6,68.7 27.6,68.2 28.5,67.7 29.5,67.6 30.5,67.8 31.4,68.6 32.4,69.6 33.3,70.6 34.3,71.3 35.2,71.5 36.2,71.1 37.2,70.3 38.1,69.3 39.1,68.4 40.0,67.8 41.0,67.8 42.0,68.1 42.9,68.8 43.9,69.4 44.8,69.9 45.8,70.0 46.8,69.9" stroke="#DF536B"/><path d="M23.7,55.9 25.2,56.0 26.7,56.1 28.2,56.1 29.7,56.1 31.2,56.0 32.7,56.0 34.2,55.9 35.7,55.9 37.2,56.0 38.7,56.2 40.2,56.5 41.7,56.9 43.2,57.5 44.7,58.2 46.2,58.9 47.7,59.8 49.2,60.8 50.7,61.8 52.2,62.9 53.6,64.1 55.1,65.4 56.6,66.8 58.1,68.3 59.6,69.9" stroke="#28E2E5"/><path d="M23.7,52.8 25.1,52.7 26.6,52.8 28.0,53.2 29.4,53.8 30.8,54.5 32.2,55.4 33.6,56.2 35.0,57.1 36.4,57.7 37.8,58.3 39.2,58.7 40.7,59.0 42.1,59.3 43.5,59.7 44.9,60.2 46.3,60.9 47.7,61.8 49.1,62.9 50.5,64.1 51.9,65.3 53.3,66.5 54.7,67.7 56.2,68.8 57.6,69.9" stroke="#28E2E5"/><path d="M23.7,77.3 25.3,77.2 26.8,76.8 28.3,76.5 29.8,76.1 31.3,75.8 32.8,75.7 34.3,75.8 35.9,76.0 37.4,76.4 38.9,76.8 40.4,77.3 41.9,77.5 43.4,77.6 44.9,77.3 46.5,76.8 48.0,76.1 49.5,75.1 51.0,74.1 52.5,73.1 54.0,72.2 55.5,71.4 57.1,70.8 58.6,70.3 60.1,69.9" stroke="#2297E6"/><path d="M23.7,66.9 25.7,66.5 27.7,65.9 29.7,65.3 31.7,64.9 33.7,64.9 35.7,65.5 37.7,66.7 39.7,68.3 41.7,69.9 43.7,71.2 45.7,71.9 47.7,72.0 49.7,71.3 51.7,70.1 53.7,68.6 55.7,67.2 57.7,66.2 59.7,65.8 61.7,66.1 63.7,66.8 65.7,67.8 67.7,68.8 69.7,69.6 71.7,69.9" stroke="#2297E6"/><path d="M23.7,78.3 25.9,78.5 28.0,78.5 30.2,78.2 32.3,77.6 34.5,76.8 36.6,76.1 38.8,75.7 40.9,75.8 43.0,76.3 45.2,77.2 47.3,78.2 49.5,79.1 51.6,79.6 53.8,79.5 55.9,78.8 58.1,77.6 60.2,76.1 62.3,74.6 64.5,73.3 66.6,72.2 68.8,71.5 70.9,71.0 73.1,70.5 75.2,69.9" stroke="#2297E6"/><path d="M23.7,73.1 26.3,73.2 29.0,73.4 31.6,73.5 34.2,73.6 36.8,73.5 39.4,73.2 42.0,72.9 44.6,72.4 47.2,71.9 49.8,71.5 52.5,71.3 55.1,71.3 57.7,71.5 60.3,71.8 62.9,72.2 65.5,72.4 68.1,72.5 70.7,72.4 73.3,72.1 75.9,71.7 78.6,71.2 81.2,70.7 83.8,70.2 86.4,69.9" stroke="#61D04F"/><path d="M23.7,54.4 24.7,54.4 25.8,54.5 26.8,54.9 27.8,55.4 28.8,56.1 29.8,56.9 30.8,57.8 31.8,58.8 32.8,59.7 33.8,60.5 34.8,61.2 35.8,61.6 36.9,61.8 37.9,61.8 38.9,61.8 39.9,61.7 40.9,61.8 41.9,62.1 42.9,62.8 43.9,63.7 44.9,65.0 45.9,66.5 46.9,68.2 48.0,69.9" stroke="#61D04F"/><path d="M23.7,59.8 25.3,59.9 26.9,60.1 28.4,60.3 30.0,60.4 31.5,60.3 33.1,60.1 34.6,59.8 36.2,59.5 37.8,59.2 39.3,59.2 40.9,59.3 42.4,59.6 44.0,60.0 45.5,60.3 47.1,60.7 48.7,61.2 50.2,61.6 51.8,62.3 53.3,63.1 54.9,64.2 56.4,65.5 58.0,67.0 59.6,68.5 61.1,69.9" stroke="#CD0BBC"/><path d="M23.7,70.0 26.7,69.9 29.7,69.9 32.7,70.0 35.7,70.0 38.7,70.0 41.6,70.1 44.6,70.1 47.6,70.2 50.6,70.2 53.6,70.1 56.6,70.1 59.5,70.1 62.5,70.0 65.5,69.9 68.5,69.9 71.5,69.8 74.5,69.8 77.4,69.8 80.4,69.8 83.4,69.8 86.4,69.9 89.4,69.9 92.4,69.9 95.3,69.9" stroke="#61D04F"/><path d="M23.7,64.1 27.0,64.0 30.2,64.0 33.4,64.1 36.7,64.4 39.9,64.7 43.1,65.1 46.3,65.3 49.6,65.5 52.8,65.4 56.0,65.2 59.3,65.0 62.5,64.7 65.7,64.6 68.9,64.7 72.2,65.0 75.4,65.6 78.6,66.3 81.9,67.0 85.1,67.7 88.3,68.3 91.5,68.8 94.8,69.2 98.0,69.5 101.2,69.9" stroke="#DF536B"/><path d="M23.7,63.4 24.3,63.7 24.9,63.8 25.5,63.6 26.0,63.3 26.6,62.8 27.2,62.2 27.8,61.5 28.4,60.8 28.9,60.3 29.5,59.9 30.1,59.8 30.7,60.1 31.2,60.6 31.8,61.5 32.4,62.7 33.0,64.0 33.6,65.3 34.1,66.6 34.7,67.7 35.3,68.6 35.9,69.2 36.4,69.6 37.0,69.8 37.6,69.9" stroke="#000000"/><path d="M23.7,46.2 26.2,46.5 28.6,46.7 31.0,46.7 33.4,46.6 35.9,46.4 38.3,46.3 40.7,46.3 43.2,46.5 45.6,47.0 48.0,47.7 50.4,48.6 52.9,49.7 55.3,50.8 57.7,52.0 60.2,53.2 62.6,54.4 65.0,55.8 67.4,57.3 69.9,59.0 72.3,60.8 74.7,62.9 77.1,65.1 79.6,67.5 82.0,69.9" stroke="#2297E6"/><path d="M23.7,83.6 25.6,83.7 27.5,83.9 29.4,84.1 31.3,84.1 33.1,83.9 35.0,83.7 36.9,83.5 38.8,83.4 40.7,83.5 42.5,83.9 44.4,84.5 46.3,85.1 48.2,85.4 50.0,85.3 51.9,84.6 53.8,83.4 55.7,81.7 57.6,79.7 59.4,77.7 61.3,75.8 63.2,74.1 65.1,72.6 67.0,71.3 68.8,69.9" stroke="#000000"/><path d="M23.7,71.5 25.5,71.8 27.3,71.7 29.0,71.2 30.8,70.5 32.5,69.8 34.3,69.5 36.0,69.7 37.8,70.6 39.6,71.8 41.3,73.0 43.1,73.7 44.8,73.7 46.6,73.0 48.3,71.7 50.1,70.3 51.9,69.2 53.6,68.6 55.4,68.7 57.1,69.3 58.9,70.0 60.6,70.5 62.4,70.6 64.2,70.4 65.9,69.9" stroke="#2297E6"/><path d="M23.7,79.2 24.9,79.4 26.0,79.4 27.2,79.2 28.3,79.1 29.5,78.9 30.6,78.8 31.8,78.8 32.9,79.0 34.1,79.2 35.2,79.5 36.4,79.9 37.5,80.2 38.7,80.4 39.8,80.4 41.0,80.2 42.1,79.7 43.3,78.9 44.4,77.8 45.6,76.4 46.7,74.9 47.9,73.4 49.0,72.0 50.2,70.8 51.3,69.9" stroke="#61D04F"/><path d="M23.7,55.0 26.3,55.1 28.9,54.9 31.5,54.5 34.1,54.2 36.7,54.1 39.3,54.3 41.8,55.0 44.4,55.9 47.0,57.0 49.6,57.9 52.2,58.5 54.8,58.7 57.4,58.5 59.9,58.1 62.5,57.7 65.1,57.8 67.7,58.3 70.3,59.4 72.9,61.0 75.5,62.9 78.1,64.8 80.6,66.7 83.2,68.4 85.8,69.9" stroke="#28E2E5"/><path d="M23.7,87.6 25.6,88.6 27.5,88.6 29.4,87.5 31.3,85.5 33.2,83.2 35.0,81.3 36.9,80.6 38.8,81.3 40.7,83.6 42.6,87.0 44.5,90.7 46.3,93.9 48.2,95.6 50.1,95.4 52.0,93.1 53.9,89.3 55.7,84.5 57.6,79.6 59.5,75.5 61.4,72.6 63.3,71.0 65.2,70.5 67.0,70.3 68.9,69.9" stroke="#CD0BBC"/><path d="M23.7,80.9 25.0,80.4 26.3,80.1 27.5,80.1 28.8,80.4 30.0,80.9 31.3,81.3 32.6,81.2 33.8,80.4 35.1,79.0 36.3,77.2 37.6,75.4 38.9,73.9 40.1,73.1 41.4,72.9 42.7,73.2 43.9,73.7 45.2,74.1 46.4,74.0 47.7,73.5 49.0,72.6 50.2,71.7 51.5,70.8 52.7,70.3 54.0,69.9" stroke="#CD0BBC"/><path d="M23.7,70.2 25.8,70.1 27.9,70.1 30.0,70.2 32.0,70.4 34.1,70.6 36.2,70.9 38.3,71.0 40.3,71.1 42.4,71.0 44.5,70.8 46.6,70.5 48.6,70.1 50.7,69.7 52.8,69.4 54.9,69.2 56.9,69.2 59.0,69.2 61.1,69.4 63.2,69.6 65.3,69.8 67.3,70.0 69.4,70.0 71.5,70.0 73.6,69.9" stroke="#000000"/><path d="M23.7,71.9 24.2,71.9 24.6,71.9 25.0,71.9 25.4,72.0 25.9,72.0 26.3,72.0 26.7,71.9 27.2,71.8 27.6,71.7 28.0,71.6 28.4,71.6 28.9,71.6 29.3,71.6 29.7,71.6 30.2,71.6 30.6,71.5 31.0,71.3 31.4,71.0 31.9,70.7 32.3,70.5 32.7,70.3 33.2,70.1 33.6,70.0 34.0,69.9" stroke="#CD0BBC"/><path d="M23.7,78.1 25.6,78.0 27.5,78.0 29.3,77.9 31.2,77.8 33.1,77.6 34.9,77.5 36.8,77.2 38.7,76.9 40.5,76.5 42.4,76.1 44.3,75.5 46.1,75.0 48.0,74.4 49.9,73.8 51.7,73.3 53.6,72.8 55.5,72.5 57.3,72.1 59.2,71.9 61.1,71.6 62.9,71.3 64.8,70.9 66.7,70.4 68.5,69.9" stroke="#CD0BBC"/><path d="M23.7,75.4 25.1,75.4 26.5,75.3 27.9,75.2 29.2,75.0 30.6,74.7 32.0,74.3 33.4,73.8 34.8,73.3 36.1,72.7 37.5,72.2 38.9,71.8 40.3,71.6 41.6,71.6 43.0,71.6 44.4,71.8 45.8,71.9 47.2,72.1 48.5,72.1 49.9,72.0 51.3,71.7 52.7,71.4 54.0,70.9 55.4,70.4 56.8,69.9" stroke="#000000"/><path d="M23.7,59.9 25.4,60.7 27.0,61.9 28.7,63.0 30.3,63.7 31.9,63.9 33.6,63.3 35.2,62.2 36.8,60.6 38.5,59.0 40.1,57.8 41.7,57.1 43.4,57.3 45.0,58.4 46.7,60.2 48.3,62.4 49.9,64.8 51.6,66.9 53.2,68.4 54.8,69.3 56.5,69.6 58.1,69.5 59.8,69.3 61.4,69.4 63.0,69.9" stroke="#28E2E5"/><path d="M23.7,66.7 25.7,66.9 27.7,67.3 29.6,67.8 31.6,68.4 33.5,69.0 35.5,69.5 37.5,69.9 39.4,70.1 41.4,70.0 43.4,69.7 45.3,69.2 47.3,68.5 49.2,67.8 51.2,67.1 53.2,66.5 55.1,66.1 57.1,65.9 59.1,66.0 61.0,66.3 63.0,66.9 64.9,67.6 66.9,68.4 68.9,69.2 70.8,69.9" stroke="#DF536B"/><path d="M23.7,56.2 25.2,55.3 26.7,54.6 28.2,54.1 29.7,53.9 31.2,54.2 32.7,54.9 34.2,55.8 35.7,57.0 37.1,58.2 38.6,59.3 40.1,60.2 41.6,60.8 43.1,61.0 44.6,60.9 46.1,60.6 47.6,60.2 49.1,59.9 50.6,60.0 52.1,60.5 53.5,61.5 55.0,63.1 56.5,65.2 58.0,67.5 59.5,69.9" stroke="#61D04F"/><path d="M23.7,55.0 24.0,55.5 24.3,55.9 24.6,56.2 24.9,56.4 25.2,56.7 25.5,57.2 25.8,58.0 26.1,59.1 26.4,60.7 26.7,62.6 27.0,64.6 27.2,66.7 27.5,68.6 27.8,70.1 28.1,71.1 28.4,71.5 28.7,71.4 29.0,71.0 29.3,70.3 29.6,69.7 29.9,69.3 30.2,69.1 30.5,69.3 30.8,69.9" stroke="#28E2E5"/><path d="M23.7,72.1 25.7,72.0 27.6,72.0 29.5,71.9 31.4,71.8 33.3,71.8 35.3,71.9 37.2,71.9 39.1,72.0 41.0,72.0 43.0,72.0 44.9,71.9 46.8,71.8 48.7,71.6 50.6,71.4 52.6,71.2 54.5,71.0 56.4,70.9 58.3,70.8 60.3,70.7 62.2,70.7 64.1,70.5 66.0,70.4 67.9,70.1 69.9,69.9" stroke="#2297E6"/><path d="M23.7,74.1 25.0,74.0 26.2,73.9 27.4,73.8 28.6,73.7 29.9,73.5 31.1,73.2 32.3,72.9 33.6,72.6 34.8,72.4 36.0,72.2 37.2,72.2 38.5,72.3 39.7,72.4 40.9,72.6 42.1,72.6 43.4,72.6 44.6,72.4 45.8,72.1 47.1,71.8 48.3,71.4 49.5,71.0 50.7,70.6 52.0,70.3 53.2,69.9" stroke="#CD0BBC"/><path d="M23.7,71.5 26.3,71.7 28.8,71.6 31.3,71.4 33.8,71.0 36.3,70.6 38.8,70.1 41.3,69.8 43.8,69.6 46.4,69.6 48.9,69.9 51.4,70.4 53.9,70.9 56.4,71.5 58.9,72.0 61.4,72.4 63.9,72.5 66.5,72.4 69.0,72.1 71.5,71.6 74.0,71.1 76.5,70.6 79.0,70.2 81.5,70.0 84.0,69.9" stroke="#61D04F"/><path d="M23.7,65.8 25.1,65.8 26.5,65.8 27.9,65.9 29.3,66.1 30.7,66.3 32.1,66.8 33.5,67.3 34.9,67.8 36.3,68.2 37.7,68.5 39.1,68.5 40.5,68.3 41.9,68.0 43.2,67.7 44.6,67.4 46.0,67.3 47.4,67.4 48.8,67.7 50.2,68.1 51.6,68.6 53.0,69.0 54.4,69.4 55.8,69.7 57.2,69.9" stroke="#61D04F"/><path d="M23.7,71.3 25.6,71.2 27.5,71.1 29.4,71.0 31.3,71.0 33.2,70.9 35.1,70.9 37.0,70.9 38.9,70.9 40.8,71.0 42.7,71.1 44.6,71.2 46.5,71.2 48.4,71.3 50.3,71.2 52.2,71.1 54.1,71.0 56.1,70.8 58.0,70.6 59.9,70.4 61.8,70.3 63.7,70.1 65.6,70.0 67.5,70.0 69.4,69.9" stroke="#28E2E5"/><path d="M23.7,57.1 24.0,57.7 24.2,58.1 24.4,58.3 24.7,58.4 24.9,58.4 25.1,58.5 25.4,58.8 25.6,59.3 25.9,60.2 26.1,61.3 26.3,62.8 26.6,64.3 26.8,65.8 27.0,67.1 27.3,68.1 27.5,68.7 27.7,69.0 28.0,69.0 28.2,68.9 28.4,68.7 28.7,68.7 28.9,68.8 29.1,69.2 29.4,69.9" stroke="#DF536B"/><path d="M23.7,68.4 24.5,68.2 25.3,68.1 26.1,68.1 26.9,68.1 27.7,68.4 28.5,68.7 29.3,69.1 30.1,69.5 30.9,69.9 31.7,70.3 32.5,70.7 33.3,70.9 34.1,70.9 34.9,70.9 35.6,70.7 36.4,70.4 37.2,70.1 38.0,69.8 38.8,69.6 39.6,69.4 40.4,69.4 41.2,69.5 42.0,69.6 42.8,69.9" stroke="#CD0BBC"/><path d="M23.7,70.9 27.0,70.8 30.2,70.8 33.4,70.8 36.6,70.8 39.8,70.8 43.1,70.8 46.3,70.9 49.5,70.9 52.7,70.9 56.0,70.8 59.2,70.7 62.4,70.6 65.6,70.5 68.9,70.3 72.1,70.2 75.3,70.1 78.5,70.1 81.7,70.1 85.0,70.1 88.2,70.1 91.4,70.1 94.6,70.1 97.9,70.0 101.1,69.9" stroke="#DF536B"/><path d="M23.7,64.6 26.1,64.6 28.4,64.5 30.7,64.5 33.1,64.3 35.4,64.2 37.7,64.1 40.1,64.0 42.4,63.9 44.8,63.9 47.1,64.1 49.4,64.3 51.8,64.6 54.1,65.0 56.4,65.4 58.8,65.8 61.1,66.2 63.4,66.6 65.8,67.0 68.1,67.5 70.4,67.9 72.8,68.4 75.1,68.8 77.4,69.4 79.8,69.9" stroke="#000000"/><path d="M23.7,54.7 25.9,54.5 28.0,54.5 30.2,54.8 32.3,55.5 34.4,56.6 36.6,57.9 38.7,59.3 40.8,60.7 43.0,61.7 45.1,62.5 47.3,63.0 49.4,63.4 51.5,63.6 53.7,64.0 55.8,64.4 57.9,65.0 60.1,65.6 62.2,66.3 64.4,66.9 66.5,67.5 68.6,67.9 70.8,68.4 72.9,69.0 75.0,69.9" stroke="#28E2E5"/><path d="M23.7,67.3 24.9,67.2 26.0,67.1 27.1,67.0 28.2,67.1 29.3,67.2 30.5,67.3 31.6,67.6 32.7,67.8 33.8,68.1 34.9,68.3 36.1,68.5 37.2,68.6 38.3,68.6 39.4,68.5 40.5,68.4 41.7,68.3 42.8,68.2 43.9,68.2 45.0,68.3 46.1,68.5 47.3,68.8 48.4,69.1 49.5,69.5 50.6,69.9" stroke="#CD0BBC"/><path d="M23.7,62.4 24.6,62.3 25.5,62.1 26.4,62.0 27.2,61.9 28.1,61.8 29.0,61.9 29.9,62.0 30.7,62.3 31.6,62.6 32.5,62.9 33.3,63.4 34.2,63.8 35.1,64.2 36.0,64.6 36.8,65.0 37.7,65.4 38.6,65.8 39.5,66.3 40.3,66.7 41.2,67.2 42.1,67.8 43.0,68.4 43.8,69.1 44.7,69.9" stroke="#DF536B"/><path d="M23.7,61.5 24.7,61.4 25.6,61.2 26.6,61.1 27.5,61.1 28.4,61.4 29.4,62.0 30.3,62.9 31.3,64.1 32.2,65.2 33.2,66.3 34.1,67.2 35.0,67.7 36.0,67.8 36.9,67.5 37.9,67.0 38.8,66.5 39.7,66.0 40.7,65.8 41.6,65.8 42.6,66.2 43.5,66.9 44.5,67.9 45.4,68.9 46.3,69.9" stroke="#2297E6"/><path d="M23.7,50.9 24.2,51.6 24.6,52.5 25.0,53.4 25.5,54.1 25.9,54.7 26.3,55.0 26.7,55.1 27.2,55.3 27.6,55.7 28.0,56.4 28.5,57.4 28.9,58.8 29.3,60.2 29.8,61.5 30.2,62.5 30.6,63.3 31.0,63.8 31.5,64.2 31.9,64.8 32.3,65.5 32.8,66.5 33.2,67.7 33.6,68.8 34.0,69.9" stroke="#28E2E5"/><path d="M23.7,67.3 26.2,67.3 28.7,67.3 31.2,67.5 33.7,67.7 36.2,68.0 38.7,68.3 41.2,68.6 43.7,68.9 46.2,69.0 48.7,68.9 51.2,68.8 53.7,68.6 56.2,68.3 58.7,68.0 61.2,67.7 63.7,67.5 66.2,67.5 68.7,67.6 71.2,67.8 73.7,68.1 76.2,68.6 78.7,69.0 81.1,69.5 83.6,69.9" stroke="#28E2E5"/><path d="M23.7,63.6 25.6,63.9 27.4,64.1 29.2,64.2 31.1,64.0 32.9,63.6 34.8,62.9 36.6,62.2 38.4,61.4 40.3,60.7 42.1,60.3 43.9,60.3 45.8,60.6 47.6,61.2 49.4,62.2 51.3,63.3 53.1,64.6 55.0,65.8 56.8,67.0 58.6,67.9 60.5,68.7 62.3,69.2 64.1,69.6 66.0,69.8 67.8,69.9" stroke="#28E2E5"/><path d="M23.7,52.9 24.5,52.7 25.2,52.5 26.0,52.2 26.7,52.1 27.5,52.3 28.2,52.9 29.0,54.0 29.7,55.7 30.5,57.9 31.2,60.3 32.0,62.8 32.7,65.1 33.5,67.0 34.2,68.4 35.0,69.2 35.7,69.5 36.5,69.3 37.2,68.8 38.0,68.3 38.7,67.9 39.5,67.8 40.2,68.1 41.0,68.8 41.7,69.9" stroke="#28E2E5"/><path d="M23.7,71.6 25.4,71.7 27.1,71.4 28.7,70.9 30.4,70.2 32.1,69.5 33.7,69.2 35.4,69.4 37.1,70.1 38.7,71.1 40.4,72.4 42.0,73.5 43.7,74.2 45.4,74.3 47.0,73.8 48.7,72.8 50.4,71.5 52.0,70.3 53.7,69.4 55.4,68.9 57.0,68.8 58.7,69.1 60.4,69.5 62.0,69.9 63.7,69.9" stroke="#000000"/><path d="M23.7,85.1 26.3,86.2 28.8,86.6 31.3,86.1 33.8,84.7 36.3,82.4 38.8,79.8 41.4,77.1 43.9,74.9 46.4,73.5 48.9,73.3 51.4,74.3 53.9,76.3 56.4,79.1 59.0,82.0 61.5,84.7 64.0,86.6 66.5,87.3 69.0,86.8 71.5,85.0 74.1,82.2 76.6,78.9 79.1,75.4 81.6,72.3 84.1,69.9" stroke="#DF536B"/><path d="M23.7,82.8 25.7,82.9 27.6,82.9 29.6,82.6 31.5,82.1 33.5,81.2 35.4,80.1 37.4,79.1 39.3,78.4 41.3,78.2 43.2,78.4 45.2,78.9 47.1,79.4 49.1,79.6 51.0,79.3 52.9,78.5 54.9,77.3 56.8,75.9 58.8,74.6 60.7,73.5 62.7,72.7 64.6,72.1 66.6,71.5 68.5,70.8 70.5,69.9" stroke="#000000"/><path d="M23.7,59.2 24.2,58.9 24.7,58.6 25.2,58.7 25.6,59.2 26.1,60.3 26.6,61.8 27.0,63.6 27.5,65.5 28.0,67.2 28.5,68.6 28.9,69.4 29.4,69.5 29.9,69.1 30.3,68.2 30.8,67.0 31.3,65.9 31.8,65.1 32.2,64.7 32.7,64.9 33.2,65.6 33.6,66.6 34.1,67.8 34.6,69.0 35.1,69.9" stroke="#DF536B"/><path d="M23.7,59.2 24.4,59.7 25.0,60.2 25.7,60.5 26.3,60.5 26.9,60.4 27.6,60.4 28.2,60.6 28.9,61.3 29.5,62.4 30.2,63.9 30.8,65.4 31.4,66.8 32.1,67.9 32.7,68.4 33.4,68.3 34.0,67.8 34.7,67.1 35.3,66.4 35.9,66.1 36.6,66.3 37.2,66.9 37.9,67.9 38.5,68.9 39.1,69.9" stroke="#000000"/><path d="M23.7,68.7 25.6,68.7 27.5,68.9 29.4,69.0 31.3,69.2 33.1,69.3 35.0,69.3 36.9,69.2 38.8,69.1 40.6,68.8 42.5,68.6 44.4,68.5 46.3,68.4 48.2,68.4 50.0,68.5 51.9,68.8 53.8,69.1 55.7,69.4 57.5,69.7 59.4,69.9 61.3,70.0 63.2,70.0 65.1,70.0 66.9,69.9 68.8,69.9" stroke="#2297E6"/><path d="M23.7,48.8 25.8,49.1 27.9,49.3 30.0,49.4 32.1,49.4 34.2,49.2 36.3,48.9 38.4,48.6 40.5,48.3 42.5,48.3 44.6,48.5 46.7,49.0 48.8,49.8 50.9,50.9 53.0,52.2 55.1,53.7 57.2,55.3 59.3,57.0 61.4,58.7 63.4,60.3 65.5,62.0 67.6,63.8 69.7,65.7 71.8,67.8 73.9,69.9" stroke="#CD0BBC"/><path d="M23.7,66.2 24.2,65.9 24.6,65.6 25.0,65.2 25.4,65.0 25.8,64.9 26.2,65.1 26.7,65.6 27.1,66.3 27.5,67.2 27.9,68.1 28.3,69.0 28.7,69.8 29.2,70.3 29.6,70.6 30.0,70.5 30.4,70.3 30.8,69.9 31.2,69.4 31.7,69.0 32.1,68.8 32.5,68.8 32.9,69.0 33.3,69.4 33.7,69.9" stroke="#CD0BBC"/><path d="M23.7,59.8 25.7,59.5 27.7,59.1 29.6,58.7 31.6,58.4 33.5,58.2 35.5,58.3 37.5,58.6 39.4,59.2 41.4,59.9 43.3,60.9 45.3,61.9 47.2,63.1 49.2,64.3 51.2,65.4 53.1,66.6 55.1,67.5 57.0,68.3 59.0,68.9 61.0,69.3 62.9,69.5 64.9,69.6 66.8,69.6 68.8,69.7 70.8,69.9" stroke="#000000"/><path d="M23.7,77.0 26.3,77.0 28.9,76.9 31.4,76.8 34.0,76.8 36.6,76.8 39.2,76.8 41.7,76.9 44.3,77.0 46.9,77.1 49.4,77.3 52.0,77.4 54.6,77.4 57.1,77.3 59.7,77.1 62.3,76.6 64.9,76.0 67.4,75.3 70.0,74.5 72.6,73.6 75.1,72.8 77.7,72.0 80.3,71.2 82.8,70.6 85.4,69.9" stroke="#2297E6"/><path d="M23.7,75.2 25.1,75.1 26.4,75.2 27.8,75.6 29.1,76.2 30.5,76.8 31.8,77.4 33.1,77.8 34.5,77.9 35.8,77.5 37.2,76.9 38.5,75.9 39.9,74.7 41.2,73.5 42.6,72.4 43.9,71.5 45.2,70.9 46.6,70.6 47.9,70.6 49.3,70.7 50.6,70.9 52.0,71.0 53.3,70.9 54.7,70.6 56.0,69.9" stroke="#2297E6"/><path d="M23.7,62.2 25.5,63.1 27.3,64.2 29.1,65.3 30.9,66.3 32.7,67.1 34.5,67.7 36.2,67.9 38.0,67.9 39.8,67.6 41.6,67.0 43.4,66.3 45.2,65.5 47.0,64.7 48.7,63.9 50.5,63.4 52.3,63.0 54.1,63.0 55.9,63.3 57.7,64.0 59.5,64.9 61.3,66.1 63.0,67.4 64.8,68.7 66.6,69.9" stroke="#000000"/><path d="M23.7,61.3 24.3,61.2 24.8,61.1 25.3,60.9 25.9,60.7 26.4,60.5 26.9,60.4 27.4,60.3 28.0,60.4 28.5,60.6 29.0,60.9 29.5,61.4 30.1,62.0 30.6,62.7 31.1,63.4 31.7,64.0 32.2,64.7 32.7,65.3 33.2,65.9 33.8,66.5 34.3,67.2 34.8,67.9 35.4,68.6 35.9,69.2 36.4,69.9" stroke="#2297E6"/><path d="M23.7,67.5 24.1,67.5 24.6,67.2 25.0,66.8 25.4,66.2 25.8,65.6 26.2,65.0 26.6,64.5 27.0,64.2 27.4,64.2 27.8,64.5 28.3,65.0 28.7,65.7 29.1,66.6 29.5,67.6 29.9,68.6 30.3,69.5 30.7,70.3 31.1,70.8 31.5,71.0 31.9,71.1 32.4,70.9 32.8,70.6 33.2,70.2 33.6,69.9" stroke="#2297E6"/><path d="M23.7,78.2 25.1,78.1 26.5,77.6 27.8,76.9 29.2,76.0 30.5,75.1 31.9,74.4 33.2,74.0 34.6,74.0 35.9,74.3 37.3,74.7 38.7,75.0 40.0,75.0 41.4,74.7 42.7,74.1 44.1,73.3 45.4,72.5 46.8,71.8 48.1,71.4 49.5,71.2 50.9,71.2 52.2,71.2 53.6,71.0 54.9,70.6 56.3,69.9" stroke="#000000"/><path d="M23.7,68.2 25.8,67.8 27.9,67.5 30.0,67.5 32.1,67.8 34.2,68.5 36.3,69.3 38.3,70.1 40.4,70.6 42.5,70.6 44.6,70.2 46.7,69.3 48.8,68.1 50.8,67.0 52.9,66.2 55.0,65.9 57.1,66.1 59.2,66.8 61.3,67.8 63.4,68.8 65.4,69.6 67.5,70.1 69.6,70.2 71.7,70.1 73.8,69.9" stroke="#28E2E5"/><path d="M23.7,73.7 26.3,73.9 28.8,74.1 31.3,74.3 33.8,74.3 36.3,74.2 38.8,73.8 41.4,73.3 43.9,72.6 46.4,72.0 48.9,71.5 51.4,71.1 53.9,71.0 56.5,71.2 59.0,71.5 61.5,71.8 64.0,72.2 66.5,72.4 69.0,72.4 71.6,72.2 74.1,71.8 76.6,71.3 79.1,70.8 81.6,70.3 84.2,69.9" stroke="#2297E6"/><path d="M23.7,61.3 24.9,61.5 26.0,61.6 27.1,61.5 28.3,61.2 29.4,60.8 30.5,60.4 31.7,60.2 32.8,60.2 33.9,60.5 35.1,61.1 36.2,62.1 37.3,63.4 38.5,64.9 39.6,66.3 40.7,67.7 41.9,68.7 43.0,69.4 44.2,69.7 45.3,69.7 46.4,69.6 47.6,69.4 48.7,69.3 49.8,69.5 51.0,69.9" stroke="#DF536B"/><path d="M23.7,84.2 25.1,84.1 26.5,84.0 28.0,83.9 29.4,84.0 30.8,84.1 32.2,84.3 33.6,84.5 35.0,84.7 36.4,84.7 37.8,84.5 39.2,84.0 40.6,83.2 42.0,82.2 43.4,81.0 44.8,79.7 46.2,78.4 47.6,77.1 49.0,75.9 50.4,74.8 51.8,73.8 53.2,72.8 54.7,71.9 56.1,70.9 57.5,69.9" stroke="#000000"/><path d="M23.7,70.0 25.5,70.3 27.3,70.8 29.0,71.1 30.8,71.0 32.6,70.4 34.3,69.4 36.1,68.3 37.9,67.5 39.6,67.4 41.4,68.0 43.2,69.3 44.9,70.8 46.7,72.0 48.5,72.7 50.2,72.6 52.0,71.8 53.8,70.7 55.5,69.5 57.3,68.8 59.1,68.6 60.9,68.8 62.6,69.3 64.4,69.8 66.2,69.9" stroke="#61D04F"/><path d="M23.7,69.2 23.9,69.7 24.1,69.8 24.3,69.4 24.5,68.6 24.6,67.4 24.8,66.3 25.0,65.5 25.2,65.3 25.3,65.8 25.5,67.1 25.7,68.8 25.9,70.6 26.1,72.4 26.2,73.5 26.4,74.0 26.6,73.8 26.8,72.9 26.9,71.6 27.1,70.4 27.3,69.4 27.5,68.8 27.7,68.8 27.8,69.3 28.0,69.9" stroke="#28E2E5"/><path d="M23.7,48.1 25.0,48.4 26.3,49.1 27.5,50.2 28.8,51.8 30.1,53.6 31.4,55.5 32.6,57.2 33.9,58.5 35.2,59.2 36.4,59.3 37.7,58.9 39.0,58.1 40.3,57.2 41.5,56.5 42.8,56.2 44.1,56.4 45.3,57.2 46.6,58.4 47.9,60.1 49.2,62.1 50.4,64.1 51.7,66.2 53.0,68.1 54.2,69.9" stroke="#000000"/><path d="M23.7,57.3 25.9,57.5 28.1,57.5 30.3,57.6 32.5,57.6 34.7,57.6 36.9,57.8 39.1,58.1 41.3,58.6 43.5,59.3 45.7,60.2 47.9,61.3 50.1,62.3 52.3,63.2 54.5,64.0 56.7,64.6 58.9,65.0 61.1,65.3 63.3,65.5 65.5,65.8 67.7,66.3 69.9,66.9 72.1,67.7 74.3,68.7 76.5,69.9" stroke="#2297E6"/><path d="M23.7,69.6 24.2,69.6 24.6,69.6 25.0,69.5 25.5,69.5 25.9,69.5 26.3,69.5 26.8,69.5 27.2,69.5 27.6,69.6 28.1,69.6 28.5,69.7 28.9,69.8 29.4,69.9 29.8,70.0 30.2,70.0 30.7,70.0 31.1,70.0 31.5,70.0 31.9,69.9 32.4,69.9 32.8,69.9 33.2,69.8 33.7,69.9 34.1,69.9" stroke="#28E2E5"/><path d="M23.7,65.9 24.5,66.0 25.3,66.3 26.0,66.7 26.8,67.1 27.6,67.5 28.3,67.8 29.1,68.0 29.8,68.1 30.6,68.1 31.4,67.9 32.1,67.6 32.9,67.2 33.7,66.7 34.4,66.4 35.2,66.1 36.0,66.0 36.7,66.0 37.5,66.3 38.2,66.8 39.0,67.4 39.8,68.0 40.5,68.7 41.3,69.4 42.1,69.9" stroke="#CD0BBC"/><path d="M23.7,59.5 25.9,59.7 28.1,59.9 30.3,60.1 32.5,60.3 34.7,60.5 36.9,60.6 39.1,60.6 41.2,60.5 43.4,60.4 45.6,60.3 47.8,60.2 50.0,60.3 52.2,60.6 54.4,61.0 56.6,61.7 58.8,62.5 60.9,63.4 63.1,64.4 65.3,65.4 67.5,66.4 69.7,67.3 71.9,68.2 74.1,69.1 76.3,69.9" stroke="#28E2E5"/><path d="M23.7,70.0 24.9,69.8 26.0,69.5 27.2,69.3 28.4,69.3 29.5,69.5 30.7,69.9 31.8,70.5 33.0,71.1 34.1,71.5 35.3,71.6 36.5,71.4 37.6,70.9 38.8,70.2 39.9,69.5 41.1,68.9 42.2,68.6 43.4,68.5 44.5,68.8 45.7,69.2 46.9,69.7 48.0,70.0 49.2,70.2 50.3,70.1 51.5,69.9" stroke="#000000"/><path d="M23.7,54.2 23.7,54.6 23.8,55.1 23.8,55.6 23.8,56.4 23.8,57.5 23.8,58.7 23.8,59.9 23.8,60.9 23.8,61.6 23.8,62.0 23.8,62.0 23.8,61.9 23.8,61.8 23.9,61.9 23.9,62.3 23.9,63.1 23.9,64.3 23.9,65.5 23.9,66.7 23.9,67.8 23.9,68.5 23.9,69.1 23.9,69.5 23.9,69.9" stroke="#000000"/><path d="M23.7,68.7 25.2,69.1 26.8,69.5 28.3,69.8 29.8,69.9 31.3,69.9 32.8,69.7 34.3,69.3 35.8,68.8 37.3,68.2 38.8,67.6 40.3,67.1 41.9,66.7 43.4,66.4 44.9,66.4 46.4,66.6 47.9,67.0 49.4,67.5 50.9,68.1 52.4,68.7 53.9,69.3 55.4,69.7 57.0,69.9 58.5,70.0 60.0,69.9" stroke="#2297E6"/><path d="M23.7,47.4 25.9,47.7 28.0,48.0 30.1,48.3 32.2,48.3 34.4,48.1 36.5,47.7 38.6,47.3 40.7,47.0 42.9,46.9 45.0,47.4 47.1,48.2 49.3,49.4 51.4,50.8 53.5,52.1 55.6,53.3 57.8,54.2 59.9,55.0 62.0,55.9 64.1,57.0 66.3,58.6 68.4,60.8 70.5,63.5 72.6,66.6 74.8,69.9" stroke="#28E2E5"/><path d="M23.7,67.0 26.2,66.9 28.7,66.8 31.2,66.8 33.7,67.0 36.3,67.2 38.8,67.5 41.3,67.8 43.8,68.0 46.3,68.2 48.8,68.3 51.3,68.3 53.8,68.1 56.3,67.9 58.8,67.7 61.3,67.5 63.8,67.4 66.3,67.5 68.8,67.6 71.3,67.9 73.8,68.3 76.3,68.7 78.8,69.2 81.3,69.6 83.8,69.9" stroke="#DF536B"/><path d="M23.7,56.9 23.9,57.4 24.0,58.5 24.2,59.8 24.3,60.8 24.5,60.9 24.6,59.8 24.8,57.6 24.9,54.6 25.1,51.4 25.2,48.9 25.4,47.8 25.5,48.3 25.7,50.7 25.8,54.5 26.0,59.1 26.1,63.7 26.3,67.5 26.4,70.1 26.6,71.4 26.7,71.4 26.9,70.7 27.0,69.9 27.1,69.5 27.3,69.9" stroke="#28E2E5"/><path d="M23.7,81.3 26.4,81.1 29.1,81.1 31.8,81.2 34.4,81.6 37.1,82.3 39.8,83.2 42.4,84.2 45.1,85.1 47.8,85.8 50.5,86.0 53.1,85.7 55.8,84.9 58.5,83.6 61.2,82.1 63.8,80.5 66.5,79.0 69.2,77.6 71.8,76.4 74.5,75.4 77.2,74.5 79.9,73.5 82.5,72.5 85.2,71.2 87.9,69.9" stroke="#CD0BBC"/><path d="M23.7,70.1 24.3,70.2 24.9,70.3 25.4,70.3 26.0,70.3 26.6,70.1 27.1,69.9 27.7,69.7 28.3,69.5 28.8,69.4 29.4,69.5 30.0,69.6 30.5,69.9 31.1,70.2 31.7,70.5 32.2,70.7 32.8,70.7 33.4,70.6 33.9,70.4 34.5,70.2 35.1,70.0 35.6,69.8 36.2,69.8 36.8,69.8 37.3,69.9" stroke="#2297E6"/><path d="M23.7,73.6 25.0,73.8 26.2,73.6 27.4,73.1 28.6,72.3 29.8,71.4 31.1,70.6 32.3,70.0 33.5,69.8 34.7,70.0 35.9,70.6 37.2,71.4 38.4,72.5 39.6,73.4 40.8,74.1 42.0,74.5 43.3,74.4 44.5,74.0 45.7,73.2 46.9,72.2 48.1,71.3 49.3,70.5 50.6,70.0 51.8,69.8 53.0,69.9" stroke="#28E2E5"/><path d="M23.7,64.2 26.2,64.4 28.7,64.7 31.1,64.9 33.6,64.9 36.1,64.9 38.5,64.7 41.0,64.4 43.5,64.0 45.9,63.7 48.4,63.4 50.9,63.3 53.3,63.5 55.8,63.8 58.3,64.4 60.7,65.1 63.2,65.9 65.7,66.7 68.1,67.5 70.6,68.1 73.1,68.7 75.5,69.1 78.0,69.4 80.4,69.6 82.9,69.9" stroke="#000000"/><path d="M23.7,83.7 26.5,83.4 29.2,83.1 31.9,82.9 34.7,82.7 37.4,82.6 40.2,82.6 42.9,82.8 45.6,82.9 48.4,82.9 51.1,82.8 53.8,82.5 56.6,81.9 59.3,81.1 62.1,80.1 64.8,79.0 67.5,77.8 70.3,76.7 73.0,75.6 75.7,74.7 78.5,73.7 81.2,72.9 83.9,72.0 86.7,71.0 89.4,69.9" stroke="#000000"/><path d="M23.7,67.5 25.8,68.1 27.9,68.6 30.0,68.9 32.1,68.9 34.2,68.4 36.3,67.7 38.4,66.6 40.5,65.6 42.6,64.7 44.7,64.1 46.8,64.0 48.9,64.5 50.9,65.4 53.0,66.6 55.1,68.0 57.2,69.4 59.3,70.5 61.4,71.3 63.5,71.6 65.6,71.5 67.7,71.1 69.8,70.6 71.9,70.1 74.0,69.9" stroke="#DF536B"/><path d="M23.7,57.0 25.9,56.9 28.1,56.5 30.3,56.0 32.5,55.7 34.7,55.6 36.9,55.9 39.0,56.4 41.2,56.9 43.4,57.3 45.6,57.4 47.8,57.1 50.0,56.4 52.1,55.7 54.3,55.2 56.5,55.1 58.7,55.6 60.9,56.7 63.1,58.5 65.3,60.6 67.4,62.8 69.6,64.9 71.8,66.7 74.0,68.4 76.2,69.9" stroke="#000000"/><path d="M23.7,68.5 26.3,68.6 28.8,68.6 31.4,68.6 33.9,68.5 36.5,68.4 39.0,68.2 41.6,68.0 44.1,67.8 46.7,67.6 49.2,67.4 51.7,67.3 54.3,67.3 56.8,67.4 59.4,67.6 61.9,67.9 64.5,68.1 67.0,68.5 69.6,68.8 72.1,69.1 74.7,69.3 77.2,69.5 79.7,69.7 82.3,69.8 84.8,69.9" stroke="#61D04F"/><path d="M23.7,65.1 23.8,65.8 23.9,66.3 24.0,66.5 24.1,66.3 24.2,65.7 24.3,64.9 24.4,64.3 24.5,64.0 24.6,64.4 24.7,65.4 24.7,66.9 24.8,68.6 24.9,70.2 25.0,71.2 25.1,71.5 25.2,71.2 25.3,70.3 25.4,69.4 25.5,68.5 25.6,68.1 25.7,68.2 25.7,68.6 25.8,69.3 25.9,69.9" stroke="#000000"/><path d="M23.7,67.0 26.0,67.2 28.3,67.4 30.6,67.4 32.9,67.4 35.2,67.2 37.5,66.8 39.8,66.4 42.1,66.0 44.4,65.5 46.7,65.1 49.0,64.8 51.2,64.7 53.5,64.8 55.8,65.0 58.1,65.5 60.4,66.1 62.7,66.9 65.0,67.6 67.3,68.3 69.6,68.9 71.9,69.3 74.2,69.6 76.5,69.8 78.7,69.9" stroke="#000000"/><path d="M23.7,50.5 25.8,50.1 27.8,50.3 29.8,51.1 31.8,52.4 33.9,54.1 35.9,56.1 37.9,58.0 39.9,59.6 42.0,60.9 44.0,61.6 46.0,61.7 48.0,61.2 50.1,60.2 52.1,59.0 54.1,57.7 56.1,56.6 58.2,55.8 60.2,55.8 62.2,56.4 64.2,58.0 66.3,60.3 68.3,63.2 70.3,66.5 72.3,69.9" stroke="#28E2E5"/><path d="M23.7,71.4 26.0,71.3 28.3,71.0 30.5,70.9 32.8,70.9 35.1,71.1 37.4,71.5 39.6,71.9 41.9,72.2 44.2,72.4 46.4,72.4 48.7,72.2 51.0,71.7 53.2,71.1 55.5,70.5 57.8,69.9 60.1,69.6 62.3,69.5 64.6,69.6 66.9,69.9 69.1,70.1 71.4,70.3 73.7,70.3 75.9,70.2 78.2,69.9" stroke="#2297E6"/><path d="M23.7,58.8 26.5,58.7 29.3,58.6 32.1,58.6 34.9,58.6 37.6,58.8 40.4,59.0 43.2,59.2 46.0,59.5 48.8,59.9 51.5,60.1 54.3,60.4 57.1,60.5 59.9,60.7 62.7,60.8 65.4,61.0 68.2,61.2 71.0,61.7 73.8,62.3 76.6,63.2 79.4,64.3 82.1,65.5 84.9,66.9 87.7,68.4 90.5,69.9" stroke="#61D04F"/><path d="M23.7,73.4 26.0,73.4 28.2,73.1 30.5,72.7 32.8,72.1 35.0,71.6 37.3,71.2 39.5,71.0 41.8,71.2 44.0,71.6 46.3,72.2 48.5,72.9 50.8,73.6 53.0,74.2 55.3,74.6 57.6,74.7 59.8,74.4 62.1,73.8 64.3,73.0 66.6,72.2 68.8,71.4 71.1,70.7 73.3,70.2 75.6,70.0 77.8,69.9" stroke="#2297E6"/><path d="M23.7,66.7 24.8,66.8 25.8,66.9 26.9,66.8 27.9,66.6 29.0,66.4 30.0,66.2 31.1,66.0 32.1,66.1 33.2,66.3 34.2,66.6 35.2,67.0 36.3,67.4 37.3,67.7 38.4,67.8 39.4,67.8 40.5,67.7 41.5,67.5 42.6,67.5 43.6,67.6 44.7,67.9 45.7,68.3 46.8,68.8 47.8,69.4 48.8,69.9" stroke="#CD0BBC"/><path d="M23.7,71.1 24.1,71.0 24.4,70.8 24.8,70.6 25.1,70.5 25.5,70.5 25.8,70.6 26.2,70.9 26.5,71.1 26.9,71.2 27.2,71.2 27.6,71.1 27.9,70.8 28.3,70.4 28.6,70.0 29.0,69.8 29.3,69.7 29.7,69.8 30.0,69.9 30.4,70.1 30.7,70.3 31.1,70.3 31.4,70.2 31.8,70.1 32.1,69.9" stroke="#000000"/><path d="M23.7,85.8 26.2,85.7 28.6,84.9 31.0,83.8 33.4,82.5 35.8,81.5 38.2,81.0 40.6,81.3 43.0,82.3 45.5,83.7 47.9,85.1 50.3,86.1 52.7,86.2 55.1,85.4 57.5,83.6 59.9,81.2 62.4,78.6 64.8,76.3 67.2,74.4 69.6,73.2 72.0,72.6 74.4,72.3 76.8,72.0 79.3,71.2 81.7,69.9" stroke="#28E2E5"/><path d="M23.7,64.9 25.9,65.0 28.0,64.6 30.2,63.9 32.3,63.0 34.5,62.2 36.7,61.6 38.8,61.4 41.0,61.8 43.1,62.7 45.3,64.0 47.4,65.4 49.6,66.8 51.7,67.9 53.9,68.4 56.0,68.5 58.2,68.0 60.3,67.3 62.5,66.6 64.6,66.0 66.8,65.9 68.9,66.3 71.1,67.2 73.2,68.5 75.4,69.9" stroke="#61D04F"/><path d="M23.7,77.9 24.4,77.5 25.0,77.0 25.6,76.5 26.2,75.9 26.8,75.4 27.5,75.0 28.1,74.7 28.7,74.5 29.3,74.6 30.0,74.7 30.6,75.0 31.2,75.3 31.8,75.5 32.4,75.7 33.1,75.6 33.7,75.4 34.3,74.9 34.9,74.2 35.6,73.4 36.2,72.6 36.8,71.7 37.4,71.0 38.0,70.4 38.7,69.9" stroke="#28E2E5"/><path d="M23.7,55.7 23.9,56.3 24.1,56.9 24.3,57.4 24.5,57.9 24.6,58.4 24.8,58.8 25.0,59.3 25.2,59.8 25.4,60.4 25.5,61.0 25.7,61.6 25.9,62.2 26.1,62.9 26.3,63.6 26.4,64.2 26.6,64.9 26.8,65.5 27.0,66.1 27.2,66.7 27.3,67.3 27.5,67.9 27.7,68.6 27.9,69.2 28.1,69.9" stroke="#28E2E5"/><path d="M23.7,77.6 26.7,77.5 29.6,77.4 32.5,77.2 35.5,77.1 38.4,77.1 41.3,77.1 44.3,77.2 47.2,77.2 50.1,77.1 53.0,76.8 56.0,76.3 58.9,75.6 61.8,74.9 64.8,74.2 67.7,73.6 70.6,73.2 73.6,72.9 76.5,72.7 79.4,72.5 82.4,72.3 85.3,71.9 88.2,71.4 91.2,70.7 94.1,69.9" stroke="#000000"/><path d="M23.7,53.0 25.9,52.6 28.0,52.3 30.1,52.2 32.3,52.3 34.4,52.6 36.6,53.0 38.7,53.7 40.8,54.5 43.0,55.4 45.1,56.3 47.2,57.2 49.4,58.0 51.5,58.8 53.6,59.5 55.8,60.1 57.9,60.7 60.1,61.3 62.2,62.0 64.3,62.8 66.5,63.8 68.6,65.0 70.7,66.4 72.9,68.0 75.0,69.9" stroke="#000000"/><path d="M23.7,68.0 25.7,68.2 27.7,68.3 29.7,68.3 31.6,68.2 33.6,68.0 35.6,67.7 37.5,67.4 39.5,67.1 41.5,66.9 43.5,66.7 45.4,66.7 47.4,66.7 49.4,66.9 51.4,67.1 53.3,67.5 55.3,67.9 57.3,68.3 59.2,68.8 61.2,69.1 63.2,69.5 65.2,69.7 67.1,69.9 69.1,69.9 71.1,69.9" stroke="#61D04F"/><path d="M23.7,87.0 26.0,86.6 28.2,86.1 30.4,85.5 32.6,85.0 34.8,84.6 37.0,84.3 39.2,84.2 41.4,84.3 43.7,84.5 45.9,84.8 48.1,85.1 50.3,85.4 52.5,85.5 54.7,85.3 56.9,84.8 59.2,84.0 61.4,82.8 63.6,81.3 65.8,79.5 68.0,77.6 70.2,75.6 72.4,73.6 74.6,71.6 76.9,69.9" stroke="#2297E6"/><path d="M23.7,75.9 23.8,75.6 23.8,75.2 23.9,74.9 23.9,74.5 24.0,74.3 24.0,74.3 24.1,74.3 24.1,74.4 24.2,74.3 24.2,74.2 24.3,73.8 24.3,73.3 24.4,72.6 24.4,72.0 24.5,71.6 24.5,71.2 24.6,71.1 24.6,71.1 24.7,71.1 24.7,71.0 24.8,70.9 24.8,70.6 24.9,70.3 24.9,69.9" stroke="#000000"/><path d="M23.7,78.6 25.1,78.5 26.6,78.4 28.0,78.2 29.4,78.0 30.8,77.8 32.2,77.7 33.6,77.6 35.0,77.6 36.4,77.6 37.8,77.6 39.2,77.6 40.7,77.6 42.1,77.4 43.5,77.2 44.9,76.7 46.3,76.2 47.7,75.5 49.1,74.7 50.5,73.9 51.9,73.0 53.3,72.2 54.7,71.4 56.2,70.7 57.6,69.9" stroke="#000000"/><path d="M23.7,63.4 25.2,63.5 26.6,63.8 28.0,64.1 29.5,64.3 30.9,64.6 32.4,64.8 33.8,64.9 35.2,64.9 36.7,64.8 38.1,64.7 39.5,64.5 41.0,64.4 42.4,64.3 43.9,64.4 45.3,64.6 46.7,64.9 48.2,65.3 49.6,65.9 51.0,66.6 52.5,67.3 53.9,68.0 55.3,68.7 56.8,69.4 58.2,69.9" stroke="#28E2E5"/><path d="M23.7,54.1 25.6,53.5 27.4,53.2 29.3,53.5 31.1,54.4 33.0,55.9 34.8,57.8 36.6,59.8 38.5,61.9 40.3,63.6 42.2,64.7 44.0,65.3 45.9,65.1 47.7,64.4 49.6,63.2 51.4,62.0 53.2,60.9 55.1,60.2 56.9,60.1 58.8,60.7 60.6,61.9 62.5,63.7 64.3,65.8 66.2,67.9 68.0,69.9" stroke="#28E2E5"/><path d="M23.7,87.2 25.2,87.5 26.7,88.2 28.2,89.0 29.6,89.5 31.1,89.6 32.6,89.2 34.1,88.4 35.5,87.3 37.0,86.4 38.5,85.9 40.0,85.7 41.4,85.8 42.9,85.8 44.4,85.5 45.9,84.6 47.3,83.0 48.8,80.9 50.3,78.6 51.8,76.4 53.3,74.5 54.7,73.0 56.2,71.9 57.7,71.0 59.2,69.9" stroke="#000000"/><path d="M23.7,51.1 25.7,51.4 27.7,51.8 29.7,52.3 31.7,52.9 33.7,53.6 35.7,54.3 37.7,55.0 39.7,55.7 41.6,56.3 43.6,56.7 45.6,57.2 47.6,57.5 49.6,57.9 51.6,58.3 53.6,58.8 55.6,59.5 57.6,60.3 59.5,61.4 61.5,62.6 63.5,63.9 65.5,65.4 67.5,66.9 69.5,68.4 71.5,69.9" stroke="#DF536B"/><path d="M23.7,68.9 25.1,69.2 26.4,69.4 27.8,69.3 29.2,68.9 30.5,68.2 31.9,67.5 33.2,67.0 34.6,67.0 35.9,67.5 37.3,68.5 38.6,69.7 40.0,70.7 41.3,71.4 42.7,71.5 44.0,71.0 45.4,70.1 46.7,69.2 48.1,68.5 49.5,68.2 50.8,68.3 52.2,68.8 53.5,69.3 54.9,69.7 56.2,69.9" stroke="#28E2E5"/><path d="M23.7,72.9 26.4,72.8 29.0,72.9 31.6,73.2 34.3,73.5 36.9,73.9 39.5,74.2 42.2,74.3 44.8,74.2 47.4,73.8 50.1,73.2 52.7,72.6 55.3,71.9 57.9,71.3 60.6,71.0 63.2,70.8 65.8,70.9 68.5,71.1 71.1,71.3 73.7,71.5 76.4,71.5 79.0,71.3 81.6,70.9 84.3,70.4 86.9,69.9" stroke="#CD0BBC"/><path d="M23.7,52.4 26.6,52.5 29.5,52.6 32.4,52.6 35.3,52.7 38.1,52.8 41.0,53.0 43.9,53.4 46.8,54.0 49.7,55.0 52.5,56.2 55.4,57.7 58.3,59.2 61.2,60.9 64.1,62.3 67.0,63.6 69.8,64.6 72.7,65.2 75.6,65.7 78.5,66.0 81.4,66.4 84.2,66.9 87.1,67.7 90.0,68.7 92.9,69.9" stroke="#CD0BBC"/><path d="M23.7,57.4 26.4,57.3 29.0,57.2 31.6,57.2 34.2,57.4 36.9,57.7 39.5,58.1 42.1,58.4 44.7,58.7 47.3,58.7 50.0,58.6 52.6,58.2 55.2,57.8 57.8,57.3 60.5,57.0 63.1,57.0 65.7,57.5 68.3,58.4 71.0,59.7 73.6,61.4 76.2,63.2 78.8,65.1 81.5,66.8 84.1,68.4 86.7,69.9" stroke="#61D04F"/><path d="M23.7,63.2 24.9,63.2 26.0,63.0 27.2,62.9 28.3,62.8 29.5,62.9 30.6,63.3 31.8,63.8 32.9,64.6 34.0,65.3 35.2,66.1 36.3,66.7 37.5,67.1 38.6,67.3 39.8,67.3 40.9,67.1 42.1,66.9 43.2,66.7 44.4,66.7 45.5,66.9 46.6,67.4 47.8,68.0 48.9,68.6 50.1,69.3 51.2,69.9" stroke="#DF536B"/><path d="M23.7,74.8 24.5,74.5 25.2,74.2 25.9,73.9 26.6,73.7 27.3,73.6 28.0,73.5 28.7,73.6 29.5,73.7 30.2,73.9 30.9,74.0 31.6,74.2 32.3,74.3 33.0,74.3 33.8,74.2 34.5,74.0 35.2,73.7 35.9,73.3 36.6,72.9 37.3,72.3 38.0,71.8 38.8,71.2 39.5,70.7 40.2,70.3 40.9,69.9" stroke="#28E2E5"/><path d="M23.7,79.3 24.4,79.1 25.1,79.1 25.8,79.1 26.6,79.2 27.3,79.1 28.0,78.8 28.7,78.3 29.4,77.6 30.1,76.8 30.8,76.0 31.5,75.3 32.2,74.8 32.9,74.6 33.6,74.5 34.3,74.5 35.0,74.5 35.7,74.4 36.4,74.0 37.1,73.4 37.8,72.7 38.5,71.9 39.2,71.1 39.9,70.4 40.6,69.9" stroke="#000000"/><path d="M23.7,72.2 25.9,72.6 28.0,73.1 30.2,73.5 32.3,73.9 34.4,74.0 36.6,73.8 38.7,73.4 40.9,72.8 43.0,72.0 45.2,71.0 47.3,70.1 49.4,69.2 51.6,68.6 53.7,68.2 55.9,68.1 58.0,68.2 60.1,68.6 62.3,69.0 64.4,69.6 66.6,70.0 68.7,70.3 70.9,70.4 73.0,70.3 75.1,69.9" stroke="#000000"/><path d="M23.7,66.0 23.8,66.4 23.9,66.9 24.0,67.2 24.1,67.2 24.2,66.9 24.3,66.3 24.4,65.8 24.5,65.6 24.6,65.8 24.7,66.6 24.8,67.8 24.9,69.0 25.0,70.0 25.1,70.5 25.2,70.5 25.3,70.0 25.4,69.2 25.5,68.6 25.6,68.2 25.7,68.2 25.8,68.6 25.9,69.1 26.0,69.6 26.1,69.9" stroke="#2297E6"/><path d="M23.7,67.8 26.3,68.4 29.0,69.1 31.6,69.5 34.2,69.7 36.8,69.4 39.4,68.6 42.0,67.5 44.6,66.2 47.2,65.0 49.8,64.1 52.4,63.7 55.0,63.9 57.6,64.7 60.2,66.0 62.8,67.5 65.4,69.0 68.0,70.3 70.6,71.2 73.3,71.6 75.9,71.5 78.5,71.1 81.1,70.6 83.7,70.1 86.3,69.9" stroke="#61D04F"/><path d="M23.7,57.5 25.8,57.2 27.8,56.7 29.9,56.1 31.9,55.7 33.9,55.7 36.0,56.2 38.0,57.2 40.1,58.2 42.1,59.1 44.1,59.5 46.2,59.3 48.2,58.6 50.2,57.6 52.3,56.8 54.3,56.5 56.4,56.9 58.4,58.1 60.4,60.0 62.5,62.1 64.5,64.3 66.6,66.1 68.6,67.6 70.6,68.8 72.7,69.9" stroke="#000000"/><path d="M23.7,80.6 26.4,80.9 29.0,81.0 31.7,80.9 34.3,80.7 37.0,80.2 39.6,79.6 42.3,79.1 44.9,78.8 47.6,78.8 50.2,79.1 52.9,79.7 55.5,80.3 58.2,80.8 60.8,81.1 63.4,81.0 66.1,80.4 68.7,79.4 71.4,78.0 74.0,76.5 76.7,75.0 79.3,73.6 82.0,72.3 84.6,71.1 87.3,69.9" stroke="#000000"/><path d="M23.7,66.4 25.4,66.5 27.0,66.5 28.6,66.5 30.2,66.5 31.8,66.5 33.5,66.5 35.1,66.4 36.7,66.3 38.3,66.2 39.9,66.1 41.6,66.0 43.2,65.9 44.8,65.8 46.4,65.9 48.0,66.0 49.7,66.2 51.3,66.5 52.9,66.9 54.5,67.4 56.2,67.9 57.8,68.4 59.4,69.0 61.0,69.4 62.6,69.9" stroke="#2297E6"/><path d="M23.7,73.9 26.1,73.9 28.4,74.0 30.8,74.2 33.1,74.4 35.5,74.6 37.8,74.7 40.2,74.8 42.5,74.7 44.9,74.6 47.2,74.3 49.6,74.0 51.9,73.7 54.3,73.4 56.6,73.1 59.0,72.9 61.3,72.8 63.6,72.6 66.0,72.5 68.3,72.2 70.7,71.9 73.0,71.5 75.4,71.0 77.7,70.4 80.1,69.9" stroke="#CD0BBC"/><path d="M23.7,66.9 25.5,67.1 27.2,67.1 29.0,66.7 30.7,66.2 32.5,65.8 34.2,65.7 36.0,66.0 37.7,66.7 39.4,67.9 41.2,69.2 42.9,70.4 44.7,71.1 46.4,71.3 48.2,71.0 49.9,70.2 51.7,69.3 53.4,68.5 55.2,68.0 56.9,68.0 58.6,68.3 60.4,68.8 62.1,69.4 63.9,69.8 65.6,69.9" stroke="#000000"/><path d="M23.7,87.4 25.9,87.1 28.0,86.9 30.1,87.1 32.3,87.5 34.4,88.1 36.5,88.8 38.6,89.4 40.8,89.9 42.9,90.1 45.0,89.9 47.2,89.2 49.3,88.1 51.4,86.6 53.5,84.8 55.7,82.9 57.8,80.9 59.9,79.0 62.1,77.3 64.2,75.8 66.3,74.6 68.4,73.5 70.6,72.4 72.7,71.2 74.8,69.9" stroke="#28E2E5"/><path d="M23.7,50.6 25.7,51.3 27.6,52.0 29.6,52.6 31.5,52.8 33.4,52.7 35.4,52.0 37.3,51.0 39.2,49.7 41.2,48.5 43.1,47.6 45.1,47.1 47.0,47.4 48.9,48.5 50.9,50.2 52.8,52.5 54.8,55.2 56.7,58.0 58.6,60.6 60.6,62.9 62.5,64.8 64.4,66.4 66.4,67.6 68.3,68.7 70.3,69.9" stroke="#28E2E5"/><path d="M23.7,70.9 25.3,70.8 26.9,70.8 28.5,70.8 30.0,70.8 31.6,70.9 33.2,71.0 34.8,71.0 36.3,71.1 37.9,71.0 39.5,71.0 41.1,70.9 42.7,70.7 44.2,70.5 45.8,70.4 47.4,70.3 49.0,70.3 50.5,70.3 52.1,70.3 53.7,70.3 55.3,70.3 56.8,70.2 58.4,70.1 60.0,70.0 61.6,69.9" stroke="#2297E6"/><path d="M23.7,59.1 26.2,59.3 28.7,59.6 31.1,59.9 33.6,60.4 36.0,61.1 38.5,61.8 41.0,62.6 43.4,63.4 45.9,64.1 48.4,64.6 50.8,65.0 53.3,65.2 55.7,65.3 58.2,65.4 60.7,65.5 63.1,65.6 65.6,65.8 68.0,66.1 70.5,66.5 73.0,67.0 75.4,67.6 77.9,68.3 80.3,69.1 82.8,69.9" stroke="#000000"/><path d="M23.7,76.2 26.4,76.5 29.0,76.1 31.7,75.0 34.3,73.9 36.9,73.2 39.6,73.4 42.2,74.7 44.9,76.8 47.5,79.2 50.1,80.9 52.8,81.4 55.4,80.5 58.1,78.2 60.7,75.4 63.3,72.7 66.0,70.8 68.6,70.2 71.2,70.7 73.9,71.7 76.5,72.7 79.2,73.0 81.8,72.5 84.4,71.3 87.1,69.9" stroke="#000000"/><path d="M23.7,53.7 26.0,53.8 28.3,53.9 30.7,54.0 33.0,54.3 35.3,54.7 37.6,55.2 39.9,56.0 42.2,56.9 44.5,58.0 46.8,59.2 49.1,60.5 51.4,61.7 53.7,62.8 56.0,63.7 58.3,64.5 60.6,65.1 62.9,65.5 65.2,65.9 67.5,66.3 69.8,66.7 72.1,67.3 74.5,68.1 76.8,68.9 79.1,69.9" stroke="#DF536B"/><path d="M23.7,48.8 25.5,49.1 27.2,49.4 29.0,49.9 30.8,50.3 32.5,50.8 34.3,51.2 36.0,51.5 37.8,51.8 39.5,52.0 41.3,52.3 43.1,52.7 44.8,53.3 46.6,54.1 48.3,55.1 50.1,56.3 51.8,57.7 53.6,59.2 55.3,60.8 57.1,62.3 58.9,63.9 60.6,65.4 62.4,66.9 64.1,68.4 65.9,69.9" stroke="#000000"/><path d="M23.7,61.5 25.4,61.5 27.0,61.6 28.7,61.6 30.4,61.7 32.0,61.8 33.7,62.0 35.3,62.4 37.0,62.8 38.6,63.2 40.3,63.7 41.9,64.1 43.6,64.6 45.2,65.0 46.9,65.5 48.6,65.9 50.2,66.4 51.9,66.8 53.5,67.3 55.2,67.7 56.8,68.2 58.5,68.6 60.1,69.0 61.8,69.4 63.4,69.9" stroke="#000000"/><path d="M23.7,62.8 24.8,63.0 25.8,63.0 26.8,62.7 27.9,62.4 28.9,62.3 29.9,62.8 31.0,63.8 32.0,65.4 33.0,67.1 34.1,68.7 35.1,69.8 36.1,70.1 37.1,69.7 38.2,68.6 39.2,67.4 40.2,66.3 41.3,65.7 42.3,65.7 43.3,66.3 44.4,67.3 45.4,68.3 46.4,69.2 47.5,69.7 48.5,69.9" stroke="#28E2E5"/><path d="M23.7,66.2 25.8,66.3 27.9,66.4 30.0,66.5 32.1,66.6 34.1,66.6 36.2,66.6 38.3,66.5 40.4,66.4 42.5,66.2 44.5,66.1 46.6,66.0 48.7,66.0 50.8,66.1 52.9,66.3 54.9,66.6 57.0,67.0 59.1,67.4 61.2,67.8 63.3,68.3 65.3,68.7 67.4,69.0 69.5,69.4 71.6,69.6 73.6,69.9" stroke="#DF536B"/><path d="M23.7,75.5 24.3,75.3 24.8,75.2 25.4,75.0 25.9,75.0 26.4,75.0 27.0,75.1 27.5,75.2 28.0,75.1 28.6,75.0 29.1,74.8 29.7,74.4 30.2,74.0 30.7,73.6 31.3,73.3 31.8,73.0 32.4,72.7 32.9,72.4 33.4,72.1 34.0,71.8 34.5,71.4 35.0,71.0 35.6,70.6 36.1,70.2 36.7,69.9" stroke="#DF536B"/><path d="M23.7,73.7 24.4,73.4 25.1,73.3 25.8,73.4 26.5,73.6 27.2,73.9 27.9,74.0 28.6,73.9 29.3,73.3 30.0,72.4 30.7,71.4 31.4,70.5 32.1,69.9 32.8,69.7 33.5,70.0 34.2,70.6 34.9,71.2 35.6,71.7 36.3,71.8 37.0,71.6 37.7,71.2 38.4,70.7 39.1,70.2 39.8,70.0 40.5,69.9" stroke="#000000"/><path d="M23.7,79.4 24.2,79.1 24.7,78.8 25.1,78.5 25.6,78.0 26.0,77.6 26.5,77.2 27.0,76.9 27.4,76.6 27.9,76.3 28.3,76.0 28.8,75.6 29.3,75.1 29.7,74.6 30.2,74.1 30.6,73.6 31.1,73.1 31.5,72.7 32.0,72.3 32.5,72.0 32.9,71.7 33.4,71.3 33.8,70.9 34.3,70.4 34.8,69.9" stroke="#2297E6"/><path d="M23.7,61.2 25.9,61.2 28.1,61.5 30.2,61.9 32.4,62.4 34.6,62.8 36.7,62.9 38.9,62.6 41.1,62.2 43.2,61.7 45.4,61.5 47.5,61.7 49.7,62.4 51.9,63.6 54.0,64.8 56.2,66.0 58.4,66.8 60.5,67.2 62.7,67.3 64.9,67.2 67.0,67.3 69.2,67.6 71.4,68.2 73.5,69.0 75.7,69.9" stroke="#CD0BBC"/><path d="M23.7,56.3 25.0,56.4 26.3,56.6 27.6,56.9 29.0,57.2 30.3,57.6 31.6,58.1 32.9,58.5 34.2,58.9 35.5,59.2 36.8,59.4 38.1,59.6 39.4,59.9 40.7,60.2 42.0,60.6 43.3,61.1 44.6,61.8 45.9,62.7 47.2,63.6 48.5,64.7 49.8,65.8 51.1,66.9 52.4,68.0 53.7,69.0 55.0,69.9" stroke="#28E2E5"/><path d="M23.7,60.2 23.8,60.7 23.9,61.3 24.1,61.9 24.2,62.3 24.3,62.5 24.4,62.5 24.5,62.2 24.6,62.0 24.7,62.0 24.8,62.2 24.9,62.7 25.0,63.6 25.1,64.6 25.2,65.6 25.3,66.4 25.4,66.9 25.5,67.3 25.6,67.4 25.7,67.5 25.8,67.7 25.9,68.1 26.0,68.6 26.1,69.3 26.2,69.9" stroke="#CD0BBC"/><path d="M23.7,68.0 26.4,67.7 29.0,68.0 31.7,68.7 34.3,69.9 37.0,71.2 39.6,72.3 42.3,72.9 44.9,72.7 47.6,71.8 50.2,70.2 52.9,68.1 55.5,66.1 58.2,64.3 60.8,63.1 63.5,62.8 66.1,63.3 68.8,64.5 71.5,66.1 74.1,67.8 76.8,69.3 79.4,70.2 82.1,70.6 84.7,70.4 87.4,69.9" stroke="#000000"/><path d="M23.7,78.5 25.6,78.9 27.5,79.2 29.3,79.3 31.2,79.2 33.0,78.9 34.9,78.4 36.7,77.8 38.6,77.2 40.5,76.6 42.3,76.0 44.2,75.6 46.0,75.3 47.9,75.0 49.7,74.9 51.6,74.8 53.4,74.7 55.3,74.6 57.2,74.4 59.0,74.1 60.9,73.6 62.7,72.9 64.6,72.1 66.4,71.0 68.3,69.9" stroke="#2297E6"/><path d="M23.7,60.1 25.4,60.0 27.1,59.8 28.8,59.6 30.5,59.4 32.1,59.3 33.8,59.2 35.5,59.3 37.2,59.6 38.9,60.0 40.6,60.6 42.2,61.3 43.9,62.1 45.6,62.9 47.3,63.7 49.0,64.4 50.6,65.1 52.3,65.7 54.0,66.2 55.7,66.7 57.4,67.2 59.0,67.7 60.7,68.3 62.4,69.1 64.1,69.9" stroke="#61D04F"/><path d="M23.7,72.9 25.4,72.8 27.1,72.7 28.7,72.6 30.4,72.6 32.1,72.6 33.7,72.6 35.4,72.7 37.1,72.9 38.8,73.0 40.4,73.0 42.1,73.0 43.8,72.9 45.4,72.8 47.1,72.6 48.8,72.3 50.4,71.9 52.1,71.6 53.8,71.2 55.4,70.9 57.1,70.6 58.8,70.4 60.4,70.2 62.1,70.1 63.8,69.9" stroke="#000000"/><path d="M23.7,72.2 24.8,71.8 25.8,71.0 26.9,70.5 28.0,70.3 29.0,70.8 30.1,72.0 31.1,73.5 32.2,74.9 33.2,75.8 34.3,75.9 35.3,75.1 36.4,73.4 37.4,71.3 38.5,69.2 39.5,67.7 40.6,67.0 41.7,67.2 42.7,68.1 43.8,69.3 44.8,70.5 45.9,71.1 46.9,71.2 48.0,70.7 49.0,69.9" stroke="#61D04F"/><path d="M23.7,69.3 23.8,69.7 23.8,70.1 23.8,70.4 23.8,70.6 23.9,70.7 23.9,70.6 23.9,70.3 24.0,69.9 24.0,69.4 24.0,68.8 24.0,68.2 24.1,67.8 24.1,67.4 24.1,67.2 24.1,67.2 24.2,67.3 24.2,67.6 24.2,68.0 24.2,68.5 24.3,69.0 24.3,69.4 24.3,69.7 24.3,69.9 24.4,69.9" stroke="#2297E6"/><path d="M23.7,68.6 27.0,68.8 30.2,69.0 33.4,69.2 36.6,69.4 39.9,69.5 43.1,69.5 46.3,69.5 49.5,69.4 52.8,69.2 56.0,69.0 59.2,68.8 62.4,68.5 65.7,68.3 68.9,68.2 72.1,68.1 75.4,68.1 78.6,68.2 81.8,68.4 85.0,68.7 88.3,68.9 91.5,69.2 94.7,69.5 97.9,69.7 101.2,69.9" stroke="#28E2E5"/><path d="M23.7,65.2 25.0,64.4 26.2,63.6 27.5,63.1 28.8,63.5 30.0,65.0 31.3,67.4 32.5,70.3 33.8,73.1 35.0,75.1 36.3,75.8 37.5,75.1 38.8,73.0 40.0,70.1 41.3,67.1 42.5,64.7 43.8,63.3 45.1,63.3 46.3,64.4 47.6,66.2 48.8,68.1 50.1,69.6 51.3,70.4 52.6,70.4 53.8,69.9" stroke="#28E2E5"/></g><path d="M24.0,15.4C25.2,15.6 29.0,16.0 31.5,16.4C34.0,16.8 36.8,17.3 39.0,17.9C41.2,18.5 43.1,19.2 45.0,20.1C46.9,21.0 48.8,22.2 50.3,23.1C51.8,24.1 52.6,24.5 54.0,25.8C55.4,27.1 57.2,29.1 58.6,30.7C60.0,32.3 61.2,34.0 62.5,35.6C63.8,37.2 65.0,39.0 66.5,40.5C68.0,42.0 69.9,43.3 71.4,44.4C72.9,45.5 74.0,46.0 75.3,47.3C76.6,48.6 77.9,50.6 79.2,52.2C80.5,53.8 81.6,55.5 83.1,57.1C84.6,58.7 86.4,60.4 88.0,62.0C89.6,63.6 91.3,65.6 92.9,66.9C94.5,68.2 96.7,69.4 97.5,69.9" stroke="#2a2430" stroke-width="0.85" fill="none"/><path d="M24.0,39.0C25.8,39.1 30.4,38.8 35.0,39.5C39.6,40.2 47.0,41.6 51.8,43.4C56.5,45.2 59.6,47.7 63.5,50.3C67.4,52.9 71.4,56.5 75.3,59.1C79.2,61.7 83.3,64.2 87.0,66.0C90.7,67.8 95.8,69.2 97.5,69.9" stroke="#5a2a5a" stroke-width="0.65" stroke-opacity="0.85" fill="none"/><path d="M24.0,41.5C26.7,41.7 35.2,41.9 40.0,42.5C44.8,43.1 48.5,44.8 52.5,45.2C56.5,45.7 61.6,44.2 63.9,45.2C66.2,46.2 65.3,49.0 66.0,51.0C66.7,53.0 66.3,55.2 68.0,57.0C69.7,58.8 73.0,60.4 76.0,62.0C79.0,63.6 82.7,65.2 86.0,66.5C89.3,67.8 94.3,69.2 96.0,69.7" stroke="#DF536B" stroke-width="0.65" stroke-opacity="0.85" fill="none"/><path d="M24.0,120.6C25.9,120.0 31.5,118.2 35.3,116.9C39.0,115.7 42.9,114.2 46.5,113.1C50.1,111.9 54.4,110.5 56.8,110.0C59.1,109.5 59.5,109.9 60.6,110.3C61.7,110.7 62.5,112.7 63.4,112.2C64.3,111.7 65.0,109.8 66.2,107.5C67.5,105.2 69.3,101.5 70.9,98.1C72.5,94.7 74.1,90.0 75.6,86.9C77.1,83.8 78.3,81.7 80.0,79.5C81.7,77.3 84.0,75.4 86.0,74.0C88.0,72.6 90.1,71.9 92.0,71.2C93.9,70.5 96.6,70.0 97.5,69.8" stroke="#CD0BBC" stroke-width="0.65" stroke-opacity="0.85" fill="none"/><path d="M24.0,112.2C26.5,111.6 34.3,110.2 39.0,108.5C43.7,106.8 49.1,104.1 52.1,101.9C55.1,99.7 55.1,97.3 56.8,95.3C58.4,93.3 59.8,91.9 62.0,90.0C64.2,88.1 67.0,86.0 70.0,84.0C73.0,82.0 76.7,79.8 80.0,78.0C83.3,76.2 87.1,74.4 90.0,73.0C92.9,71.6 96.2,70.3 97.5,69.8" stroke="#28E2E5" stroke-width="0.65" stroke-opacity="0.85" fill="none"/><path d="M24.0,108.0C26.7,107.7 35.3,106.8 40.0,106.0C44.7,105.2 49.0,103.8 52.0,103.0C55.0,102.2 56.1,100.8 58.0,101.0C59.9,101.2 62.0,104.5 63.5,104.5C65.0,104.5 65.6,103.1 67.0,101.0C68.4,98.9 70.2,95.2 72.0,92.0C73.8,88.8 75.7,84.8 78.0,82.0C80.3,79.2 82.8,77.0 86.0,75.0C89.2,73.0 95.6,70.7 97.5,69.8" stroke="#CD0BBC" stroke-width="0.65" stroke-opacity="0.85" fill="none"/><path d="M24.0,103.5C26.7,103.1 35.3,102.1 40.0,101.0C44.7,99.9 48.7,98.0 52.0,97.0C55.3,96.0 57.8,94.7 60.0,95.0C62.2,95.3 63.6,99.0 65.3,99.0C67.0,99.0 68.2,97.1 70.0,95.3C71.8,93.5 73.7,90.5 76.0,88.0C78.3,85.5 81.3,82.4 84.0,80.0C86.7,77.6 89.8,75.2 92.0,73.5C94.2,71.8 96.6,70.4 97.5,69.8" stroke="#28E2E5" stroke-width="0.65" stroke-opacity="0.85" fill="none"/><path d="M24.0,99.0C26.3,98.7 33.6,98.2 38.0,97.0C42.4,95.8 47.0,92.8 50.3,92.0C53.6,91.2 55.8,92.1 58.0,92.5C60.2,92.9 61.6,94.8 63.4,94.4C65.2,94.0 67.1,91.6 69.0,90.0C70.9,88.4 72.2,87.2 74.7,85.0C77.2,82.8 81.1,79.1 84.0,77.0C86.9,74.9 89.8,73.7 92.0,72.5C94.2,71.3 96.6,70.2 97.5,69.8" stroke="#DF536B" stroke-width="0.65" stroke-opacity="0.85" fill="none"/><path d="M24.0,94.0C26.7,93.8 34.8,93.5 40.0,93.0C45.2,92.5 50.6,90.3 55.0,91.0C59.4,91.7 63.4,97.0 66.4,97.2C69.4,97.4 70.4,94.6 73.0,92.0C75.6,89.4 79.3,84.4 82.1,81.6C84.9,78.8 87.4,77.0 90.0,75.0C92.6,73.0 96.2,70.7 97.5,69.8" stroke="#28E2E5" stroke-width="0.65" stroke-opacity="0.85" fill="none"/><path d="M24.0,95.0C27.5,95.2 39.0,95.5 45.0,96.0C51.0,96.5 56.0,97.2 60.0,98.0C64.0,98.8 66.4,103.5 69.0,101.0C71.6,98.5 72.5,87.3 75.6,82.9C78.6,78.5 83.6,76.6 87.3,74.4C91.0,72.2 95.8,70.6 97.5,69.8" stroke="#DF536B" stroke-width="0.65" stroke-opacity="0.85" fill="none"/><path d="M60.0,57.0C61.0,56.7 64.0,55.4 66.0,55.0C68.0,54.6 70.0,54.4 72.0,54.5C74.0,54.6 76.0,54.8 78.0,55.5C80.0,56.2 82.0,57.6 84.0,59.0C86.0,60.4 87.8,62.2 90.0,64.0C92.2,65.8 96.2,68.8 97.5,69.8" stroke="#28E2E5" stroke-width="0.65" stroke-opacity="0.85" fill="none"/><path d="M55.0,52.0C56.3,51.8 60.5,50.9 63.0,51.0C65.5,51.1 67.7,52.0 70.0,52.5C72.3,53.0 74.7,53.2 77.0,54.0C79.3,54.8 81.8,56.1 84.0,57.5C86.2,58.9 87.8,60.5 90.0,62.5C92.2,64.5 96.2,68.6 97.5,69.8" stroke="#28E2E5" stroke-width="0.65" stroke-opacity="0.85" fill="none"/><path d="M50.0,55.0C51.7,54.9 56.7,54.3 60.0,54.5C63.3,54.7 66.7,55.4 70.0,56.0C73.3,56.6 77.0,57.0 80.0,58.0C83.0,59.0 85.8,60.7 88.0,62.0C90.2,63.3 91.4,64.7 93.0,66.0C94.6,67.3 96.8,69.2 97.5,69.8" stroke="#28E2E5" stroke-width="0.65" stroke-opacity="0.85" fill="none"/><path d="M45.0,60.0C47.5,60.0 55.5,59.8 60.0,60.0C64.5,60.2 68.3,60.5 72.0,61.0C75.7,61.5 79.0,62.2 82.0,63.0C85.0,63.8 87.4,64.9 90.0,66.0C92.6,67.1 96.2,69.2 97.5,69.8" stroke="#2297E6" stroke-width="0.65" stroke-opacity="0.85" fill="none"/><path d="M60.0,58.0C61.7,58.1 67.0,58.2 70.0,58.5C73.0,58.8 75.3,59.3 78.0,60.0C80.7,60.7 83.7,61.5 86.0,62.5C88.3,63.5 90.1,64.8 92.0,66.0C93.9,67.2 96.6,69.2 97.5,69.8" stroke="#28E2E5" stroke-width="0.65" stroke-opacity="0.85" fill="none"/><path d="M50.0,63.0C52.0,63.1 58.0,63.3 62.0,63.5C66.0,63.7 70.3,63.7 74.0,64.0C77.7,64.3 81.0,64.9 84.0,65.5C87.0,66.1 89.8,66.8 92.0,67.5C94.2,68.2 96.6,69.4 97.5,69.8" stroke="#2297E6" stroke-width="0.65" stroke-opacity="0.85" fill="none"/><line x1="97.3" y1="69.9" x2="157.8" y2="69.9" stroke="#d49ad4" stroke-width="0.8"/><line x1="89.8" y1="9.9" x2="89.8" y2="127.0" stroke="#e4e4e4" stroke-width="0.6"/><line x1="95.2" y1="9.9" x2="95.2" y2="127.0" stroke="#f2f2f2" stroke-width="0.6"/></svg><rect x="24.4" y="9.9" width="133.4" height="117.1" fill="none" stroke="#555" stroke-width="0.8"/><line x1="21.8" y1="16.3" x2="24.4" y2="16.3" stroke="#555" stroke-width="0.7"/><text x="0" y="0" transform="translate(18.0,15.2) rotate(-90)" font-size="6.4" text-anchor="middle" fill="#222" stroke="#222" stroke-width="0.25">0.3</text><line x1="21.8" y1="34.2" x2="24.4" y2="34.2" stroke="#555" stroke-width="0.7"/><text x="0" y="0" transform="translate(18.0,33.1) rotate(-90)" font-size="6.4" text-anchor="middle" fill="#222" stroke="#222" stroke-width="0.25">0.2</text><line x1="21.8" y1="52.0" x2="24.4" y2="52.0" stroke="#555" stroke-width="0.7"/><text x="0" y="0" transform="translate(18.0,50.9) rotate(-90)" font-size="6.4" text-anchor="middle" fill="#222" stroke="#222" stroke-width="0.25">0.1</text><line x1="21.8" y1="69.9" x2="24.4" y2="69.9" stroke="#555" stroke-width="0.7"/><text x="0" y="0" transform="translate(18.0,68.8) rotate(-90)" font-size="6.4" text-anchor="middle" fill="#222" stroke="#222" stroke-width="0.25">0.0</text><line x1="21.8" y1="87.8" x2="24.4" y2="87.8" stroke="#555" stroke-width="0.7"/><text x="0" y="0" transform="translate(18.0,86.7) rotate(-90)" font-size="6.4" text-anchor="middle" fill="#222" stroke="#222" stroke-width="0.25">−0.1</text><line x1="21.8" y1="105.6" x2="24.4" y2="105.6" stroke="#555" stroke-width="0.7"/><text x="0" y="0" transform="translate(18.0,104.5) rotate(-90)" font-size="6.4" text-anchor="middle" fill="#222" stroke="#222" stroke-width="0.25">−0.2</text><line x1="21.8" y1="123.5" x2="24.4" y2="123.5" stroke="#555" stroke-width="0.7"/><text x="0" y="0" transform="translate(18.0,122.4) rotate(-90)" font-size="6.4" text-anchor="middle" fill="#222" stroke="#222" stroke-width="0.25">−0.3</text><line x1="29.3" y1="127.0" x2="29.3" y2="129.6" stroke="#555" stroke-width="0.7"/><text x="29.9" y="137.2" font-size="6.4" text-anchor="middle" fill="#222" stroke="#222" stroke-width="0.25">−8</text><line x1="54.0" y1="127.0" x2="54.0" y2="129.6" stroke="#555" stroke-width="0.7"/><text x="54.6" y="137.2" font-size="6.4" text-anchor="middle" fill="#222" stroke="#222" stroke-width="0.25">−6</text><line x1="78.7" y1="127.0" x2="78.7" y2="129.6" stroke="#555" stroke-width="0.7"/><text x="79.3" y="137.2" font-size="6.4" text-anchor="middle" fill="#222" stroke="#222" stroke-width="0.25">−4</text><line x1="103.5" y1="127.0" x2="103.5" y2="129.6" stroke="#555" stroke-width="0.7"/><text x="104.1" y="137.2" font-size="6.4" text-anchor="middle" fill="#222" stroke="#222" stroke-width="0.25">−2</text><line x1="128.2" y1="127.0" x2="128.2" y2="129.6" stroke="#555" stroke-width="0.7"/><text x="128.8" y="137.2" font-size="6.4" text-anchor="middle" fill="#222" stroke="#222" stroke-width="0.25">0</text><line x1="152.9" y1="127.0" x2="152.9" y2="129.6" stroke="#555" stroke-width="0.7"/><text x="153.5" y="137.2" font-size="6.4" text-anchor="middle" fill="#222" stroke="#222" stroke-width="0.25">2</text><text x="96" y="145.6" font-size="6.4" text-anchor="middle" fill="#222" stroke="#222" stroke-width="0.25">Log Lambda</text><text x="0" y="0" transform="translate(5.6,63.5) rotate(-90)" font-size="6.3" text-anchor="middle" fill="#222" stroke="#222" stroke-width="0.25">Coefficients</text><line x1="66.4" y1="9.9" x2="66.4" y2="7.7" stroke="#555" stroke-width="0.7"/><text x="67.6" y="6.4" font-size="6.4" text-anchor="middle" fill="#222" stroke="#222" stroke-width="0.25">235</text><line x1="128.2" y1="9.9" x2="128.2" y2="7.7" stroke="#555" stroke-width="0.7"/><text x="128.4" y="6.4" font-size="6.4" text-anchor="middle" fill="#222" stroke="#222" stroke-width="0.25">0</text><svg x="24.8" y="170.5" width="132.6" height="115.7" viewBox="24.8 170.5 132.6 115.7" overflow="hidden"><line x1="89.8" y1="170.5" x2="89.8" y2="286.2" stroke="#e4e4e4" stroke-width="0.6"/><line x1="95.2" y1="170.5" x2="95.2" y2="286.2" stroke="#f2f2f2" stroke-width="0.6"/><path d="M23.8,179.3V194.8M25.2,179.7V195.3M26.5,180.2V195.9M27.9,180.7V196.5M29.2,181.3V197.2M30.5,181.9V197.9M31.9,182.6V198.8M33.2,183.5V199.7M34.5,184.4V200.8M35.9,185.3V201.8M37.2,186.2V202.9M38.5,187.2V204.0M39.9,188.4V205.2M41.2,189.6V206.6M42.5,191.2V208.2M43.9,192.8V210.0M45.2,194.6V211.9M46.5,196.6V214.1M47.9,198.8V216.3M49.2,201.0V218.6M50.5,203.3V221.1M51.9,205.7V223.6M53.2,208.2V226.2M54.5,210.8V228.8M55.9,213.5V231.6M57.2,216.4V234.5M58.5,219.4V237.4M59.9,222.3V240.4M61.2,225.3V243.4M62.6,228.3V246.3M63.9,231.3V249.3M65.2,234.2V252.3M66.6,237.2V255.2M67.9,240.0V258.1M69.2,242.8V260.9M70.6,245.6V263.7M71.9,248.4V266.5M73.2,251.3V269.4M74.6,254.9V271.9M75.9,259.0V274.5M77.2,263.0V277.1M78.6,267.1V279.7M79.9,269.0V280.0M81.2,270.2V279.8M82.6,271.4V279.4M83.9,272.3V279.4M85.2,272.8V279.9M86.6,273.3V280.4M87.9,273.9V281.0M89.2,274.5V281.6M90.6,274.6V281.7M91.9,274.3V281.4M93.2,273.9V280.9M94.6,272.9V279.9M95.9,272.0V279.1M97.2,271.7V278.8M98.6,271.5V278.5M99.9,271.3V278.4M101.3,271.3V278.3M102.6,271.2V278.3M103.9,271.2V278.3M105.3,271.2V278.3M106.6,271.2V278.3M107.9,271.2V278.3M109.3,271.2V278.3M110.6,271.2V278.3M111.9,271.2V278.3M113.3,271.2V278.3M114.6,271.2V278.3M115.9,271.2V278.3M117.3,271.2V278.3M118.6,271.2V278.3M119.9,271.2V278.3M121.3,271.2V278.3M122.6,271.2V278.3M123.9,271.2V278.3M125.3,271.2V278.3M126.6,271.2V278.3M127.9,271.2V278.3M129.3,271.2V278.3M130.6,271.2V278.3M131.9,271.2V278.3M133.3,271.2V278.3M134.6,271.2V278.3M135.9,271.2V278.3M137.3,271.2V278.3M138.6,271.2V278.3M140.0,271.2V278.3M141.3,271.2V278.3M142.6,271.2V278.3M144.0,271.2V278.3M145.3,271.2V278.3M146.6,271.2V278.3M148.0,271.2V278.3M149.3,271.2V278.3M150.6,271.2V278.3M152.0,271.2V278.3M153.3,271.2V278.3M154.6,271.2V278.3M156.0,271.2V278.3" stroke="#e2e2e2" stroke-width="0.4" fill="none"/><path d="M22.3,179.3h3.0M22.3,194.8h3.0M23.7,179.7h3.0M23.7,195.3h3.0M25.0,180.2h3.0M25.0,195.9h3.0M26.4,180.7h3.0M26.4,196.5h3.0M27.7,181.3h3.0M27.7,197.2h3.0M29.0,181.9h3.0M29.0,197.9h3.0M30.4,182.6h3.0M30.4,198.8h3.0M31.7,183.5h3.0M31.7,199.7h3.0M33.0,184.4h3.0M33.0,200.8h3.0M34.4,185.3h3.0M34.4,201.8h3.0M35.7,186.2h3.0M35.7,202.9h3.0M37.0,187.2h3.0M37.0,204.0h3.0M38.4,188.4h3.0M38.4,205.2h3.0M39.7,189.6h3.0M39.7,206.6h3.0M41.0,191.2h3.0M41.0,208.2h3.0M42.4,192.8h3.0M42.4,210.0h3.0M43.7,194.6h3.0M43.7,211.9h3.0M45.0,196.6h3.0M45.0,214.1h3.0M46.4,198.8h3.0M46.4,216.3h3.0M47.7,201.0h3.0M47.7,218.6h3.0M49.0,203.3h3.0M49.0,221.1h3.0M50.4,205.7h3.0M50.4,223.6h3.0M51.7,208.2h3.0M51.7,226.2h3.0M53.0,210.8h3.0M53.0,228.8h3.0M54.4,213.5h3.0M54.4,231.6h3.0M55.7,216.4h3.0M55.7,234.5h3.0M57.0,219.4h3.0M57.0,237.4h3.0M58.4,222.3h3.0M58.4,240.4h3.0M59.7,225.3h3.0M59.7,243.4h3.0M61.1,228.3h3.0M61.1,246.3h3.0M62.4,231.3h3.0M62.4,249.3h3.0M63.7,234.2h3.0M63.7,252.3h3.0M65.1,237.2h3.0M65.1,255.2h3.0M66.4,240.0h3.0M66.4,258.1h3.0M67.7,242.8h3.0M67.7,260.9h3.0M69.1,245.6h3.0M69.1,263.7h3.0M70.4,248.4h3.0M70.4,266.5h3.0M71.7,251.3h3.0M71.7,269.4h3.0M73.1,254.9h3.0M73.1,271.9h3.0M74.4,259.0h3.0M74.4,274.5h3.0M75.7,263.0h3.0M75.7,277.1h3.0M77.1,267.1h3.0M77.1,279.7h3.0M78.4,269.0h3.0M78.4,280.0h3.0M79.7,270.2h3.0M79.7,279.8h3.0M81.1,271.4h3.0M81.1,279.4h3.0M82.4,272.3h3.0M82.4,279.4h3.0M83.7,272.8h3.0M83.7,279.9h3.0M85.1,273.3h3.0M85.1,280.4h3.0M86.4,273.9h3.0M86.4,281.0h3.0M87.7,274.5h3.0M87.7,281.6h3.0M89.1,274.6h3.0M89.1,281.7h3.0M90.4,274.3h3.0M90.4,281.4h3.0M91.7,273.9h3.0M91.7,280.9h3.0M93.1,272.9h3.0M93.1,279.9h3.0M94.4,272.0h3.0M94.4,279.1h3.0M95.7,271.7h3.0M95.7,278.8h3.0M97.1,271.5h3.0M97.1,278.5h3.0M98.4,271.3h3.0M98.4,278.4h3.0M99.8,271.3h3.0M99.8,278.3h3.0M101.1,271.2h3.0M101.1,278.3h3.0M102.4,271.2h3.0M102.4,278.3h3.0M103.8,271.2h3.0M103.8,278.3h3.0M105.1,271.2h3.0M105.1,278.3h3.0M106.4,271.2h3.0M106.4,278.3h3.0M107.8,271.2h3.0M107.8,278.3h3.0M109.1,271.2h3.0M109.1,278.3h3.0M110.4,271.2h3.0M110.4,278.3h3.0M111.8,271.2h3.0M111.8,278.3h3.0M113.1,271.2h3.0M113.1,278.3h3.0M114.4,271.2h3.0M114.4,278.3h3.0M115.8,271.2h3.0M115.8,278.3h3.0M117.1,271.2h3.0M117.1,278.3h3.0M118.4,271.2h3.0M118.4,278.3h3.0M119.8,271.2h3.0M119.8,278.3h3.0M121.1,271.2h3.0M121.1,278.3h3.0M122.4,271.2h3.0M122.4,278.3h3.0M123.8,271.2h3.0M123.8,278.3h3.0M125.1,271.2h3.0M125.1,278.3h3.0M126.4,271.2h3.0M126.4,278.3h3.0M127.8,271.2h3.0M127.8,278.3h3.0M129.1,271.2h3.0M129.1,278.3h3.0M130.4,271.2h3.0M130.4,278.3h3.0M131.8,271.2h3.0M131.8,278.3h3.0M133.1,271.2h3.0M133.1,278.3h3.0M134.4,271.2h3.0M134.4,278.3h3.0M135.8,271.2h3.0M135.8,278.3h3.0M137.1,271.2h3.0M137.1,278.3h3.0M138.5,271.2h3.0M138.5,278.3h3.0M139.8,271.2h3.0M139.8,278.3h3.0M141.1,271.2h3.0M141.1,278.3h3.0M142.5,271.2h3.0M142.5,278.3h3.0M143.8,271.2h3.0M143.8,278.3h3.0M145.1,271.2h3.0M145.1,278.3h3.0M146.5,271.2h3.0M146.5,278.3h3.0M147.8,271.2h3.0M147.8,278.3h3.0M149.1,271.2h3.0M149.1,278.3h3.0M150.5,271.2h3.0M150.5,278.3h3.0M151.8,271.2h3.0M151.8,278.3h3.0M153.1,271.2h3.0M153.1,278.3h3.0M154.5,271.2h3.0M154.5,278.3h3.0" stroke="#c6c6c6" stroke-width="0.5" fill="none"/><g fill="#d2182c"><circle cx="23.8" cy="187.1" r="1.08"/><circle cx="25.2" cy="187.5" r="1.08"/><circle cx="26.5" cy="188.0" r="1.08"/><circle cx="27.9" cy="188.6" r="1.08"/><circle cx="29.2" cy="189.2" r="1.08"/><circle cx="30.5" cy="189.9" r="1.08"/><circle cx="31.9" cy="190.7" r="1.08"/><circle cx="33.2" cy="191.6" r="1.08"/><circle cx="34.5" cy="192.6" r="1.08"/><circle cx="35.9" cy="193.6" r="1.08"/><circle cx="37.2" cy="194.5" r="1.08"/><circle cx="38.5" cy="195.6" r="1.08"/><circle cx="39.9" cy="196.8" r="1.08"/><circle cx="41.2" cy="198.1" r="1.08"/><circle cx="42.5" cy="199.7" r="1.08"/><circle cx="43.9" cy="201.4" r="1.08"/><circle cx="45.2" cy="203.3" r="1.08"/><circle cx="46.5" cy="205.4" r="1.08"/><circle cx="47.9" cy="207.5" r="1.08"/><circle cx="49.2" cy="209.8" r="1.08"/><circle cx="50.5" cy="212.2" r="1.08"/><circle cx="51.9" cy="214.6" r="1.08"/><circle cx="53.2" cy="217.2" r="1.08"/><circle cx="54.5" cy="219.8" r="1.08"/><circle cx="55.9" cy="222.6" r="1.08"/><circle cx="57.2" cy="225.5" r="1.08"/><circle cx="58.5" cy="228.4" r="1.08"/><circle cx="59.9" cy="231.4" r="1.08"/><circle cx="61.2" cy="234.3" r="1.08"/><circle cx="62.6" cy="237.3" r="1.08"/><circle cx="63.9" cy="240.3" r="1.08"/><circle cx="65.2" cy="243.3" r="1.08"/><circle cx="66.6" cy="246.2" r="1.08"/><circle cx="67.9" cy="249.1" r="1.08"/><circle cx="69.2" cy="251.8" r="1.08"/><circle cx="70.6" cy="254.6" r="1.08"/><circle cx="71.9" cy="257.4" r="1.08"/><circle cx="73.2" cy="260.4" r="1.08"/><circle cx="74.6" cy="263.4" r="1.08"/><circle cx="75.9" cy="266.7" r="1.08"/><circle cx="77.2" cy="270.1" r="1.08"/><circle cx="78.6" cy="273.4" r="1.08"/><circle cx="79.9" cy="274.5" r="1.08"/><circle cx="81.2" cy="275.0" r="1.08"/><circle cx="82.6" cy="275.4" r="1.08"/><circle cx="83.9" cy="275.9" r="1.08"/><circle cx="85.2" cy="276.4" r="1.08"/><circle cx="86.6" cy="276.9" r="1.08"/><circle cx="87.9" cy="277.4" r="1.08"/><circle cx="89.2" cy="278.1" r="1.08"/><circle cx="90.6" cy="278.1" r="1.08"/><circle cx="91.9" cy="277.9" r="1.08"/><circle cx="93.2" cy="277.4" r="1.08"/><circle cx="94.6" cy="276.4" r="1.08"/><circle cx="95.9" cy="275.5" r="1.08"/><circle cx="97.2" cy="275.2" r="1.08"/><circle cx="98.6" cy="275.0" r="1.08"/><circle cx="99.9" cy="274.8" r="1.08"/><circle cx="101.3" cy="274.8" r="1.08"/><circle cx="102.6" cy="274.8" r="1.08"/><circle cx="103.9" cy="274.8" r="1.08"/><circle cx="105.3" cy="274.8" r="1.08"/><circle cx="106.6" cy="274.7" r="1.08"/><circle cx="107.9" cy="274.7" r="1.08"/><circle cx="109.3" cy="274.7" r="1.08"/><circle cx="110.6" cy="274.7" r="1.08"/><circle cx="111.9" cy="274.7" r="1.08"/><circle cx="113.3" cy="274.7" r="1.08"/><circle cx="114.6" cy="274.7" r="1.08"/><circle cx="115.9" cy="274.7" r="1.08"/><circle cx="117.3" cy="274.7" r="1.08"/><circle cx="118.6" cy="274.7" r="1.08"/><circle cx="119.9" cy="274.7" r="1.08"/><circle cx="121.3" cy="274.7" r="1.08"/><circle cx="122.6" cy="274.7" r="1.08"/><circle cx="123.9" cy="274.7" r="1.08"/><circle cx="125.3" cy="274.7" r="1.08"/><circle cx="126.6" cy="274.7" r="1.08"/><circle cx="127.9" cy="274.7" r="1.08"/><circle cx="129.3" cy="274.7" r="1.08"/><circle cx="130.6" cy="274.7" r="1.08"/><circle cx="131.9" cy="274.7" r="1.08"/><circle cx="133.3" cy="274.7" r="1.08"/><circle cx="134.6" cy="274.7" r="1.08"/><circle cx="135.9" cy="274.7" r="1.08"/><circle cx="137.3" cy="274.7" r="1.08"/><circle cx="138.6" cy="274.7" r="1.08"/><circle cx="140.0" cy="274.7" r="1.08"/><circle cx="141.3" cy="274.7" r="1.08"/><circle cx="142.6" cy="274.7" r="1.08"/><circle cx="144.0" cy="274.7" r="1.08"/><circle cx="145.3" cy="274.7" r="1.08"/><circle cx="146.6" cy="274.7" r="1.08"/><circle cx="148.0" cy="274.7" r="1.08"/><circle cx="149.3" cy="274.7" r="1.08"/><circle cx="150.6" cy="274.7" r="1.08"/><circle cx="152.0" cy="274.7" r="1.08"/><circle cx="153.3" cy="274.7" r="1.08"/><circle cx="154.6" cy="274.7" r="1.08"/><circle cx="156.0" cy="274.7" r="1.08"/></g></svg><rect x="24.8" y="170.5" width="132.6" height="115.7" fill="none" stroke="#555" stroke-width="0.8"/><line x1="22.2" y1="180.4" x2="24.8" y2="180.4" stroke="#555" stroke-width="0.7"/><text x="0" y="0" transform="translate(18.0,179.3) rotate(-90)" font-size="6.4" text-anchor="middle" fill="#222" stroke="#222" stroke-width="0.25">0.45</text><line x1="22.2" y1="201.9" x2="24.8" y2="201.9" stroke="#555" stroke-width="0.7"/><text x="0" y="0" transform="translate(18.0,200.8) rotate(-90)" font-size="6.4" text-anchor="middle" fill="#222" stroke="#222" stroke-width="0.25">0.40</text><line x1="22.2" y1="223.4" x2="24.8" y2="223.4" stroke="#555" stroke-width="0.7"/><text x="0" y="0" transform="translate(18.0,222.3) rotate(-90)" font-size="6.4" text-anchor="middle" fill="#222" stroke="#222" stroke-width="0.25">0.35</text><line x1="22.2" y1="244.9" x2="24.8" y2="244.9" stroke="#555" stroke-width="0.7"/><text x="0" y="0" transform="translate(18.0,243.8) rotate(-90)" font-size="6.4" text-anchor="middle" fill="#222" stroke="#222" stroke-width="0.25">0.30</text><line x1="22.2" y1="266.4" x2="24.8" y2="266.4" stroke="#555" stroke-width="0.7"/><text x="0" y="0" transform="translate(18.0,265.3) rotate(-90)" font-size="6.4" text-anchor="middle" fill="#222" stroke="#222" stroke-width="0.25">0.25</text><line x1="29.4" y1="286.2" x2="29.4" y2="288.8" stroke="#555" stroke-width="0.7"/><text x="30.0" y="296.4" font-size="6.4" text-anchor="middle" fill="#222" stroke="#222" stroke-width="0.25">−8</text><line x1="54.0" y1="286.2" x2="54.0" y2="288.8" stroke="#555" stroke-width="0.7"/><text x="54.6" y="296.4" font-size="6.4" text-anchor="middle" fill="#222" stroke="#222" stroke-width="0.25">−6</text><line x1="78.5" y1="286.2" x2="78.5" y2="288.8" stroke="#555" stroke-width="0.7"/><text x="79.1" y="296.4" font-size="6.4" text-anchor="middle" fill="#222" stroke="#222" stroke-width="0.25">−4</text><line x1="103.1" y1="286.2" x2="103.1" y2="288.8" stroke="#555" stroke-width="0.7"/><text x="103.7" y="296.4" font-size="6.4" text-anchor="middle" fill="#222" stroke="#222" stroke-width="0.25">−2</text><line x1="127.7" y1="286.2" x2="127.7" y2="288.8" stroke="#555" stroke-width="0.7"/><text x="128.3" y="296.4" font-size="6.4" text-anchor="middle" fill="#222" stroke="#222" stroke-width="0.25">0</text><line x1="152.3" y1="286.2" x2="152.3" y2="288.8" stroke="#555" stroke-width="0.7"/><text x="152.9" y="296.4" font-size="6.4" text-anchor="middle" fill="#222" stroke="#222" stroke-width="0.25">2</text><text x="89.5" y="304.2" font-size="6.4" text-anchor="middle" fill="#222" stroke="#222" stroke-width="0.25">Log(λ)</text><text x="0" y="0" transform="translate(5.6,222.6) rotate(-90)" font-size="6.3" text-anchor="middle" fill="#222" stroke="#222" stroke-width="0.25">Mean−Squared Error</text><text x="27.6" y="167.2" font-size="6.4" text-anchor="middle" fill="#222" stroke="#222" stroke-width="0.25">496</text><text x="39.7" y="167.2" font-size="6.4" text-anchor="middle" fill="#222" stroke="#222" stroke-width="0.25">400</text><text x="52.8" y="167.2" font-size="6.4" text-anchor="middle" fill="#222" stroke="#222" stroke-width="0.25">335</text><text x="65.8" y="167.2" font-size="6.4" text-anchor="middle" fill="#222" stroke="#222" stroke-width="0.25">243</text><text x="78.7" y="167.2" font-size="6.4" text-anchor="middle" fill="#222" stroke="#222" stroke-width="0.25">117</text><text x="89.0" y="167.2" font-size="6.4" text-anchor="middle" fill="#222" stroke="#222" stroke-width="0.25">30</text><text x="96.8" y="167.2" font-size="6.4" text-anchor="middle" fill="#222" stroke="#222" stroke-width="0.25">9</text><text x="104.0" y="167.2" font-size="6.4" text-anchor="middle" fill="#222" stroke="#222" stroke-width="0.25">0</text><text x="111.1" y="167.2" font-size="6.4" text-anchor="middle" fill="#222" stroke="#222" stroke-width="0.25">0</text><text x="118.3" y="167.2" font-size="6.4" text-anchor="middle" fill="#222" stroke="#222" stroke-width="0.25">0</text><text x="125.4" y="167.2" font-size="6.4" text-anchor="middle" fill="#222" stroke="#222" stroke-width="0.25">0</text><text x="132.5" y="167.2" font-size="6.4" text-anchor="middle" fill="#222" stroke="#222" stroke-width="0.25">0</text><text x="139.7" y="167.2" font-size="6.4" text-anchor="middle" fill="#222" stroke="#222" stroke-width="0.25">0</text><text x="146.8" y="167.2" font-size="6.4" text-anchor="middle" fill="#222" stroke="#222" stroke-width="0.25">0</text><text x="153.9" y="167.2" font-size="6.4" text-anchor="middle" fill="#222" stroke="#222" stroke-width="0.25">0</text><text x="1.5" y="7.7" font-size="9" font-weight="bold" fill="#000" stroke="#000" stroke-width="0.1">A</text><text x="0.6" y="155.8" font-size="9" font-weight="bold" fill="#000" stroke="#000" stroke-width="0.1">B</text><text x="161.2" y="7.2" font-size="9" font-weight="bold" fill="#000" stroke="#000" stroke-width="0.1">C</text><rect x="172.4" y="19.20" width="225.9" height="11.78" fill="#ebebeb"/><rect x="172.4" y="42.77" width="225.9" height="11.78" fill="#ebebeb"/><rect x="172.4" y="66.33" width="225.9" height="11.78" fill="#ebebeb"/><rect x="172.4" y="89.90" width="225.9" height="11.78" fill="#ebebeb"/><rect x="172.4" y="113.46" width="225.9" height="11.78" fill="#ebebeb"/><rect x="172.4" y="137.03" width="225.9" height="11.78" fill="#ebebeb"/><rect x="172.4" y="160.59" width="225.9" height="11.78" fill="#ebebeb"/><rect x="172.4" y="184.16" width="225.9" height="11.78" fill="#ebebeb"/><rect x="172.4" y="207.72" width="225.9" height="11.78" fill="#ebebeb"/><rect x="172.4" y="231.29" width="225.9" height="11.78" fill="#ebebeb"/><rect x="172.4" y="254.85" width="225.9" height="11.78" fill="#ebebeb"/><rect x="172.4" y="278.42" width="225.9" height="11.78" fill="#ebebeb"/><line x1="270.5" y1="19.2" x2="270.5" y2="290.2" stroke="#6c7886" stroke-width="0.6" stroke-dasharray="3,3"/><line x1="237.9" y1="25.1" x2="266.8" y2="25.1" stroke="#6f9fc4" stroke-width="0.6"/><circle cx="252.3" cy="25.1" r="1.25" fill="#1c4a68"/><text x="181" y="27.6" font-size="6.4" font-style="italic" font-weight="bold" fill="#dc2440" stroke="#dc2440" stroke-width="0.1">ADPGK</text><text x="298.8" y="28.0" font-size="6.4" fill="#333" stroke="#333" stroke-width="0.25">0.53 (0.32, 0.88)</text><text x="395.2" y="28.0" font-size="6.4" text-anchor="end" fill="#333" stroke="#333" stroke-width="0.25">0.015</text><line x1="251.2" y1="36.9" x2="267.2" y2="36.9" stroke="#6f9fc4" stroke-width="0.6"/><circle cx="259.0" cy="36.9" r="1.25" fill="#1c4a68"/><text x="181" y="39.4" font-size="6.4" font-style="italic" font-weight="bold" fill="#dc2440" stroke="#dc2440" stroke-width="0.1">GOT2</text><text x="298.8" y="39.8" font-size="6.4" fill="#333" stroke="#333" stroke-width="0.25">0.67 (0.51, 0.89)</text><text x="395.2" y="39.8" font-size="6.4" text-anchor="end" fill="#333" stroke="#333" stroke-width="0.25">0.005</text><line x1="252.9" y1="48.7" x2="271.1" y2="48.7" stroke="#6f9fc4" stroke-width="0.6"/><circle cx="261.9" cy="48.7" r="1.25" fill="#1c4a68"/><text x="181" y="51.2" font-size="6.4" font-style="italic" font-weight="normal" fill="#2a2a2a" stroke="#2a2a2a" stroke-width="0.25">SETDB2</text><text x="298.8" y="51.6" font-size="6.4" fill="#333" stroke="#333" stroke-width="0.25">0.74 (0.54, 1.02)</text><text x="395.2" y="51.6" font-size="6.4" text-anchor="end" fill="#333" stroke="#333" stroke-width="0.25">0.066</text><line x1="257.3" y1="60.4" x2="269.3" y2="60.4" stroke="#6f9fc4" stroke-width="0.6"/><circle cx="263.4" cy="60.4" r="1.25" fill="#1c4a68"/><text x="181" y="62.9" font-size="6.4" font-style="italic" font-weight="bold" fill="#dc2440" stroke="#dc2440" stroke-width="0.1">MTHFS</text><text x="298.8" y="63.3" font-size="6.4" fill="#333" stroke="#333" stroke-width="0.25">0.78 (0.63, 0.96)</text><text x="395.2" y="63.3" font-size="6.4" text-anchor="end" fill="#333" stroke="#333" stroke-width="0.25">0.018</text><line x1="256.4" y1="72.2" x2="275.0" y2="72.2" stroke="#6f9fc4" stroke-width="0.6"/><circle cx="265.5" cy="72.2" r="1.25" fill="#1c4a68"/><text x="181" y="74.7" font-size="6.4" font-style="italic" font-weight="normal" fill="#2a2a2a" stroke="#2a2a2a" stroke-width="0.25">ENOSF1</text><text x="298.8" y="75.1" font-size="6.4" fill="#333" stroke="#333" stroke-width="0.25">0.84 (0.61, 1.17)</text><text x="395.2" y="75.1" font-size="6.4" text-anchor="end" fill="#333" stroke="#333" stroke-width="0.25">0.314</text><line x1="265.2" y1="84.0" x2="269.9" y2="84.0" stroke="#6f9fc4" stroke-width="0.6"/><circle cx="267.5" cy="84.0" r="1.25" fill="#1c4a68"/><text x="181" y="86.5" font-size="6.4" font-style="italic" font-weight="bold" fill="#dc2440" stroke="#dc2440" stroke-width="0.1">FTCD</text><text x="298.8" y="86.9" font-size="6.4" fill="#333" stroke="#333" stroke-width="0.25">0.90 (0.83, 0.98)</text><text x="395.2" y="86.9" font-size="6.4" text-anchor="end" fill="#333" stroke="#333" stroke-width="0.25">0.016</text><line x1="261.1" y1="95.8" x2="275.0" y2="95.8" stroke="#6f9fc4" stroke-width="0.6"/><circle cx="268.1" cy="95.8" r="1.25" fill="#1c4a68"/><text x="181" y="98.3" font-size="6.4" font-style="italic" font-weight="normal" fill="#2a2a2a" stroke="#2a2a2a" stroke-width="0.25">ADA</text><text x="298.8" y="98.7" font-size="6.4" fill="#333" stroke="#333" stroke-width="0.25">0.92 (0.72, 1.17)</text><text x="395.2" y="98.7" font-size="6.4" text-anchor="end" fill="#333" stroke="#333" stroke-width="0.25">0.484</text><line x1="261.5" y1="107.6" x2="274.5" y2="107.6" stroke="#6f9fc4" stroke-width="0.6"/><circle cx="268.1" cy="107.6" r="1.25" fill="#1c4a68"/><text x="181" y="110.1" font-size="6.4" font-style="italic" font-weight="normal" fill="#2a2a2a" stroke="#2a2a2a" stroke-width="0.25">HS6ST1</text><text x="298.8" y="110.5" font-size="6.4" fill="#333" stroke="#333" stroke-width="0.25">0.92 (0.73, 1.15)</text><text x="395.2" y="110.5" font-size="6.4" text-anchor="end" fill="#333" stroke="#333" stroke-width="0.25">0.449</text><line x1="257.7" y1="119.4" x2="280.1" y2="119.4" stroke="#6f9fc4" stroke-width="0.6"/><circle cx="269.0" cy="119.4" r="1.25" fill="#1c4a68"/><text x="181" y="121.9" font-size="6.4" font-style="italic" font-weight="normal" fill="#2a2a2a" stroke="#2a2a2a" stroke-width="0.25">MCCC2</text><text x="298.8" y="122.3" font-size="6.4" fill="#333" stroke="#333" stroke-width="0.25">0.95 (0.64, 1.40)</text><text x="395.2" y="122.3" font-size="6.4" text-anchor="end" fill="#333" stroke="#333" stroke-width="0.25">0.785</text><line x1="268.7" y1="131.1" x2="272.4" y2="131.1" stroke="#6f9fc4" stroke-width="0.6"/><circle cx="270.5" cy="131.1" r="1.25" fill="#1c4a68"/><text x="181" y="133.6" font-size="6.4" font-style="italic" font-weight="normal" fill="#2a2a2a" stroke="#2a2a2a" stroke-width="0.25">ADH4</text><text x="298.8" y="134.0" font-size="6.4" fill="#333" stroke="#333" stroke-width="0.25">1.00 (0.94, 1.07)</text><text x="395.2" y="134.0" font-size="6.4" text-anchor="end" fill="#333" stroke="#333" stroke-width="0.25">0.964</text><line x1="261.5" y1="142.9" x2="279.5" y2="142.9" stroke="#6f9fc4" stroke-width="0.6"/><circle cx="270.5" cy="142.9" r="1.25" fill="#1c4a68"/><text x="181" y="145.4" font-size="6.4" font-style="italic" font-weight="normal" fill="#2a2a2a" stroke="#2a2a2a" stroke-width="0.25">PTDSS2</text><text x="298.8" y="145.8" font-size="6.4" fill="#333" stroke="#333" stroke-width="0.25">1.00 (0.73, 1.37)</text><text x="395.2" y="145.8" font-size="6.4" text-anchor="end" fill="#333" stroke="#333" stroke-width="0.25">0.993</text><line x1="263.4" y1="154.7" x2="279.9" y2="154.7" stroke="#6f9fc4" stroke-width="0.6"/><circle cx="271.6" cy="154.7" r="1.25" fill="#1c4a68"/><text x="181" y="157.2" font-size="6.4" font-style="italic" font-weight="normal" fill="#2a2a2a" stroke="#2a2a2a" stroke-width="0.25">PIGL</text><text x="298.8" y="157.6" font-size="6.4" fill="#333" stroke="#333" stroke-width="0.25">1.04 (0.78, 1.39)</text><text x="395.2" y="157.6" font-size="6.4" text-anchor="end" fill="#333" stroke="#333" stroke-width="0.25">0.803</text><line x1="259.5" y1="166.5" x2="284.8" y2="166.5" stroke="#6f9fc4" stroke-width="0.6"/><circle cx="272.2" cy="166.5" r="1.25" fill="#1c4a68"/><text x="181" y="169.0" font-size="6.4" font-style="italic" font-weight="normal" fill="#2a2a2a" stroke="#2a2a2a" stroke-width="0.25">SUV39H2</text><text x="298.8" y="169.4" font-size="6.4" fill="#333" stroke="#333" stroke-width="0.25">1.06 (0.68, 1.65)</text><text x="395.2" y="169.4" font-size="6.4" text-anchor="end" fill="#333" stroke="#333" stroke-width="0.25">0.798</text><line x1="269.0" y1="178.3" x2="275.5" y2="178.3" stroke="#6f9fc4" stroke-width="0.6"/><circle cx="272.2" cy="178.3" r="1.25" fill="#1c4a68"/><text x="181" y="180.8" font-size="6.4" font-style="italic" font-weight="normal" fill="#2a2a2a" stroke="#2a2a2a" stroke-width="0.25">GPX7</text><text x="298.8" y="181.2" font-size="6.4" fill="#333" stroke="#333" stroke-width="0.25">1.06 (0.95, 1.19)</text><text x="395.2" y="181.2" font-size="6.4" text-anchor="end" fill="#333" stroke="#333" stroke-width="0.25">0.292</text><line x1="266.5" y1="190.0" x2="279.1" y2="190.0" stroke="#6f9fc4" stroke-width="0.6"/><circle cx="272.7" cy="190.0" r="1.25" fill="#1c4a68"/><text x="181" y="192.5" font-size="6.4" font-style="italic" font-weight="normal" fill="#2a2a2a" stroke="#2a2a2a" stroke-width="0.25">PLOD2</text><text x="298.8" y="192.9" font-size="6.4" fill="#333" stroke="#333" stroke-width="0.25">1.08 (0.87, 1.35)</text><text x="395.2" y="192.9" font-size="6.4" text-anchor="end" fill="#333" stroke="#333" stroke-width="0.25">0.497</text><line x1="269.0" y1="201.8" x2="276.7" y2="201.8" stroke="#6f9fc4" stroke-width="0.6"/><circle cx="273.0" cy="201.8" r="1.25" fill="#1c4a68"/><text x="181" y="204.3" font-size="6.4" font-style="italic" font-weight="normal" fill="#2a2a2a" stroke="#2a2a2a" stroke-width="0.25">LPL</text><text x="298.8" y="204.7" font-size="6.4" fill="#333" stroke="#333" stroke-width="0.25">1.09 (0.95, 1.24)</text><text x="395.2" y="204.7" font-size="6.4" text-anchor="end" fill="#333" stroke="#333" stroke-width="0.25">0.205</text><line x1="261.5" y1="213.6" x2="285.7" y2="213.6" stroke="#6f9fc4" stroke-width="0.6"/><circle cx="273.5" cy="213.6" r="1.25" fill="#1c4a68"/><text x="181" y="216.1" font-size="6.4" font-style="italic" font-weight="normal" fill="#2a2a2a" stroke="#2a2a2a" stroke-width="0.25">HADHA</text><text x="298.8" y="216.5" font-size="6.4" fill="#333" stroke="#333" stroke-width="0.25">1.11 (0.73, 1.70)</text><text x="395.2" y="216.5" font-size="6.4" text-anchor="end" fill="#333" stroke="#333" stroke-width="0.25">0.627</text><line x1="267.2" y1="225.4" x2="281.9" y2="225.4" stroke="#6f9fc4" stroke-width="0.6"/><circle cx="274.5" cy="225.4" r="1.25" fill="#1c4a68"/><text x="181" y="227.9" font-size="6.4" font-style="italic" font-weight="normal" fill="#2a2a2a" stroke="#2a2a2a" stroke-width="0.25">SRD5A3</text><text x="298.8" y="228.3" font-size="6.4" fill="#333" stroke="#333" stroke-width="0.25">1.15 (0.89, 1.49)</text><text x="395.2" y="228.3" font-size="6.4" text-anchor="end" fill="#333" stroke="#333" stroke-width="0.25">0.294</text><line x1="259.0" y1="237.2" x2="290.5" y2="237.2" stroke="#6f9fc4" stroke-width="0.6"/><circle cx="274.7" cy="237.2" r="1.25" fill="#1c4a68"/><text x="181" y="239.7" font-size="6.4" font-style="italic" font-weight="normal" fill="#2a2a2a" stroke="#2a2a2a" stroke-width="0.25">SEPHS1</text><text x="298.8" y="240.1" font-size="6.4" fill="#333" stroke="#333" stroke-width="0.25">1.16 (0.67, 2.01)</text><text x="395.2" y="240.1" font-size="6.4" text-anchor="end" fill="#333" stroke="#333" stroke-width="0.25">0.589</text><line x1="269.6" y1="249.0" x2="283.2" y2="249.0" stroke="#6f9fc4" stroke-width="0.6"/><circle cx="276.4" cy="249.0" r="1.25" fill="#1c4a68"/><text x="181" y="251.5" font-size="6.4" font-style="italic" font-weight="normal" fill="#2a2a2a" stroke="#2a2a2a" stroke-width="0.25">PHOSPHO2</text><text x="298.8" y="251.9" font-size="6.4" fill="#333" stroke="#333" stroke-width="0.25">1.23 (0.97, 1.56)</text><text x="395.2" y="251.9" font-size="6.4" text-anchor="end" fill="#333" stroke="#333" stroke-width="0.25">0.091</text><line x1="265.5" y1="260.7" x2="288.2" y2="260.7" stroke="#6f9fc4" stroke-width="0.6"/><circle cx="276.9" cy="260.7" r="1.25" fill="#1c4a68"/><text x="181" y="263.2" font-size="6.4" font-style="italic" font-weight="normal" fill="#2a2a2a" stroke="#2a2a2a" stroke-width="0.25">PIGM</text><text x="298.8" y="263.6" font-size="6.4" fill="#333" stroke="#333" stroke-width="0.25">1.25 (0.84, 1.86)</text><text x="395.2" y="263.6" font-size="6.4" text-anchor="end" fill="#333" stroke="#333" stroke-width="0.25">0.264</text><line x1="270.5" y1="272.5" x2="288.7" y2="272.5" stroke="#6f9fc4" stroke-width="0.6"/><circle cx="279.5" cy="272.5" r="1.25" fill="#1c4a68"/><text x="181" y="275.0" font-size="6.4" font-style="italic" font-weight="bold" fill="#dc2440" stroke="#dc2440" stroke-width="0.1">LDHA</text><text x="298.8" y="275.4" font-size="6.4" fill="#333" stroke="#333" stroke-width="0.25">1.37 (1.00, 1.89)</text><text x="395.2" y="275.4" font-size="6.4" text-anchor="end" fill="#333" stroke="#333" stroke-width="0.25">0.050</text><line x1="275.5" y1="284.3" x2="292.9" y2="284.3" stroke="#6f9fc4" stroke-width="0.6"/><circle cx="284.3" cy="284.3" r="1.25" fill="#1c4a68"/><text x="181" y="286.8" font-size="6.4" font-style="italic" font-weight="bold" fill="#dc2440" stroke="#dc2440" stroke-width="0.1">CHAC2</text><text x="298.8" y="287.2" font-size="6.4" fill="#333" stroke="#333" stroke-width="0.25">1.62 (1.19, 2.19)</text><text x="395.2" y="287.2" font-size="6.4" text-anchor="end" fill="#333" stroke="#333" stroke-width="0.25">0.002</text><rect x="172.4" y="7.4" width="225.9" height="282.8" fill="none" stroke="#888" stroke-width="0.8"/><line x1="172.4" y1="19.2" x2="398.3" y2="19.2" stroke="#888" stroke-width="0.8"/><line x1="234.8" y1="7.4" x2="234.8" y2="290.2" stroke="#999" stroke-width="0.9"/><line x1="295.9" y1="7.4" x2="295.9" y2="290.2" stroke="#999" stroke-width="0.9"/><text x="180.8" y="15.8" font-size="6.5" font-weight="bold" fill="#111" stroke="#111" stroke-width="0.1">Variable</text><text x="267.7" y="15.8" font-size="6.5" font-weight="bold" fill="#111" text-anchor="middle" stroke="#111" stroke-width="0.1">Hazard ratio</text><text x="303.4" y="15.8" font-size="6.5" font-weight="bold" fill="#111" stroke="#111" stroke-width="0.1">HR (95% CI)</text><text x="396" y="15.8" font-size="6.5" font-weight="bold" fill="#111" text-anchor="end" stroke="#111" stroke-width="0.1">P-value</text><line x1="250.7" y1="290.2" x2="250.7" y2="292.0" stroke="#666" stroke-width="0.6"/><line x1="270.5" y1="290.2" x2="270.5" y2="292.0" stroke="#666" stroke-width="0.6"/><line x1="282.1" y1="290.2" x2="282.1" y2="292.0" stroke="#666" stroke-width="0.6"/><line x1="290.3" y1="290.2" x2="290.3" y2="292.0" stroke="#666" stroke-width="0.6"/><text x="252.5" y="298" font-size="6.4" text-anchor="middle" fill="#333" stroke="#333" stroke-width="0.25">0.5</text><text x="271.25" y="298" font-size="6.4" text-anchor="middle" fill="#333" stroke="#333" stroke-width="0.25">1</text><text x="283.75" y="298" font-size="6.4" text-anchor="middle" fill="#333" stroke="#333" stroke-width="0.25">1.5</text><text x="290.3" y="298" font-size="6.4" text-anchor="middle" fill="#333" stroke="#333" stroke-width="0.25">2</text></svg>
</body></html>
